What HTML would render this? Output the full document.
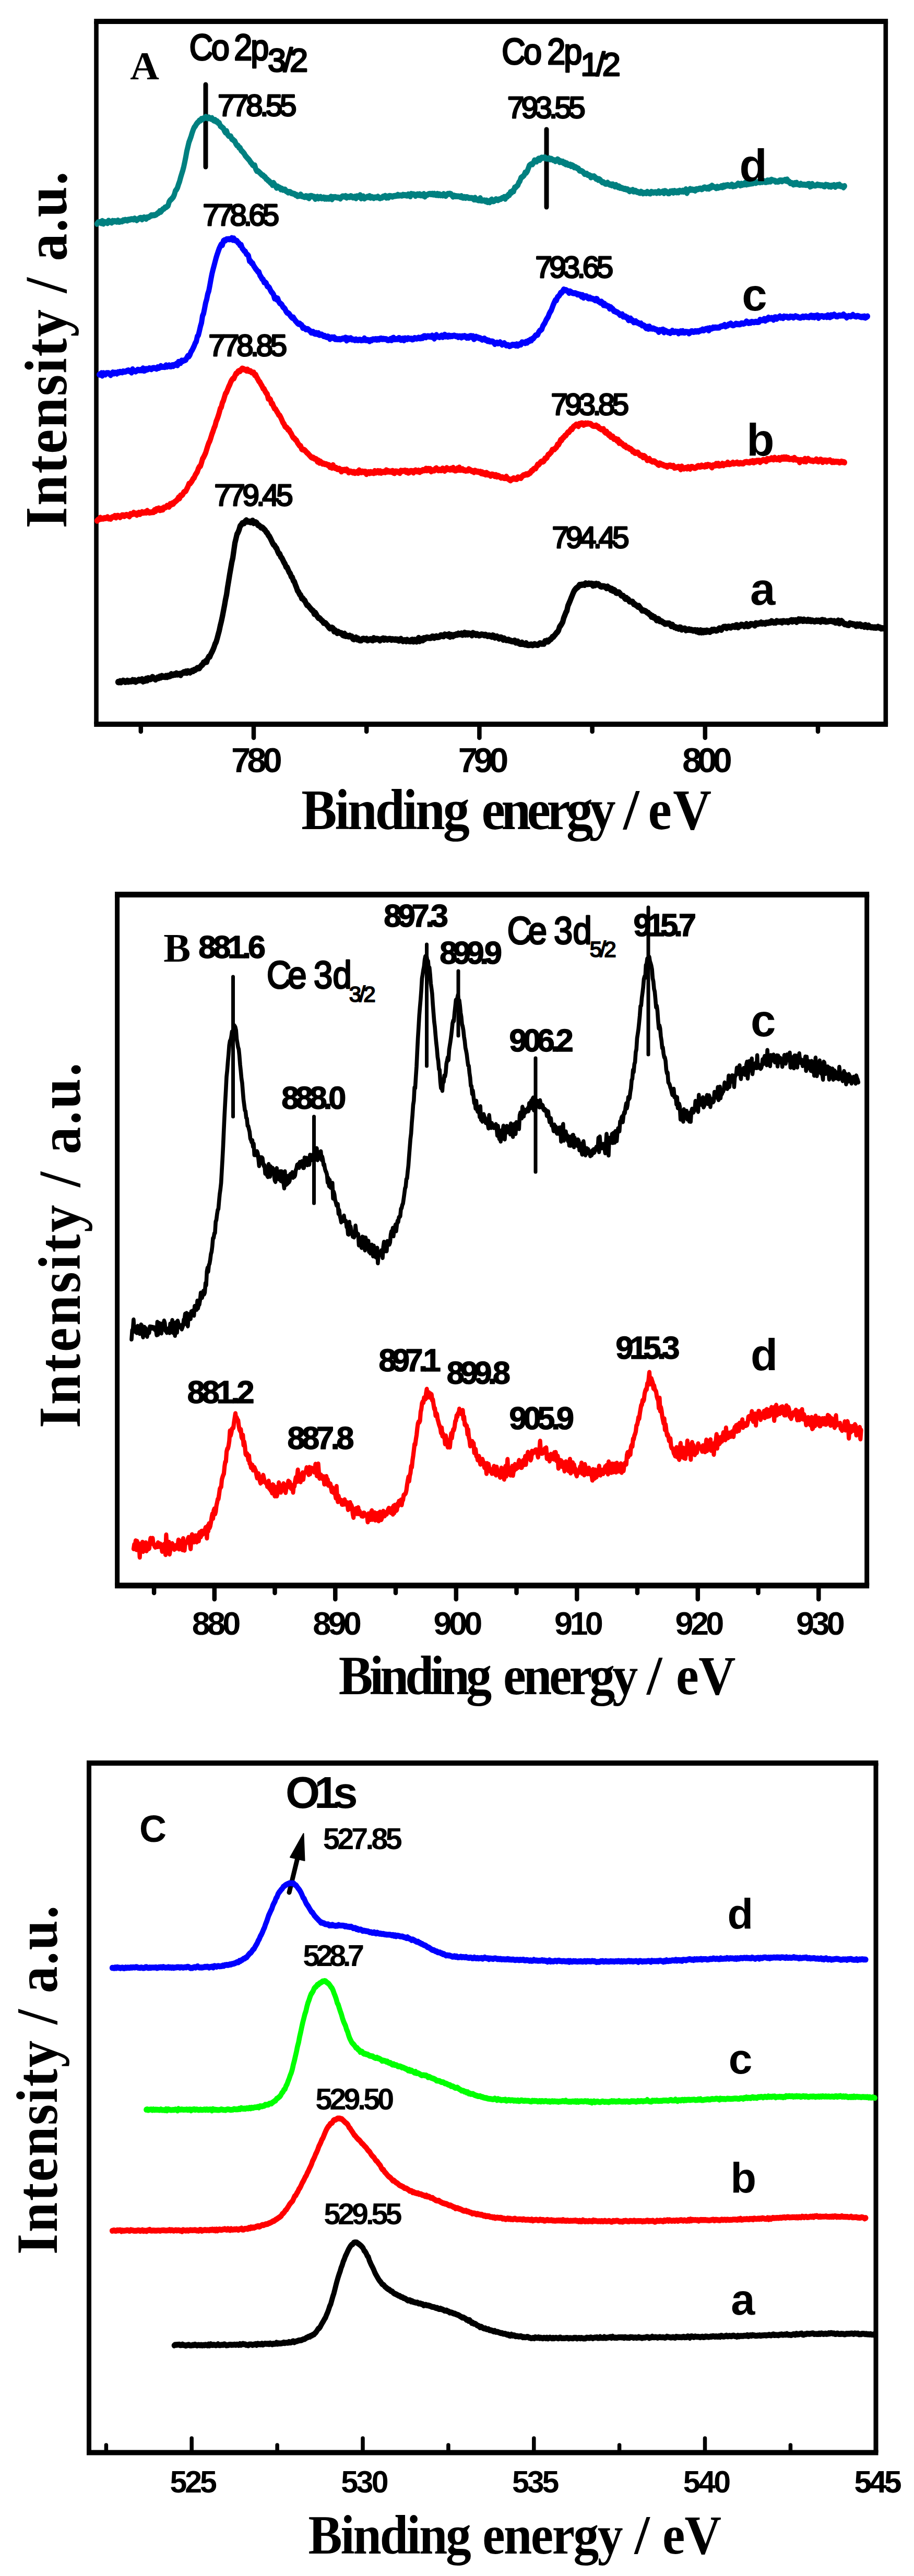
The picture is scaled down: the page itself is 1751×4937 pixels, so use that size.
<!DOCTYPE html>
<html><head><meta charset="utf-8"><title>XPS spectra</title>
<style>html,body{margin:0;padding:0;background:#fff}svg{display:block}</style>
</head><body>
<svg width="1751" height="4937" viewBox="0 0 1751 4937">
<rect width="1751" height="4937" fill="#fff"/>
<line x1="180.2" y1="41" x2="1701.1" y2="41" stroke="#000" stroke-width="10"/>
<line x1="180.2" y1="1388" x2="1701.1" y2="1388" stroke="#000" stroke-width="10"/>
<line x1="184.5" y1="41" x2="184.5" y2="1388" stroke="#000" stroke-width="8.6"/>
<line x1="1696.8" y1="41" x2="1696.8" y2="1388" stroke="#000" stroke-width="8.6"/>
<line x1="269.8" y1="1388" x2="269.8" y2="1402" stroke="#000" stroke-width="8.5" stroke-linecap="round"/>
<line x1="486.0" y1="1388" x2="486.0" y2="1414" stroke="#000" stroke-width="8.5" stroke-linecap="round"/>
<line x1="702.2" y1="1388" x2="702.2" y2="1402" stroke="#000" stroke-width="8.5" stroke-linecap="round"/>
<line x1="918.4" y1="1388" x2="918.4" y2="1414" stroke="#000" stroke-width="8.5" stroke-linecap="round"/>
<line x1="1134.6" y1="1388" x2="1134.6" y2="1402" stroke="#000" stroke-width="8.5" stroke-linecap="round"/>
<line x1="1350.8" y1="1388" x2="1350.8" y2="1414" stroke="#000" stroke-width="8.5" stroke-linecap="round"/>
<line x1="1567.0" y1="1388" x2="1567.0" y2="1402" stroke="#000" stroke-width="8.5" stroke-linecap="round"/>
<line x1="394" y1="162" x2="394" y2="320" stroke="#000" stroke-width="9" stroke-linecap="round"/>
<line x1="1047" y1="248" x2="1047" y2="397" stroke="#000" stroke-width="9" stroke-linecap="round"/>
<path transform="scale(1,1.16)" d="M186.0,369.9 L188.0,367.3 L190.0,367.4 L192.0,366.7 L194.0,368.8 L196.0,365.1 L198.0,369.5 L200.0,366.6 L202.0,367.7 L204.0,366.9 L206.0,368.7 L208.0,364.7 L210.0,366.5 L212.0,366.2 L214.0,367.8 L216.0,365.1 L218.0,366.0 L220.0,365.1 L222.0,365.9 L224.0,366.4 L226.0,364.3 L228.0,366.6 L230.0,366.2 L232.0,365.6 L234.0,365.8 L236.0,363.9 L238.0,364.3 L240.0,363.2 L242.0,363.7 L244.0,364.4 L246.0,362.9 L248.0,363.0 L250.0,362.5 L252.0,362.1 L254.0,362.1 L256.0,362.6 L258.0,361.1 L260.0,362.4 L262.0,363.8 L264.0,362.5 L266.0,361.2 L268.0,360.2 L270.0,360.0 L272.0,362.5 L274.0,360.3 L276.0,359.2 L278.0,359.8 L280.0,361.6 L282.0,359.0 L284.0,359.1 L286.0,358.3 L288.0,357.1 L290.0,355.7 L292.0,355.9 L294.0,355.4 L296.0,355.5 L298.0,354.9 L300.0,354.0 L302.0,352.3 L304.0,351.8 L306.0,348.8 L308.0,349.9 L310.0,347.8 L312.0,345.5 L314.0,345.0 L316.0,342.9 L318.0,342.5 L320.0,341.1 L322.0,339.7 L324.0,333.5 L326.0,331.0 L328.0,329.5 L330.0,327.5 L332.0,325.4 L334.0,321.6 L336.0,315.5 L338.0,313.3 L340.0,310.1 L342.0,304.5 L344.0,299.9 L346.0,293.3 L348.0,287.6 L350.0,282.1 L352.0,275.6 L354.0,267.5 L356.0,258.9 L358.0,249.4 L360.0,242.4 L362.0,235.0 L364.0,230.4 L366.0,225.5 L368.0,219.7 L370.0,214.7 L372.0,210.6 L374.0,208.5 L376.0,205.4 L378.0,203.0 L380.0,201.6 L382.0,199.2 L384.0,199.1 L386.0,196.4 L388.0,197.2 L390.0,195.4 L392.0,195.1 L394.0,193.1 L396.0,194.6 L398.0,195.5 L400.0,194.0 L402.0,195.3 L404.0,196.2 L406.0,195.3 L408.0,197.9 L410.0,199.2 L412.0,198.2 L414.0,200.7 L416.0,200.2 L418.0,203.2 L420.0,203.2 L422.0,208.1 L424.0,209.2 L426.0,210.8 L428.0,212.0 L430.0,216.3 L432.0,219.0 L434.0,216.6 L436.0,222.0 L438.0,224.4 L440.0,224.9 L442.0,225.2 L444.0,229.6 L446.0,230.5 L448.0,232.1 L450.0,233.5 L452.0,237.6 L454.0,240.1 L456.0,240.6 L458.0,244.0 L460.0,244.3 L462.0,248.6 L464.0,249.9 L466.0,251.8 L468.0,254.0 L470.0,257.2 L472.0,259.2 L474.0,261.2 L476.0,263.0 L478.0,265.1 L480.0,268.0 L482.0,269.8 L484.0,272.5 L486.0,273.5 L488.0,273.3 L490.0,279.3 L492.0,282.6 L494.0,282.6 L496.0,283.9 L498.0,285.6 L500.0,287.4 L502.0,289.1 L504.0,289.5 L506.0,291.7 L508.0,292.7 L510.0,295.6 L512.0,296.4 L514.0,298.7 L516.0,299.3 L518.0,301.9 L520.0,302.3 L522.0,305.7 L524.0,302.3 L526.0,304.8 L528.0,307.6 L530.0,310.4 L532.0,308.2 L534.0,309.5 L536.0,310.1 L538.0,312.8 L540.0,311.8 L542.0,313.7 L544.0,313.4 L546.0,313.1 L548.0,315.6 L550.0,316.5 L552.0,318.0 L554.0,317.1 L556.0,317.2 L558.0,319.1 L560.0,319.4 L562.0,320.0 L564.0,320.2 L566.0,322.1 L568.0,321.8 L570.0,324.0 L572.0,323.6 L574.0,323.5 L576.0,321.3 L578.0,324.2 L580.0,324.3 L582.0,325.0 L584.0,325.5 L586.0,324.1 L588.0,325.7 L590.0,324.4 L592.0,327.5 L594.0,324.0 L596.0,323.7 L598.0,324.1 L600.0,325.1 L602.0,325.0 L604.0,328.6 L606.0,326.1 L608.0,325.1 L610.0,327.9 L612.0,326.1 L614.0,325.3 L616.0,327.7 L618.0,327.4 L620.0,326.2 L622.0,328.3 L624.0,326.8 L626.0,328.4 L628.0,327.1 L630.0,328.3 L632.0,326.6 L634.0,325.1 L636.0,329.2 L638.0,325.7 L640.0,326.1 L642.0,325.5 L644.0,326.0 L646.0,326.4 L648.0,326.3 L650.0,326.8 L652.0,328.0 L654.0,325.8 L656.0,324.5 L658.0,324.5 L660.0,325.0 L662.0,323.9 L664.0,326.6 L666.0,325.1 L668.0,325.3 L670.0,325.6 L672.0,324.0 L674.0,324.6 L676.0,326.3 L678.0,326.2 L680.0,325.0 L682.0,327.5 L684.0,324.1 L686.0,325.1 L688.0,325.3 L690.0,322.4 L692.0,327.7 L694.0,326.0 L696.0,324.4 L698.0,327.9 L700.0,326.3 L702.0,326.2 L704.0,325.0 L706.0,325.8 L708.0,324.0 L710.0,326.7 L712.0,325.4 L714.0,325.9 L716.0,327.2 L718.0,326.1 L720.0,326.1 L722.0,326.2 L724.0,325.0 L726.0,326.8 L728.0,327.6 L730.0,326.7 L732.0,326.7 L734.0,324.7 L736.0,324.5 L738.0,323.7 L740.0,326.6 L742.0,324.7 L744.0,326.4 L746.0,323.7 L748.0,323.9 L750.0,324.3 L752.0,325.0 L754.0,323.9 L756.0,323.9 L758.0,323.5 L760.0,323.5 L762.0,322.0 L764.0,323.2 L766.0,322.8 L768.0,322.8 L770.0,323.3 L772.0,321.9 L774.0,322.5 L776.0,322.2 L778.0,322.9 L780.0,323.2 L782.0,321.2 L784.0,322.8 L786.0,324.4 L788.0,320.4 L790.0,321.1 L792.0,320.9 L794.0,321.6 L796.0,323.6 L798.0,321.8 L800.0,320.9 L802.0,322.3 L804.0,320.9 L806.0,322.8 L808.0,321.8 L810.0,323.0 L812.0,320.6 L814.0,324.7 L816.0,322.2 L818.0,322.0 L820.0,321.2 L822.0,320.4 L824.0,320.2 L826.0,321.0 L828.0,320.2 L830.0,321.4 L832.0,320.2 L834.0,321.8 L836.0,322.2 L838.0,320.4 L840.0,322.6 L842.0,321.1 L844.0,322.7 L846.0,322.0 L848.0,322.9 L850.0,320.7 L852.0,321.8 L854.0,323.7 L856.0,321.6 L858.0,320.2 L860.0,320.5 L862.0,320.0 L864.0,320.7 L866.0,322.8 L868.0,324.9 L870.0,323.2 L872.0,324.3 L874.0,324.0 L876.0,324.4 L878.0,324.4 L880.0,324.6 L882.0,325.5 L884.0,323.9 L886.0,326.5 L888.0,326.7 L890.0,325.6 L892.0,327.0 L894.0,325.6 L896.0,326.1 L898.0,327.1 L900.0,327.1 L902.0,327.1 L904.0,327.2 L906.0,327.7 L908.0,329.7 L910.0,326.8 L912.0,329.7 L914.0,329.4 L916.0,330.8 L918.0,330.9 L920.0,327.4 L922.0,331.5 L924.0,331.4 L926.0,331.3 L928.0,331.0 L930.0,332.6 L932.0,331.3 L934.0,333.9 L936.0,332.5 L938.0,334.3 L940.0,331.0 L942.0,329.8 L944.0,332.4 L946.0,332.3 L948.0,331.1 L950.0,329.1 L952.0,329.9 L954.0,330.7 L956.0,329.4 L958.0,329.0 L960.0,328.5 L962.0,327.1 L964.0,327.0 L966.0,325.4 L968.0,328.4 L970.0,324.9 L972.0,324.8 L974.0,321.7 L976.0,322.1 L978.0,317.3 L980.0,318.5 L982.0,315.4 L984.0,315.8 L986.0,309.9 L988.0,309.4 L990.0,307.4 L992.0,305.9 L994.0,301.4 L996.0,299.2 L998.0,293.9 L1000.0,292.6 L1002.0,291.3 L1004.0,289.4 L1006.0,285.3 L1008.0,285.6 L1010.0,283.0 L1012.0,278.6 L1014.0,273.6 L1016.0,272.1 L1018.0,271.1 L1020.0,271.4 L1022.0,268.9 L1024.0,264.9 L1026.0,265.9 L1028.0,266.8 L1030.0,263.5 L1032.0,262.1 L1034.0,264.4 L1036.0,261.4 L1038.0,260.3 L1040.0,260.9 L1042.0,260.4 L1044.0,259.9 L1046.0,261.9 L1048.0,262.1 L1050.0,262.1 L1052.0,261.5 L1054.0,263.3 L1056.0,262.4 L1058.0,263.5 L1060.0,264.5 L1062.0,264.7 L1064.0,266.2 L1066.0,265.2 L1068.0,263.3 L1070.0,264.4 L1072.0,267.8 L1074.0,266.4 L1076.0,267.8 L1078.0,267.0 L1080.0,269.7 L1082.0,268.8 L1084.0,271.5 L1086.0,269.9 L1088.0,272.4 L1090.0,272.6 L1092.0,271.8 L1094.0,274.5 L1096.0,273.0 L1098.0,273.9 L1100.0,276.5 L1102.0,275.9 L1104.0,276.9 L1106.0,278.1 L1108.0,278.4 L1110.0,281.7 L1112.0,282.2 L1114.0,282.5 L1116.0,283.4 L1118.0,285.1 L1120.0,287.5 L1122.0,287.5 L1124.0,286.9 L1126.0,289.2 L1128.0,289.1 L1130.0,289.8 L1132.0,293.0 L1134.0,291.3 L1136.0,292.1 L1138.0,291.2 L1140.0,292.7 L1142.0,295.5 L1144.0,295.1 L1146.0,297.2 L1148.0,296.1 L1150.0,297.3 L1152.0,299.7 L1154.0,301.3 L1156.0,301.0 L1158.0,302.4 L1160.0,303.6 L1162.0,303.6 L1164.0,302.0 L1166.0,303.6 L1168.0,305.1 L1170.0,304.6 L1172.0,306.2 L1174.0,304.6 L1176.0,306.1 L1178.0,308.2 L1180.0,305.7 L1182.0,307.5 L1184.0,309.3 L1186.0,307.9 L1188.0,310.4 L1190.0,310.0 L1192.0,311.0 L1194.0,311.4 L1196.0,312.3 L1198.0,311.9 L1200.0,313.0 L1202.0,312.7 L1204.0,314.4 L1206.0,316.0 L1208.0,314.7 L1210.0,315.1 L1212.0,313.9 L1214.0,316.4 L1216.0,315.1 L1218.0,315.3 L1220.0,317.1 L1222.0,317.0 L1224.0,318.2 L1226.0,318.8 L1228.0,316.8 L1230.0,317.7 L1232.0,319.6 L1234.0,318.8 L1236.0,318.5 L1238.0,319.2 L1240.0,317.1 L1242.0,318.5 L1244.0,319.4 L1246.0,319.7 L1248.0,317.0 L1250.0,317.7 L1252.0,318.4 L1254.0,317.7 L1256.0,317.6 L1258.0,318.8 L1260.0,317.6 L1262.0,316.1 L1264.0,318.5 L1266.0,317.6 L1268.0,317.3 L1270.0,316.3 L1272.0,319.2 L1274.0,315.6 L1276.0,316.2 L1278.0,317.7 L1280.0,319.3 L1282.0,319.3 L1284.0,316.4 L1286.0,317.4 L1288.0,315.7 L1290.0,318.4 L1292.0,315.4 L1294.0,316.7 L1296.0,317.8 L1298.0,316.2 L1300.0,317.8 L1302.0,315.0 L1304.0,316.1 L1306.0,316.5 L1308.0,315.1 L1310.0,316.6 L1312.0,315.5 L1314.0,312.8 L1316.0,318.9 L1318.0,315.0 L1320.0,314.2 L1322.0,312.3 L1324.0,313.7 L1326.0,312.9 L1328.0,313.9 L1330.0,313.4 L1332.0,314.8 L1334.0,312.6 L1336.0,312.8 L1338.0,312.4 L1340.0,311.6 L1342.0,311.4 L1344.0,312.6 L1346.0,312.0 L1348.0,310.2 L1350.0,309.5 L1352.0,310.5 L1354.0,311.6 L1356.0,310.1 L1358.0,311.9 L1360.0,308.9 L1362.0,309.8 L1364.0,306.7 L1366.0,308.6 L1368.0,308.8 L1370.0,309.6 L1372.0,310.8 L1374.0,308.7 L1376.0,310.2 L1378.0,309.1 L1380.0,309.3 L1382.0,307.6 L1384.0,309.5 L1386.0,306.6 L1388.0,308.2 L1390.0,306.4 L1392.0,306.8 L1394.0,305.6 L1396.0,306.5 L1398.0,307.3 L1400.0,306.6 L1402.0,305.0 L1404.0,308.0 L1406.0,306.6 L1408.0,307.2 L1410.0,306.7 L1412.0,304.9 L1414.0,303.3 L1416.0,304.2 L1418.0,306.4 L1420.0,303.6 L1422.0,305.5 L1424.0,303.7 L1426.0,304.6 L1428.0,301.8 L1430.0,304.9 L1432.0,303.3 L1434.0,304.1 L1436.0,303.1 L1438.0,303.5 L1440.0,302.3 L1442.0,303.0 L1444.0,300.2 L1446.0,300.5 L1448.0,302.3 L1450.0,301.2 L1452.0,300.8 L1454.0,300.6 L1456.0,301.2 L1458.0,299.7 L1460.0,300.8 L1462.0,299.0 L1464.0,299.4 L1466.0,300.8 L1468.0,300.8 L1470.0,298.2 L1472.0,300.2 L1474.0,298.0 L1476.0,299.9 L1478.0,296.9 L1480.0,297.7 L1482.0,298.2 L1484.0,298.5 L1486.0,300.2 L1488.0,299.6 L1490.0,300.2 L1492.0,299.8 L1494.0,298.0 L1496.0,298.0 L1498.0,299.5 L1500.0,298.3 L1502.0,298.1 L1504.0,297.1 L1506.0,298.9 L1508.0,296.6 L1510.0,299.9 L1512.0,300.1 L1514.0,302.7 L1516.0,302.1 L1518.0,302.8 L1520.0,305.0 L1522.0,302.5 L1524.0,304.2 L1526.0,301.9 L1528.0,304.2 L1530.0,304.8 L1532.0,305.4 L1534.0,303.6 L1536.0,305.0 L1538.0,305.1 L1540.0,304.9 L1542.0,305.2 L1544.0,305.6 L1546.0,305.6 L1548.0,304.1 L1550.0,304.0 L1552.0,308.2 L1554.0,307.6 L1556.0,304.0 L1558.0,306.1 L1560.0,306.4 L1562.0,306.6 L1564.0,306.0 L1566.0,304.9 L1568.0,305.8 L1570.0,305.6 L1572.0,306.4 L1574.0,306.0 L1576.0,306.2 L1578.0,307.6 L1580.0,307.9 L1582.0,305.3 L1584.0,306.2 L1586.0,305.9 L1588.0,308.2 L1590.0,306.8 L1592.0,308.6 L1594.0,306.5 L1596.0,307.1 L1598.0,305.7 L1600.0,308.7 L1602.0,306.9 L1604.0,305.7 L1606.0,306.8 L1608.0,304.9 L1610.0,307.5 L1612.0,307.7 L1614.0,308.0 L1616.0,309.4 L1618.0,307.4" fill="none" stroke="#008080" stroke-width="10" stroke-linejoin="round" stroke-linecap="round"/>
<path transform="scale(1,1.16)" d="M190.0,618.8 L192.0,619.1 L194.0,616.5 L196.0,620.6 L198.0,616.5 L200.0,617.4 L202.0,618.7 L204.0,616.5 L206.0,616.5 L208.0,616.5 L210.0,618.0 L212.0,619.7 L214.0,617.0 L216.0,615.5 L218.0,617.1 L220.0,615.7 L222.0,616.1 L224.0,617.2 L226.0,614.9 L228.0,615.5 L230.0,614.3 L232.0,614.9 L234.0,615.2 L236.0,613.6 L238.0,614.1 L240.0,614.0 L242.0,613.3 L244.0,612.5 L246.0,612.0 L248.0,613.3 L250.0,612.9 L252.0,615.5 L254.0,610.1 L256.0,612.7 L258.0,612.8 L260.0,613.7 L262.0,612.5 L264.0,610.8 L266.0,611.5 L268.0,611.9 L270.0,610.8 L272.0,611.8 L274.0,608.6 L276.0,612.4 L278.0,611.9 L280.0,609.7 L282.0,610.5 L284.0,609.6 L286.0,608.4 L288.0,609.2 L290.0,610.0 L292.0,608.3 L294.0,608.0 L296.0,608.1 L298.0,608.5 L300.0,609.2 L302.0,606.8 L304.0,607.9 L306.0,607.3 L308.0,604.8 L310.0,606.2 L312.0,606.3 L314.0,606.2 L316.0,606.4 L318.0,603.6 L320.0,605.7 L322.0,604.6 L324.0,603.5 L326.0,605.4 L328.0,605.3 L330.0,603.4 L332.0,604.7 L334.0,602.9 L336.0,602.9 L338.0,601.0 L340.0,603.4 L342.0,597.9 L344.0,599.9 L346.0,599.8 L348.0,595.7 L350.0,596.7 L352.0,595.6 L354.0,595.3 L356.0,594.4 L358.0,591.0 L360.0,588.0 L362.0,588.8 L364.0,585.9 L366.0,581.0 L368.0,578.7 L370.0,575.1 L372.0,571.5 L374.0,567.0 L376.0,564.1 L378.0,556.1 L380.0,553.7 L382.0,546.8 L384.0,539.2 L386.0,533.4 L388.0,521.8 L390.0,517.9 L392.0,509.4 L394.0,500.3 L396.0,494.4 L398.0,485.6 L400.0,480.6 L402.0,471.5 L404.0,461.9 L406.0,452.8 L408.0,445.7 L410.0,439.3 L412.0,432.7 L414.0,426.1 L416.0,420.5 L418.0,415.5 L420.0,410.6 L422.0,406.8 L424.0,403.6 L426.0,404.9 L428.0,398.1 L430.0,396.9 L432.0,397.3 L434.0,395.4 L436.0,395.3 L438.0,395.1 L440.0,395.4 L442.0,395.0 L444.0,393.4 L446.0,396.4 L448.0,394.1 L450.0,396.9 L452.0,397.5 L454.0,397.9 L456.0,401.1 L458.0,402.0 L460.0,405.4 L462.0,404.9 L464.0,410.0 L466.0,412.3 L468.0,414.6 L470.0,415.6 L472.0,419.6 L474.0,420.7 L476.0,422.6 L478.0,431.2 L480.0,431.2 L482.0,434.8 L484.0,435.0 L486.0,439.0 L488.0,441.7 L490.0,444.3 L492.0,446.4 L494.0,448.8 L496.0,449.4 L498.0,455.0 L500.0,457.4 L502.0,460.7 L504.0,461.6 L506.0,466.4 L508.0,466.4 L510.0,468.0 L512.0,472.9 L514.0,473.8 L516.0,475.3 L518.0,479.3 L520.0,482.3 L522.0,484.1 L524.0,486.7 L526.0,493.1 L528.0,491.7 L530.0,494.8 L532.0,493.2 L534.0,498.1 L536.0,500.9 L538.0,501.9 L540.0,503.5 L542.0,507.2 L544.0,508.6 L546.0,510.4 L548.0,514.4 L550.0,516.6 L552.0,517.4 L554.0,518.5 L556.0,521.4 L558.0,523.5 L560.0,525.1 L562.0,524.5 L564.0,527.5 L566.0,530.0 L568.0,531.9 L570.0,533.9 L572.0,535.2 L574.0,534.5 L576.0,536.4 L578.0,537.1 L580.0,541.7 L582.0,541.0 L584.0,542.5 L586.0,544.1 L588.0,543.6 L590.0,543.7 L592.0,545.5 L594.0,546.7 L596.0,549.5 L598.0,549.6 L600.0,548.2 L602.0,550.9 L604.0,551.6 L606.0,550.2 L608.0,551.9 L610.0,550.5 L612.0,553.5 L614.0,553.3 L616.0,552.6 L618.0,553.8 L620.0,555.4 L622.0,554.9 L624.0,556.3 L626.0,557.0 L628.0,555.9 L630.0,556.9 L632.0,560.0 L634.0,558.1 L636.0,557.3 L638.0,558.6 L640.0,557.3 L642.0,560.3 L644.0,559.6 L646.0,560.6 L648.0,560.6 L650.0,560.1 L652.0,560.9 L654.0,560.2 L656.0,559.4 L658.0,559.1 L660.0,559.8 L662.0,557.7 L664.0,562.6 L666.0,558.8 L668.0,560.7 L670.0,559.4 L672.0,558.7 L674.0,561.0 L676.0,560.8 L678.0,561.1 L680.0,562.0 L682.0,560.7 L684.0,561.9 L686.0,562.1 L688.0,561.2 L690.0,561.3 L692.0,562.3 L694.0,561.8 L696.0,561.9 L698.0,559.1 L700.0,561.8 L702.0,562.1 L704.0,561.6 L706.0,562.1 L708.0,563.8 L710.0,561.7 L712.0,562.3 L714.0,560.6 L716.0,560.5 L718.0,560.9 L720.0,560.2 L722.0,561.3 L724.0,560.2 L726.0,561.0 L728.0,559.5 L730.0,559.2 L732.0,560.2 L734.0,559.7 L736.0,560.1 L738.0,560.1 L740.0,560.3 L742.0,561.8 L744.0,562.1 L746.0,561.3 L748.0,560.1 L750.0,562.1 L752.0,558.7 L754.0,558.1 L756.0,560.6 L758.0,560.3 L760.0,560.1 L762.0,560.3 L764.0,558.4 L766.0,558.9 L768.0,561.6 L770.0,561.3 L772.0,559.3 L774.0,562.3 L776.0,558.9 L778.0,559.5 L780.0,560.4 L782.0,558.7 L784.0,559.5 L786.0,559.8 L788.0,559.5 L790.0,560.9 L792.0,560.5 L794.0,558.5 L796.0,558.8 L798.0,559.5 L800.0,559.0 L802.0,557.9 L804.0,559.0 L806.0,559.1 L808.0,557.2 L810.0,558.5 L812.0,555.5 L814.0,555.3 L816.0,557.4 L818.0,555.8 L820.0,555.4 L822.0,556.1 L824.0,555.6 L826.0,556.6 L828.0,554.5 L830.0,555.6 L832.0,559.4 L834.0,555.9 L836.0,553.5 L838.0,556.3 L840.0,556.1 L842.0,557.0 L844.0,555.5 L846.0,554.5 L848.0,556.8 L850.0,555.9 L852.0,553.0 L854.0,555.8 L856.0,554.7 L858.0,556.2 L860.0,554.5 L862.0,555.7 L864.0,555.1 L866.0,555.5 L868.0,554.8 L870.0,554.4 L872.0,555.0 L874.0,555.6 L876.0,555.4 L878.0,556.9 L880.0,555.6 L882.0,555.9 L884.0,557.7 L886.0,555.5 L888.0,556.2 L890.0,555.0 L892.0,555.9 L894.0,557.9 L896.0,556.5 L898.0,558.0 L900.0,555.3 L902.0,555.1 L904.0,557.2 L906.0,555.5 L908.0,560.3 L910.0,558.9 L912.0,556.3 L914.0,557.7 L916.0,557.5 L918.0,558.9 L920.0,558.7 L922.0,560.2 L924.0,561.3 L926.0,559.9 L928.0,559.3 L930.0,561.7 L932.0,561.4 L934.0,563.4 L936.0,562.5 L938.0,564.1 L940.0,564.1 L942.0,564.0 L944.0,564.2 L946.0,565.9 L948.0,568.4 L950.0,566.8 L952.0,566.1 L954.0,567.3 L956.0,566.9 L958.0,565.6 L960.0,567.7 L962.0,569.4 L964.0,567.6 L966.0,566.9 L968.0,569.0 L970.0,570.7 L972.0,570.0 L974.0,570.3 L976.0,571.9 L978.0,571.3 L980.0,570.4 L982.0,569.5 L984.0,569.9 L986.0,569.7 L988.0,570.8 L990.0,568.7 L992.0,571.2 L994.0,569.4 L996.0,568.4 L998.0,569.3 L1000.0,565.5 L1002.0,566.3 L1004.0,565.9 L1006.0,566.9 L1008.0,564.7 L1010.0,566.2 L1012.0,563.3 L1014.0,563.6 L1016.0,561.4 L1018.0,562.4 L1020.0,559.6 L1022.0,559.1 L1024.0,556.5 L1026.0,554.3 L1028.0,553.5 L1030.0,553.2 L1032.0,549.0 L1034.0,546.4 L1036.0,545.3 L1038.0,543.8 L1040.0,538.6 L1042.0,535.9 L1044.0,533.3 L1046.0,529.1 L1048.0,526.2 L1050.0,523.7 L1052.0,518.9 L1054.0,515.5 L1056.0,512.9 L1058.0,508.2 L1060.0,503.4 L1062.0,499.6 L1064.0,495.9 L1066.0,496.0 L1068.0,491.0 L1070.0,489.4 L1072.0,487.6 L1074.0,483.8 L1076.0,483.7 L1078.0,480.9 L1080.0,478.2 L1082.0,479.9 L1084.0,479.1 L1086.0,480.1 L1088.0,481.3 L1090.0,483.9 L1092.0,481.4 L1094.0,482.4 L1096.0,483.8 L1098.0,484.3 L1100.0,484.6 L1102.0,484.3 L1104.0,485.1 L1106.0,486.6 L1108.0,486.0 L1110.0,487.1 L1112.0,486.9 L1114.0,490.0 L1116.0,487.5 L1118.0,491.8 L1120.0,489.5 L1122.0,489.4 L1124.0,489.7 L1126.0,492.3 L1128.0,493.1 L1130.0,491.5 L1132.0,493.3 L1134.0,493.3 L1136.0,493.8 L1138.0,494.8 L1140.0,496.1 L1142.0,493.8 L1144.0,494.2 L1146.0,497.7 L1148.0,498.3 L1150.0,500.1 L1152.0,498.3 L1154.0,500.1 L1156.0,504.0 L1158.0,501.8 L1160.0,504.7 L1162.0,504.5 L1164.0,506.0 L1166.0,506.0 L1168.0,509.9 L1170.0,507.5 L1172.0,509.3 L1174.0,510.6 L1176.0,513.9 L1178.0,514.0 L1180.0,515.4 L1182.0,515.7 L1184.0,517.0 L1186.0,518.3 L1188.0,520.5 L1190.0,520.1 L1192.0,519.2 L1194.0,523.1 L1196.0,523.0 L1198.0,522.6 L1200.0,524.6 L1202.0,524.7 L1204.0,529.0 L1206.0,527.2 L1208.0,526.2 L1210.0,529.7 L1212.0,529.3 L1214.0,532.5 L1216.0,532.1 L1218.0,530.8 L1220.0,533.0 L1222.0,533.2 L1224.0,534.4 L1226.0,535.3 L1228.0,534.5 L1230.0,537.7 L1232.0,537.2 L1234.0,537.9 L1236.0,540.4 L1238.0,542.3 L1240.0,540.0 L1242.0,543.2 L1244.0,539.4 L1246.0,542.8 L1248.0,542.1 L1250.0,543.1 L1252.0,542.6 L1254.0,543.5 L1256.0,544.3 L1258.0,544.7 L1260.0,545.9 L1262.0,548.5 L1264.0,545.5 L1266.0,546.4 L1268.0,544.9 L1270.0,544.4 L1272.0,549.0 L1274.0,546.1 L1276.0,547.0 L1278.0,548.0 L1280.0,549.1 L1282.0,548.5 L1284.0,550.3 L1286.0,548.1 L1288.0,546.4 L1290.0,548.7 L1292.0,548.7 L1294.0,547.7 L1296.0,548.4 L1298.0,548.1 L1300.0,550.8 L1302.0,548.2 L1304.0,547.4 L1306.0,549.3 L1308.0,547.0 L1310.0,549.6 L1312.0,549.6 L1314.0,548.2 L1316.0,548.5 L1318.0,548.5 L1320.0,550.9 L1322.0,549.5 L1324.0,547.5 L1326.0,547.3 L1328.0,548.4 L1330.0,548.2 L1332.0,547.0 L1334.0,547.9 L1336.0,547.0 L1338.0,548.0 L1340.0,546.9 L1342.0,546.0 L1344.0,545.8 L1346.0,544.3 L1348.0,545.8 L1350.0,544.9 L1352.0,543.6 L1354.0,543.9 L1356.0,542.8 L1358.0,545.9 L1360.0,542.3 L1362.0,543.1 L1364.0,542.7 L1366.0,541.1 L1368.0,541.7 L1370.0,541.0 L1372.0,541.4 L1374.0,541.1 L1376.0,541.4 L1378.0,541.2 L1380.0,539.5 L1382.0,539.1 L1384.0,538.8 L1386.0,538.2 L1388.0,536.9 L1390.0,539.3 L1392.0,538.3 L1394.0,537.8 L1396.0,536.0 L1398.0,535.9 L1400.0,534.5 L1402.0,536.9 L1404.0,537.5 L1406.0,537.1 L1408.0,536.1 L1410.0,534.7 L1412.0,535.7 L1414.0,535.4 L1416.0,536.0 L1418.0,535.8 L1420.0,534.3 L1422.0,534.4 L1424.0,534.9 L1426.0,534.4 L1428.0,533.4 L1430.0,531.0 L1432.0,532.4 L1434.0,533.8 L1436.0,532.8 L1438.0,533.4 L1440.0,531.7 L1442.0,532.0 L1444.0,532.5 L1446.0,532.1 L1448.0,531.5 L1450.0,532.1 L1452.0,532.1 L1454.0,531.9 L1456.0,528.2 L1458.0,529.2 L1460.0,529.1 L1462.0,528.7 L1464.0,526.9 L1466.0,529.9 L1468.0,527.0 L1470.0,527.8 L1472.0,524.7 L1474.0,526.4 L1476.0,526.4 L1478.0,525.3 L1480.0,526.8 L1482.0,528.3 L1484.0,524.4 L1486.0,524.1 L1488.0,526.8 L1490.0,525.2 L1492.0,524.0 L1494.0,522.7 L1496.0,524.8 L1498.0,524.1 L1500.0,525.6 L1502.0,522.8 L1504.0,523.5 L1506.0,523.4 L1508.0,523.4 L1510.0,524.8 L1512.0,524.6 L1514.0,522.9 L1516.0,523.5 L1518.0,523.3 L1520.0,524.6 L1522.0,523.3 L1524.0,522.3 L1526.0,523.1 L1528.0,523.4 L1530.0,524.5 L1532.0,524.9 L1534.0,524.9 L1536.0,523.9 L1538.0,522.9 L1540.0,524.1 L1542.0,523.2 L1544.0,522.7 L1546.0,523.7 L1548.0,523.8 L1550.0,524.3 L1552.0,522.3 L1554.0,521.4 L1556.0,523.8 L1558.0,522.1 L1560.0,524.3 L1562.0,521.9 L1564.0,522.4 L1566.0,521.0 L1568.0,525.3 L1570.0,522.4 L1572.0,522.8 L1574.0,522.2 L1576.0,522.5 L1578.0,523.6 L1580.0,522.7 L1582.0,522.5 L1584.0,523.8 L1586.0,520.9 L1588.0,523.6 L1590.0,524.1 L1592.0,520.7 L1594.0,522.5 L1596.0,520.7 L1598.0,519.8 L1600.0,521.2 L1602.0,522.7 L1604.0,522.9 L1606.0,521.6 L1608.0,521.1 L1610.0,521.6 L1612.0,521.3 L1614.0,521.4 L1616.0,519.4 L1618.0,521.9 L1620.0,522.0 L1622.0,524.7 L1624.0,523.0 L1626.0,522.1 L1628.0,522.4 L1630.0,522.8 L1632.0,521.7 L1634.0,520.2 L1636.0,521.8 L1638.0,522.5 L1640.0,523.0 L1642.0,522.1 L1644.0,522.0 L1646.0,522.8 L1648.0,523.3 L1650.0,524.0 L1652.0,523.2 L1654.0,524.1 L1656.0,522.6 L1658.0,524.8 L1660.0,523.9 L1662.0,522.6" fill="none" stroke="#0000ff" stroke-width="10" stroke-linejoin="round" stroke-linecap="round"/>
<path transform="scale(1,1.16)" d="M186.0,860.4 L188.0,858.6 L190.0,858.0 L192.0,855.5 L194.0,857.1 L196.0,856.7 L198.0,856.8 L200.0,855.9 L202.0,856.3 L204.0,855.6 L206.0,854.4 L208.0,856.6 L210.0,856.4 L212.0,857.1 L214.0,855.0 L216.0,854.2 L218.0,853.8 L220.0,852.4 L222.0,855.0 L224.0,852.5 L226.0,852.1 L228.0,853.0 L230.0,854.6 L232.0,853.0 L234.0,851.3 L236.0,851.4 L238.0,852.7 L240.0,851.6 L242.0,850.7 L244.0,851.1 L246.0,851.9 L248.0,853.1 L250.0,849.3 L252.0,849.8 L254.0,849.3 L256.0,847.3 L258.0,848.8 L260.0,848.4 L262.0,850.6 L264.0,849.0 L266.0,847.0 L268.0,849.3 L270.0,847.9 L272.0,846.1 L274.0,847.1 L276.0,846.9 L278.0,846.2 L280.0,846.9 L282.0,844.1 L284.0,845.9 L286.0,847.0 L288.0,846.5 L290.0,846.4 L292.0,846.1 L294.0,846.1 L296.0,842.7 L298.0,844.5 L300.0,841.0 L302.0,841.9 L304.0,840.0 L306.0,842.8 L308.0,842.5 L310.0,840.3 L312.0,841.9 L314.0,838.5 L316.0,838.7 L318.0,837.9 L320.0,835.7 L322.0,836.5 L324.0,837.2 L326.0,832.8 L328.0,833.8 L330.0,831.5 L332.0,832.4 L334.0,829.7 L336.0,828.6 L338.0,827.1 L340.0,825.3 L342.0,821.9 L344.0,823.4 L346.0,818.6 L348.0,818.6 L350.0,817.0 L352.0,813.3 L354.0,812.3 L356.0,811.2 L358.0,807.5 L360.0,804.2 L362.0,799.4 L364.0,799.1 L366.0,796.9 L368.0,794.3 L370.0,790.9 L372.0,789.3 L374.0,785.0 L376.0,782.2 L378.0,779.6 L380.0,774.2 L382.0,771.1 L384.0,770.0 L386.0,764.7 L388.0,758.3 L390.0,755.5 L392.0,751.9 L394.0,748.1 L396.0,742.3 L398.0,736.8 L400.0,731.8 L402.0,728.5 L404.0,723.2 L406.0,717.4 L408.0,712.8 L410.0,707.5 L412.0,703.5 L414.0,696.6 L416.0,692.5 L418.0,687.5 L420.0,681.8 L422.0,675.1 L424.0,672.5 L426.0,665.4 L428.0,662.0 L430.0,656.0 L432.0,650.3 L434.0,648.1 L436.0,643.8 L438.0,639.2 L440.0,635.8 L442.0,631.3 L444.0,628.0 L446.0,625.7 L448.0,625.2 L450.0,621.3 L452.0,617.4 L454.0,616.6 L456.0,613.8 L458.0,612.8 L460.0,613.2 L462.0,610.8 L464.0,608.9 L466.0,609.4 L468.0,610.5 L470.0,610.7 L472.0,612.3 L474.0,610.5 L476.0,612.7 L478.0,613.1 L480.0,613.2 L482.0,615.2 L484.0,615.7 L486.0,615.5 L488.0,619.6 L490.0,619.4 L492.0,623.5 L494.0,626.4 L496.0,629.8 L498.0,631.5 L500.0,635.0 L502.0,637.7 L504.0,641.8 L506.0,642.7 L508.0,646.6 L510.0,649.3 L512.0,651.2 L514.0,658.7 L516.0,658.7 L518.0,660.2 L520.0,666.6 L522.0,666.8 L524.0,671.5 L526.0,675.0 L528.0,676.1 L530.0,679.3 L532.0,682.0 L534.0,685.4 L536.0,686.6 L538.0,689.9 L540.0,693.9 L542.0,698.1 L544.0,700.4 L546.0,704.4 L548.0,705.9 L550.0,707.1 L552.0,710.1 L554.0,710.5 L556.0,714.1 L558.0,716.5 L560.0,720.4 L562.0,723.2 L564.0,724.2 L566.0,726.5 L568.0,727.7 L570.0,731.5 L572.0,734.0 L574.0,736.3 L576.0,736.9 L578.0,741.9 L580.0,742.7 L582.0,743.0 L584.0,744.1 L586.0,745.9 L588.0,748.0 L590.0,749.3 L592.0,751.4 L594.0,753.1 L596.0,755.1 L598.0,756.2 L600.0,756.0 L602.0,757.8 L604.0,758.0 L606.0,758.8 L608.0,762.6 L610.0,760.9 L612.0,764.6 L614.0,762.8 L616.0,764.3 L618.0,766.1 L620.0,765.7 L622.0,766.8 L624.0,766.8 L626.0,767.3 L628.0,768.3 L630.0,768.4 L632.0,771.6 L634.0,770.2 L636.0,772.9 L638.0,768.5 L640.0,772.1 L642.0,773.3 L644.0,772.9 L646.0,775.0 L648.0,775.1 L650.0,774.5 L652.0,775.8 L654.0,778.9 L656.0,776.4 L658.0,776.8 L660.0,776.2 L662.0,777.1 L664.0,775.8 L666.0,777.3 L668.0,780.5 L670.0,779.2 L672.0,779.0 L674.0,779.7 L676.0,780.8 L678.0,779.6 L680.0,781.4 L682.0,780.5 L684.0,779.7 L686.0,781.5 L688.0,777.1 L690.0,779.2 L692.0,780.3 L694.0,779.0 L696.0,779.9 L698.0,779.4 L700.0,779.4 L702.0,783.2 L704.0,780.9 L706.0,780.1 L708.0,781.6 L710.0,779.8 L712.0,781.0 L714.0,780.3 L716.0,781.7 L718.0,778.2 L720.0,780.6 L722.0,779.8 L724.0,778.3 L726.0,780.7 L728.0,778.4 L730.0,781.1 L732.0,779.8 L734.0,780.0 L736.0,779.2 L738.0,780.1 L740.0,776.9 L742.0,779.1 L744.0,778.3 L746.0,779.3 L748.0,778.9 L750.0,779.7 L752.0,778.0 L754.0,781.1 L756.0,781.6 L758.0,778.8 L760.0,779.0 L762.0,779.4 L764.0,780.5 L766.0,781.3 L768.0,777.8 L770.0,778.5 L772.0,778.0 L774.0,778.0 L776.0,777.4 L778.0,779.7 L780.0,778.0 L782.0,781.0 L784.0,780.3 L786.0,778.2 L788.0,778.1 L790.0,778.5 L792.0,780.7 L794.0,778.0 L796.0,777.1 L798.0,778.6 L800.0,778.9 L802.0,777.5 L804.0,779.9 L806.0,778.1 L808.0,778.1 L810.0,776.5 L812.0,777.2 L814.0,776.9 L816.0,774.4 L818.0,777.1 L820.0,774.7 L822.0,776.6 L824.0,774.9 L826.0,778.8 L828.0,776.8 L830.0,777.3 L832.0,777.3 L834.0,774.7 L836.0,773.6 L838.0,775.7 L840.0,777.0 L842.0,776.0 L844.0,776.8 L846.0,776.9 L848.0,774.1 L850.0,776.0 L852.0,777.9 L854.0,775.0 L856.0,773.3 L858.0,775.3 L860.0,775.0 L862.0,776.0 L864.0,774.5 L866.0,775.6 L868.0,773.0 L870.0,776.5 L872.0,777.4 L874.0,777.1 L876.0,774.0 L878.0,776.1 L880.0,772.5 L882.0,776.3 L884.0,776.1 L886.0,775.2 L888.0,776.8 L890.0,776.7 L892.0,777.8 L894.0,777.1 L896.0,777.4 L898.0,775.2 L900.0,776.2 L902.0,777.2 L904.0,778.3 L906.0,778.2 L908.0,780.1 L910.0,777.7 L912.0,778.6 L914.0,779.4 L916.0,779.1 L918.0,780.2 L920.0,779.4 L922.0,782.0 L924.0,780.5 L926.0,782.6 L928.0,781.8 L930.0,784.0 L932.0,781.2 L934.0,783.9 L936.0,783.3 L938.0,784.5 L940.0,786.1 L942.0,783.9 L944.0,784.1 L946.0,784.9 L948.0,786.7 L950.0,784.7 L952.0,787.3 L954.0,786.1 L956.0,786.7 L958.0,788.0 L960.0,789.3 L962.0,788.5 L964.0,789.1 L966.0,789.9 L968.0,790.0 L970.0,787.6 L972.0,790.4 L974.0,791.2 L976.0,792.5 L978.0,793.6 L980.0,792.1 L982.0,791.4 L984.0,790.1 L986.0,791.0 L988.0,791.4 L990.0,791.5 L992.0,788.6 L994.0,789.3 L996.0,789.3 L998.0,789.8 L1000.0,787.3 L1002.0,785.7 L1004.0,784.8 L1006.0,784.5 L1008.0,783.4 L1010.0,784.1 L1012.0,783.4 L1014.0,781.9 L1016.0,781.2 L1018.0,778.0 L1020.0,777.6 L1022.0,775.2 L1024.0,774.2 L1026.0,774.0 L1028.0,771.1 L1030.0,767.5 L1032.0,767.7 L1034.0,765.7 L1036.0,763.2 L1038.0,762.4 L1040.0,762.7 L1042.0,761.7 L1044.0,757.5 L1046.0,757.4 L1048.0,755.8 L1050.0,751.3 L1052.0,750.7 L1054.0,748.8 L1056.0,747.1 L1058.0,743.2 L1060.0,742.7 L1062.0,742.3 L1064.0,740.5 L1066.0,739.1 L1068.0,734.5 L1070.0,734.8 L1072.0,731.3 L1074.0,726.9 L1076.0,727.1 L1078.0,723.7 L1080.0,722.7 L1082.0,720.0 L1084.0,719.5 L1086.0,716.7 L1088.0,714.3 L1090.0,714.0 L1092.0,711.4 L1094.0,708.9 L1096.0,709.1 L1098.0,705.7 L1100.0,704.1 L1102.0,703.2 L1104.0,701.4 L1106.0,701.8 L1108.0,704.0 L1110.0,700.3 L1112.0,700.9 L1114.0,699.3 L1116.0,699.6 L1118.0,701.8 L1120.0,701.0 L1122.0,699.4 L1124.0,700.2 L1126.0,699.5 L1128.0,699.9 L1130.0,700.2 L1132.0,700.6 L1134.0,702.5 L1136.0,703.4 L1138.0,703.8 L1140.0,703.7 L1142.0,702.9 L1144.0,705.0 L1146.0,704.7 L1148.0,707.6 L1150.0,708.2 L1152.0,709.4 L1154.0,709.3 L1156.0,708.9 L1158.0,713.2 L1160.0,714.8 L1162.0,713.1 L1164.0,716.2 L1166.0,718.7 L1168.0,717.5 L1170.0,721.9 L1172.0,720.8 L1174.0,721.2 L1176.0,725.1 L1178.0,725.1 L1180.0,725.3 L1182.0,728.2 L1184.0,726.3 L1186.0,731.8 L1188.0,730.1 L1190.0,732.6 L1192.0,733.1 L1194.0,735.2 L1196.0,736.9 L1198.0,736.2 L1200.0,739.2 L1202.0,739.2 L1204.0,739.8 L1206.0,741.5 L1208.0,741.6 L1210.0,742.9 L1212.0,745.9 L1214.0,745.7 L1216.0,748.2 L1218.0,748.4 L1220.0,747.7 L1222.0,747.7 L1224.0,750.1 L1226.0,752.1 L1228.0,752.7 L1230.0,752.7 L1232.0,755.6 L1234.0,753.4 L1236.0,754.8 L1238.0,757.1 L1240.0,760.3 L1242.0,759.0 L1244.0,758.2 L1246.0,760.8 L1248.0,761.7 L1250.0,762.7 L1252.0,762.0 L1254.0,762.3 L1256.0,764.0 L1258.0,765.0 L1260.0,767.0 L1262.0,768.2 L1264.0,765.7 L1266.0,766.5 L1268.0,767.6 L1270.0,767.8 L1272.0,769.1 L1274.0,769.5 L1276.0,769.6 L1278.0,771.2 L1280.0,769.9 L1282.0,769.2 L1284.0,769.0 L1286.0,770.0 L1288.0,770.3 L1290.0,769.6 L1292.0,772.8 L1294.0,772.5 L1296.0,772.1 L1298.0,771.8 L1300.0,771.2 L1302.0,772.0 L1304.0,775.3 L1306.0,770.8 L1308.0,773.4 L1310.0,774.1 L1312.0,773.4 L1314.0,772.8 L1316.0,773.9 L1318.0,771.7 L1320.0,773.4 L1322.0,774.3 L1324.0,771.3 L1326.0,771.4 L1328.0,772.3 L1330.0,773.0 L1332.0,773.2 L1334.0,772.2 L1336.0,770.5 L1338.0,769.8 L1340.0,771.1 L1342.0,771.0 L1344.0,769.1 L1346.0,770.2 L1348.0,770.3 L1350.0,770.9 L1352.0,768.5 L1354.0,770.0 L1356.0,767.9 L1358.0,768.6 L1360.0,768.8 L1362.0,770.5 L1364.0,772.3 L1366.0,768.7 L1368.0,768.8 L1370.0,769.2 L1372.0,766.4 L1374.0,768.7 L1376.0,766.2 L1378.0,769.3 L1380.0,768.9 L1382.0,767.7 L1384.0,766.1 L1386.0,768.7 L1388.0,767.0 L1390.0,766.7 L1392.0,767.0 L1394.0,764.3 L1396.0,766.6 L1398.0,767.0 L1400.0,766.2 L1402.0,765.8 L1404.0,764.4 L1406.0,766.0 L1408.0,765.4 L1410.0,765.0 L1412.0,764.2 L1414.0,765.7 L1416.0,766.0 L1418.0,764.9 L1420.0,765.3 L1422.0,765.7 L1424.0,765.8 L1426.0,764.1 L1428.0,763.5 L1430.0,763.2 L1432.0,763.5 L1434.0,764.0 L1436.0,764.2 L1438.0,762.6 L1440.0,763.1 L1442.0,761.6 L1444.0,764.0 L1446.0,762.0 L1448.0,762.7 L1450.0,761.3 L1452.0,761.6 L1454.0,761.0 L1456.0,763.5 L1458.0,761.8 L1460.0,761.0 L1462.0,759.9 L1464.0,760.1 L1466.0,761.1 L1468.0,762.1 L1470.0,758.3 L1472.0,758.6 L1474.0,759.2 L1476.0,758.4 L1478.0,757.0 L1480.0,758.6 L1482.0,759.1 L1484.0,756.3 L1486.0,758.1 L1488.0,758.7 L1490.0,758.5 L1492.0,756.8 L1494.0,759.7 L1496.0,757.6 L1498.0,756.0 L1500.0,758.0 L1502.0,755.6 L1504.0,757.9 L1506.0,755.6 L1508.0,758.0 L1510.0,756.6 L1512.0,758.7 L1514.0,758.4 L1516.0,758.3 L1518.0,758.1 L1520.0,759.5 L1522.0,756.5 L1524.0,759.2 L1526.0,759.4 L1528.0,759.8 L1530.0,760.3 L1532.0,763.8 L1534.0,760.0 L1536.0,760.9 L1538.0,760.3 L1540.0,762.1 L1542.0,758.1 L1544.0,762.4 L1546.0,759.8 L1548.0,758.1 L1550.0,759.5 L1552.0,760.6 L1554.0,761.1 L1556.0,760.9 L1558.0,761.9 L1560.0,761.0 L1562.0,761.0 L1564.0,758.8 L1566.0,761.8 L1568.0,762.4 L1570.0,760.9 L1572.0,759.3 L1574.0,760.0 L1576.0,763.4 L1578.0,760.9 L1580.0,760.9 L1582.0,760.8 L1584.0,762.6 L1586.0,761.3 L1588.0,761.0 L1590.0,760.4 L1592.0,762.1 L1594.0,763.4 L1596.0,762.2 L1598.0,763.4 L1600.0,762.7 L1602.0,762.8 L1604.0,762.9 L1606.0,762.9 L1608.0,764.1 L1610.0,763.6 L1612.0,762.5 L1614.0,763.4 L1616.0,763.3 L1618.0,764.0" fill="none" stroke="#ff0000" stroke-width="10" stroke-linejoin="round" stroke-linecap="round"/>
<path transform="scale(1,1.16)" d="M226.0,1126.8 L228.0,1127.2 L230.0,1125.4 L232.0,1127.2 L234.0,1125.9 L236.0,1124.5 L238.0,1125.4 L240.0,1126.7 L242.0,1126.3 L244.0,1124.5 L246.0,1126.3 L248.0,1125.4 L250.0,1125.8 L252.0,1125.6 L254.0,1123.7 L256.0,1125.3 L258.0,1124.0 L260.0,1126.3 L262.0,1125.2 L264.0,1124.3 L266.0,1123.0 L268.0,1123.9 L270.0,1123.9 L272.0,1122.1 L274.0,1125.8 L276.0,1123.5 L278.0,1124.8 L280.0,1121.4 L282.0,1124.2 L284.0,1120.6 L286.0,1121.2 L288.0,1122.2 L290.0,1121.4 L292.0,1118.5 L294.0,1119.6 L296.0,1121.5 L298.0,1122.6 L300.0,1121.0 L302.0,1119.4 L304.0,1120.3 L306.0,1117.8 L308.0,1119.4 L310.0,1117.0 L312.0,1118.2 L314.0,1117.8 L316.0,1118.6 L318.0,1117.0 L320.0,1118.4 L322.0,1116.5 L324.0,1117.4 L326.0,1117.0 L328.0,1113.8 L330.0,1115.5 L332.0,1115.2 L334.0,1114.0 L336.0,1114.7 L338.0,1112.5 L340.0,1114.4 L342.0,1114.0 L344.0,1113.3 L346.0,1115.4 L348.0,1112.6 L350.0,1111.9 L352.0,1110.6 L354.0,1111.4 L356.0,1109.5 L358.0,1111.6 L360.0,1109.1 L362.0,1109.5 L364.0,1111.1 L366.0,1109.7 L368.0,1108.1 L370.0,1108.8 L372.0,1106.6 L374.0,1106.9 L376.0,1105.4 L378.0,1103.6 L380.0,1104.3 L382.0,1103.9 L384.0,1101.3 L386.0,1099.2 L388.0,1098.3 L390.0,1094.5 L392.0,1094.7 L394.0,1092.1 L396.0,1093.5 L398.0,1088.3 L400.0,1084.8 L402.0,1084.9 L404.0,1080.6 L406.0,1077.3 L408.0,1073.6 L410.0,1069.4 L412.0,1064.1 L414.0,1060.7 L416.0,1055.0 L418.0,1048.3 L420.0,1042.0 L422.0,1033.7 L424.0,1026.8 L426.0,1018.7 L428.0,1009.7 L430.0,1000.7 L432.0,990.6 L434.0,982.6 L436.0,970.3 L438.0,960.1 L440.0,949.2 L442.0,939.5 L444.0,929.3 L446.0,921.7 L448.0,909.6 L450.0,897.4 L452.0,890.3 L454.0,882.7 L456.0,879.8 L458.0,875.5 L460.0,869.3 L462.0,867.4 L464.0,864.6 L466.0,864.0 L468.0,864.4 L470.0,861.2 L472.0,859.7 L474.0,861.8 L476.0,861.6 L478.0,862.0 L480.0,862.8 L482.0,861.3 L484.0,860.3 L486.0,864.2 L488.0,863.1 L490.0,863.0 L492.0,864.0 L494.0,867.7 L496.0,867.9 L498.0,869.4 L500.0,871.5 L502.0,871.4 L504.0,872.6 L506.0,874.6 L508.0,876.1 L510.0,879.1 L512.0,880.6 L514.0,884.1 L516.0,886.2 L518.0,889.4 L520.0,893.0 L522.0,896.7 L524.0,899.8 L526.0,901.1 L528.0,904.1 L530.0,906.2 L532.0,910.9 L534.0,914.6 L536.0,915.4 L538.0,920.1 L540.0,922.1 L542.0,925.5 L544.0,929.2 L546.0,931.9 L548.0,936.6 L550.0,937.3 L552.0,941.5 L554.0,945.4 L556.0,947.7 L558.0,952.7 L560.0,954.1 L562.0,959.4 L564.0,961.3 L566.0,966.3 L568.0,970.6 L570.0,975.9 L572.0,978.1 L574.0,981.9 L576.0,983.3 L578.0,988.5 L580.0,988.5 L582.0,991.1 L584.0,992.4 L586.0,996.4 L588.0,999.6 L590.0,1000.0 L592.0,1002.4 L594.0,1004.4 L596.0,1006.6 L598.0,1008.3 L600.0,1009.3 L602.0,1014.3 L604.0,1012.4 L606.0,1015.3 L608.0,1018.5 L610.0,1021.0 L612.0,1021.3 L614.0,1022.9 L616.0,1025.0 L618.0,1026.2 L620.0,1029.1 L622.0,1029.1 L624.0,1030.0 L626.0,1032.0 L628.0,1034.0 L630.0,1036.6 L632.0,1038.2 L634.0,1037.1 L636.0,1037.1 L638.0,1038.2 L640.0,1043.2 L642.0,1041.4 L644.0,1043.4 L646.0,1046.0 L648.0,1044.0 L650.0,1045.4 L652.0,1045.8 L654.0,1046.0 L656.0,1048.8 L658.0,1049.8 L660.0,1047.0 L662.0,1050.8 L664.0,1050.0 L666.0,1051.0 L668.0,1051.5 L670.0,1050.3 L672.0,1052.0 L674.0,1051.7 L676.0,1055.4 L678.0,1056.2 L680.0,1054.3 L682.0,1053.3 L684.0,1056.3 L686.0,1055.1 L688.0,1057.6 L690.0,1058.1 L692.0,1058.0 L694.0,1055.9 L696.0,1055.3 L698.0,1055.8 L700.0,1056.4 L702.0,1055.5 L704.0,1057.9 L706.0,1057.3 L708.0,1056.5 L710.0,1056.0 L712.0,1057.2 L714.0,1058.0 L716.0,1054.3 L718.0,1056.6 L720.0,1056.0 L722.0,1055.5 L724.0,1055.9 L726.0,1056.4 L728.0,1058.3 L730.0,1056.3 L732.0,1055.7 L734.0,1054.8 L736.0,1057.0 L738.0,1055.2 L740.0,1055.9 L742.0,1056.8 L744.0,1056.1 L746.0,1055.6 L748.0,1055.8 L750.0,1057.1 L752.0,1056.1 L754.0,1056.5 L756.0,1056.9 L758.0,1056.2 L760.0,1057.1 L762.0,1056.6 L764.0,1058.4 L766.0,1057.9 L768.0,1055.6 L770.0,1057.5 L772.0,1059.2 L774.0,1057.9 L776.0,1057.8 L778.0,1059.5 L780.0,1057.3 L782.0,1058.6 L784.0,1059.3 L786.0,1059.6 L788.0,1057.4 L790.0,1057.0 L792.0,1059.9 L794.0,1057.1 L796.0,1057.5 L798.0,1060.0 L800.0,1056.4 L802.0,1054.1 L804.0,1059.3 L806.0,1056.9 L808.0,1055.7 L810.0,1058.0 L812.0,1054.4 L814.0,1055.7 L816.0,1053.8 L818.0,1053.2 L820.0,1053.9 L822.0,1053.9 L824.0,1054.1 L826.0,1053.8 L828.0,1051.7 L830.0,1051.9 L832.0,1053.9 L834.0,1052.2 L836.0,1051.4 L838.0,1052.6 L840.0,1052.4 L842.0,1052.1 L844.0,1049.8 L846.0,1049.8 L848.0,1050.9 L850.0,1051.2 L852.0,1048.4 L854.0,1049.0 L856.0,1049.1 L858.0,1050.4 L860.0,1047.9 L862.0,1052.0 L864.0,1049.0 L866.0,1049.5 L868.0,1051.1 L870.0,1049.2 L872.0,1049.3 L874.0,1048.1 L876.0,1048.7 L878.0,1046.9 L880.0,1047.9 L882.0,1047.9 L884.0,1046.7 L886.0,1048.8 L888.0,1048.1 L890.0,1045.5 L892.0,1048.4 L894.0,1046.4 L896.0,1048.1 L898.0,1046.5 L900.0,1047.0 L902.0,1047.9 L904.0,1049.7 L906.0,1045.8 L908.0,1047.2 L910.0,1047.4 L912.0,1049.1 L914.0,1047.7 L916.0,1048.6 L918.0,1049.9 L920.0,1049.4 L922.0,1048.3 L924.0,1048.5 L926.0,1048.9 L928.0,1049.6 L930.0,1048.7 L932.0,1049.8 L934.0,1050.8 L936.0,1049.9 L938.0,1050.1 L940.0,1051.2 L942.0,1052.0 L944.0,1049.9 L946.0,1050.6 L948.0,1053.4 L950.0,1052.3 L952.0,1051.5 L954.0,1053.2 L956.0,1055.2 L958.0,1053.2 L960.0,1053.2 L962.0,1054.4 L964.0,1056.9 L966.0,1054.8 L968.0,1056.6 L970.0,1057.5 L972.0,1057.5 L974.0,1056.9 L976.0,1058.5 L978.0,1058.4 L980.0,1059.5 L982.0,1059.5 L984.0,1059.8 L986.0,1058.3 L988.0,1061.6 L990.0,1061.4 L992.0,1059.9 L994.0,1062.8 L996.0,1063.8 L998.0,1063.8 L1000.0,1061.7 L1002.0,1064.0 L1004.0,1064.0 L1006.0,1064.9 L1008.0,1062.7 L1010.0,1065.6 L1012.0,1065.8 L1014.0,1065.8 L1016.0,1065.0 L1018.0,1064.9 L1020.0,1066.0 L1022.0,1065.3 L1024.0,1064.2 L1026.0,1064.9 L1028.0,1065.2 L1030.0,1065.6 L1032.0,1064.6 L1034.0,1063.0 L1036.0,1063.1 L1038.0,1063.7 L1040.0,1063.3 L1042.0,1063.6 L1044.0,1059.6 L1046.0,1060.0 L1048.0,1058.5 L1050.0,1059.9 L1052.0,1058.3 L1054.0,1056.5 L1056.0,1055.6 L1058.0,1052.6 L1060.0,1052.3 L1062.0,1050.1 L1064.0,1048.1 L1066.0,1045.6 L1068.0,1044.2 L1070.0,1041.5 L1072.0,1035.7 L1074.0,1033.5 L1076.0,1030.8 L1078.0,1027.7 L1080.0,1020.9 L1082.0,1016.7 L1084.0,1012.1 L1086.0,1009.0 L1088.0,1001.0 L1090.0,997.0 L1092.0,993.0 L1094.0,988.5 L1096.0,984.3 L1098.0,980.0 L1100.0,976.2 L1102.0,973.8 L1104.0,971.9 L1106.0,970.6 L1108.0,969.3 L1110.0,966.4 L1112.0,966.9 L1114.0,966.0 L1116.0,966.1 L1118.0,965.6 L1120.0,966.4 L1122.0,963.8 L1124.0,964.6 L1126.0,965.0 L1128.0,964.1 L1130.0,964.6 L1132.0,964.5 L1134.0,964.5 L1136.0,967.7 L1138.0,965.1 L1140.0,967.0 L1142.0,964.5 L1144.0,965.9 L1146.0,965.1 L1148.0,966.5 L1150.0,968.4 L1152.0,969.2 L1154.0,968.5 L1156.0,968.7 L1158.0,968.9 L1160.0,970.0 L1162.0,971.8 L1164.0,969.2 L1166.0,971.5 L1168.0,971.6 L1170.0,974.6 L1172.0,972.9 L1174.0,976.0 L1176.0,974.6 L1178.0,975.5 L1180.0,979.3 L1182.0,979.8 L1184.0,978.7 L1186.0,978.9 L1188.0,980.9 L1190.0,983.7 L1192.0,984.2 L1194.0,984.4 L1196.0,987.2 L1198.0,989.4 L1200.0,987.8 L1202.0,990.1 L1204.0,990.5 L1206.0,993.8 L1208.0,993.8 L1210.0,994.1 L1212.0,994.2 L1214.0,998.0 L1216.0,998.1 L1218.0,999.7 L1220.0,1000.6 L1222.0,1002.4 L1224.0,1001.2 L1226.0,1003.5 L1228.0,1005.9 L1230.0,1008.7 L1232.0,1008.3 L1234.0,1009.0 L1236.0,1009.5 L1238.0,1010.6 L1240.0,1012.2 L1242.0,1012.6 L1244.0,1014.7 L1246.0,1015.7 L1248.0,1019.0 L1250.0,1017.8 L1252.0,1020.2 L1254.0,1019.6 L1256.0,1022.2 L1258.0,1024.9 L1260.0,1022.6 L1262.0,1022.9 L1264.0,1026.4 L1266.0,1026.2 L1268.0,1026.7 L1270.0,1028.3 L1272.0,1029.0 L1274.0,1030.7 L1276.0,1030.5 L1278.0,1030.1 L1280.0,1030.1 L1282.0,1030.1 L1284.0,1031.4 L1286.0,1034.5 L1288.0,1032.2 L1290.0,1034.4 L1292.0,1036.3 L1294.0,1036.1 L1296.0,1037.6 L1298.0,1037.2 L1300.0,1038.6 L1302.0,1036.7 L1304.0,1036.8 L1306.0,1040.2 L1308.0,1038.8 L1310.0,1038.8 L1312.0,1038.4 L1314.0,1041.2 L1316.0,1040.3 L1318.0,1040.6 L1320.0,1039.7 L1322.0,1040.8 L1324.0,1040.6 L1326.0,1041.2 L1328.0,1042.0 L1330.0,1041.3 L1332.0,1041.2 L1334.0,1043.2 L1336.0,1041.4 L1338.0,1044.3 L1340.0,1044.6 L1342.0,1041.4 L1344.0,1044.9 L1346.0,1042.2 L1348.0,1044.6 L1350.0,1042.5 L1352.0,1043.9 L1354.0,1041.7 L1356.0,1043.4 L1358.0,1042.6 L1360.0,1044.0 L1362.0,1042.8 L1364.0,1040.7 L1366.0,1041.7 L1368.0,1040.3 L1370.0,1040.9 L1372.0,1042.0 L1374.0,1041.6 L1376.0,1039.7 L1378.0,1038.2 L1380.0,1038.8 L1382.0,1040.6 L1384.0,1037.8 L1386.0,1036.0 L1388.0,1035.7 L1390.0,1035.6 L1392.0,1037.8 L1394.0,1036.0 L1396.0,1035.3 L1398.0,1036.3 L1400.0,1036.8 L1402.0,1035.3 L1404.0,1034.4 L1406.0,1035.3 L1408.0,1035.8 L1410.0,1032.9 L1412.0,1033.0 L1414.0,1036.5 L1416.0,1034.6 L1418.0,1034.4 L1420.0,1032.2 L1422.0,1032.5 L1424.0,1033.1 L1426.0,1034.7 L1428.0,1033.2 L1430.0,1031.1 L1432.0,1034.5 L1434.0,1034.3 L1436.0,1033.4 L1438.0,1031.0 L1440.0,1031.3 L1442.0,1031.5 L1444.0,1031.8 L1446.0,1033.5 L1448.0,1029.8 L1450.0,1030.3 L1452.0,1030.8 L1454.0,1030.0 L1456.0,1029.9 L1458.0,1028.6 L1460.0,1030.1 L1462.0,1029.5 L1464.0,1029.8 L1466.0,1030.5 L1468.0,1028.9 L1470.0,1028.9 L1472.0,1029.2 L1474.0,1028.2 L1476.0,1028.7 L1478.0,1026.4 L1480.0,1027.2 L1482.0,1028.6 L1484.0,1028.1 L1486.0,1028.6 L1488.0,1026.1 L1490.0,1026.9 L1492.0,1027.2 L1494.0,1027.1 L1496.0,1026.8 L1498.0,1028.5 L1500.0,1026.3 L1502.0,1026.3 L1504.0,1027.1 L1506.0,1026.9 L1508.0,1026.4 L1510.0,1028.0 L1512.0,1026.6 L1514.0,1025.6 L1516.0,1024.7 L1518.0,1027.0 L1520.0,1024.9 L1522.0,1025.9 L1524.0,1024.8 L1526.0,1027.6 L1528.0,1026.0 L1530.0,1023.2 L1532.0,1025.4 L1534.0,1023.5 L1536.0,1024.4 L1538.0,1025.9 L1540.0,1023.6 L1542.0,1025.4 L1544.0,1024.9 L1546.0,1025.8 L1548.0,1023.9 L1550.0,1025.7 L1552.0,1024.7 L1554.0,1026.2 L1556.0,1025.2 L1558.0,1025.9 L1560.0,1026.7 L1562.0,1026.5 L1564.0,1025.3 L1566.0,1026.1 L1568.0,1025.4 L1570.0,1025.9 L1572.0,1027.3 L1574.0,1024.6 L1576.0,1024.4 L1578.0,1026.3 L1580.0,1025.2 L1582.0,1027.2 L1584.0,1026.9 L1586.0,1026.8 L1588.0,1026.2 L1590.0,1025.9 L1592.0,1025.6 L1594.0,1026.2 L1596.0,1027.0 L1598.0,1026.2 L1600.0,1028.6 L1602.0,1028.5 L1604.0,1026.6 L1606.0,1025.3 L1608.0,1029.8 L1610.0,1027.5 L1612.0,1025.9 L1614.0,1027.5 L1616.0,1029.8 L1618.0,1031.3 L1620.0,1031.1 L1622.0,1031.9 L1624.0,1032.5 L1626.0,1032.8 L1628.0,1029.9 L1630.0,1030.9 L1632.0,1030.7 L1634.0,1031.7 L1636.0,1031.4 L1638.0,1032.3 L1640.0,1034.3 L1642.0,1031.7 L1644.0,1033.5 L1646.0,1031.8 L1648.0,1031.7 L1650.0,1034.5 L1652.0,1033.4 L1654.0,1033.8 L1656.0,1035.6 L1658.0,1032.7 L1660.0,1034.5 L1662.0,1036.2 L1664.0,1033.6 L1666.0,1035.3 L1668.0,1036.2 L1670.0,1036.4 L1672.0,1036.3 L1674.0,1036.9 L1676.0,1036.5 L1678.0,1037.1 L1680.0,1036.8 L1682.0,1035.6 L1684.0,1036.9 L1686.0,1036.8 L1688.0,1038.4 L1690.0,1037.9 L1692.0,1038.1" fill="none" stroke="#000000" stroke-width="10.3" stroke-linejoin="round" stroke-linecap="round"/>
<text transform="translate(443.1,1480.0) scale(1.0000,1)" font-size="67" font-family='"Liberation Sans", Arial, sans-serif' font-weight="bold" fill="#000" style="font-kerning:none;letter-spacing:-7.08px;white-space:pre">780</text>
<text transform="translate(877.7,1480.0) scale(1.0000,1)" font-size="67" font-family='"Liberation Sans", Arial, sans-serif' font-weight="bold" fill="#000" style="font-kerning:none;letter-spacing:-7.58px;white-space:pre">790</text>
<text transform="translate(1306.9,1480.0) scale(1.0000,1)" font-size="67" font-family='"Liberation Sans", Arial, sans-serif' font-weight="bold" fill="#000" style="font-kerning:none;letter-spacing:-7.96px;white-space:pre">800</text>
<text transform="translate(577.3,1589.0) scale(0.9300,1)" font-size="110" font-family='"Liberation Serif", "Times New Roman", serif' font-weight="bold" fill="#000" style="font-kerning:none;letter-spacing:-4.34px;white-space:pre">Binding</text>
<text transform="translate(922.5,1589.0) scale(0.9300,1)" font-size="110" font-family='"Liberation Serif", "Times New Roman", serif' font-weight="bold" fill="#000" style="font-kerning:none;letter-spacing:-8.24px;white-space:pre">energy</text>
<text transform="translate(1193.9,1589.0) scale(1.0000,1)" font-size="110" font-family='"Liberation Serif", "Times New Roman", serif' font-weight="bold" fill="#000" style="font-kerning:none;letter-spacing:0.00px;white-space:pre">/</text>
<text transform="translate(1241.5,1589.0) scale(0.9300,1)" font-size="110" font-family='"Liberation Serif", "Times New Roman", serif' font-weight="bold" fill="#000" style="font-kerning:none;letter-spacing:2.54px;white-space:pre">eV</text>
<text transform="translate(127.0,1012.6) rotate(-90) scale(0.9200,1)" font-size="115" font-family='"Liberation Serif", "Times New Roman", serif' font-weight="bold" fill="#000" style="font-kerning:none;letter-spacing:2.72px;white-space:pre">Intensity / a.u.</text>
<text transform="translate(249.2,152.0) scale(1.0000,1)" font-size="77" font-family='"Liberation Serif", "Times New Roman", serif' font-weight="bold" fill="#000" style="font-kerning:none;letter-spacing:0.00px;white-space:pre">A</text>
<text transform="translate(362.8,114.5) scale(0.9000,1)" font-size="70" font-family='"Liberation Sans", Arial, sans-serif' font-weight="normal" fill="#000" style="font-kerning:none;letter-spacing:-3.97px;white-space:pre" stroke="#000" stroke-width="3.2" stroke-linejoin="round">Co</text>
<text transform="translate(448.3,114.5) scale(0.9000,1)" font-size="70" font-family='"Liberation Sans", Arial, sans-serif' font-weight="normal" fill="#000" style="font-kerning:none;letter-spacing:-3.49px;white-space:pre" stroke="#000" stroke-width="3.2" stroke-linejoin="round">2p</text>
<text transform="translate(513.1,137.0) scale(1.0000,1)" font-size="63" font-family='"Liberation Sans", Arial, sans-serif' font-weight="normal" fill="#000" style="font-kerning:none;letter-spacing:-5.26px;white-space:pre" stroke="#000" stroke-width="3" stroke-linejoin="round">3/2</text>
<text transform="translate(961.2,122.5) scale(0.9000,1)" font-size="70" font-family='"Liberation Sans", Arial, sans-serif' font-weight="normal" fill="#000" style="font-kerning:none;letter-spacing:-3.97px;white-space:pre" stroke="#000" stroke-width="3.2" stroke-linejoin="round">Co</text>
<text transform="translate(1048.3,122.5) scale(0.9000,1)" font-size="70" font-family='"Liberation Sans", Arial, sans-serif' font-weight="normal" fill="#000" style="font-kerning:none;letter-spacing:-3.49px;white-space:pre" stroke="#000" stroke-width="3.2" stroke-linejoin="round">2p</text>
<text transform="translate(1112.3,145.0) scale(1.0000,1)" font-size="63" font-family='"Liberation Sans", Arial, sans-serif' font-weight="normal" fill="#000" style="font-kerning:none;letter-spacing:-5.56px;white-space:pre" stroke="#000" stroke-width="3" stroke-linejoin="round">1/2</text>
<text transform="translate(417.3,221.5) scale(1.0000,1)" font-size="58" font-family='"Liberation Sans", Arial, sans-serif' font-weight="normal" fill="#000" style="font-kerning:none;letter-spacing:-5.28px;white-space:pre" stroke="#000" stroke-width="3" stroke-linejoin="round">778.55</text>
<text transform="translate(388.5,431.5) scale(1.0000,1)" font-size="58" font-family='"Liberation Sans", Arial, sans-serif' font-weight="normal" fill="#000" style="font-kerning:none;letter-spacing:-6.20px;white-space:pre" stroke="#000" stroke-width="3" stroke-linejoin="round">778.65</text>
<text transform="translate(399.5,682.0) scale(1.0000,1)" font-size="58" font-family='"Liberation Sans", Arial, sans-serif' font-weight="normal" fill="#000" style="font-kerning:none;letter-spacing:-5.40px;white-space:pre" stroke="#000" stroke-width="3" stroke-linejoin="round">778.85</text>
<text transform="translate(410.5,969.0) scale(1.0000,1)" font-size="58" font-family='"Liberation Sans", Arial, sans-serif' font-weight="normal" fill="#000" style="font-kerning:none;letter-spacing:-5.30px;white-space:pre" stroke="#000" stroke-width="3" stroke-linejoin="round">779.45</text>
<text transform="translate(972.1,225.5) scale(1.0000,1)" font-size="58" font-family='"Liberation Sans", Arial, sans-serif' font-weight="normal" fill="#000" style="font-kerning:none;letter-spacing:-5.60px;white-space:pre" stroke="#000" stroke-width="3" stroke-linejoin="round">793.55</text>
<text transform="translate(1025.5,531.5) scale(1.0000,1)" font-size="58" font-family='"Liberation Sans", Arial, sans-serif' font-weight="normal" fill="#000" style="font-kerning:none;letter-spacing:-5.60px;white-space:pre" stroke="#000" stroke-width="3" stroke-linejoin="round">793.65</text>
<text transform="translate(1055.5,795.0) scale(1.0000,1)" font-size="58" font-family='"Liberation Sans", Arial, sans-serif' font-weight="normal" fill="#000" style="font-kerning:none;letter-spacing:-5.60px;white-space:pre" stroke="#000" stroke-width="3" stroke-linejoin="round">793.85</text>
<text transform="translate(1057.5,1050.0) scale(1.0000,1)" font-size="58" font-family='"Liberation Sans", Arial, sans-serif' font-weight="normal" fill="#000" style="font-kerning:none;letter-spacing:-5.88px;white-space:pre" stroke="#000" stroke-width="3" stroke-linejoin="round">794.45</text>
<text transform="translate(1416.4,347.0) scale(1.0000,1)" font-size="87" font-family='"Liberation Sans", Arial, sans-serif' font-weight="bold" fill="#000" style="font-kerning:none;letter-spacing:0.00px;white-space:pre">d</text>
<text transform="translate(1421.3,595.0) scale(1.0000,1)" font-size="87" font-family='"Liberation Sans", Arial, sans-serif' font-weight="bold" fill="#000" style="font-kerning:none;letter-spacing:0.00px;white-space:pre">c</text>
<text transform="translate(1430.3,873.0) scale(1.0000,1)" font-size="87" font-family='"Liberation Sans", Arial, sans-serif' font-weight="bold" fill="#000" style="font-kerning:none;letter-spacing:0.00px;white-space:pre">b</text>
<text transform="translate(1436.9,1159.0) scale(1.0000,1)" font-size="87" font-family='"Liberation Sans", Arial, sans-serif' font-weight="bold" fill="#000" style="font-kerning:none;letter-spacing:0.00px;white-space:pre">a</text>
<line x1="220.1" y1="1714.5" x2="1665.2" y2="1714.5" stroke="#000" stroke-width="11"/>
<line x1="220.1" y1="3038.8" x2="1665.2" y2="3038.8" stroke="#000" stroke-width="11"/>
<line x1="224.6" y1="1714.5" x2="224.6" y2="3038.8" stroke="#000" stroke-width="9"/>
<line x1="1660.7" y1="1714.5" x2="1660.7" y2="3038.8" stroke="#000" stroke-width="9"/>
<line x1="295.1" y1="3038" x2="295.1" y2="3053" stroke="#000" stroke-width="8.5" stroke-linecap="round"/>
<line x1="410.8" y1="3038" x2="410.8" y2="3065" stroke="#000" stroke-width="8.5" stroke-linecap="round"/>
<line x1="526.5" y1="3038" x2="526.5" y2="3053" stroke="#000" stroke-width="8.5" stroke-linecap="round"/>
<line x1="642.3" y1="3038" x2="642.3" y2="3065" stroke="#000" stroke-width="8.5" stroke-linecap="round"/>
<line x1="758.0" y1="3038" x2="758.0" y2="3053" stroke="#000" stroke-width="8.5" stroke-linecap="round"/>
<line x1="873.8" y1="3038" x2="873.8" y2="3065" stroke="#000" stroke-width="8.5" stroke-linecap="round"/>
<line x1="989.5" y1="3038" x2="989.5" y2="3053" stroke="#000" stroke-width="8.5" stroke-linecap="round"/>
<line x1="1105.3" y1="3038" x2="1105.3" y2="3065" stroke="#000" stroke-width="8.5" stroke-linecap="round"/>
<line x1="1221.0" y1="3038" x2="1221.0" y2="3053" stroke="#000" stroke-width="8.5" stroke-linecap="round"/>
<line x1="1336.8" y1="3038" x2="1336.8" y2="3065" stroke="#000" stroke-width="8.5" stroke-linecap="round"/>
<line x1="1452.5" y1="3038" x2="1452.5" y2="3053" stroke="#000" stroke-width="8.5" stroke-linecap="round"/>
<line x1="1568.3" y1="3038" x2="1568.3" y2="3065" stroke="#000" stroke-width="8.5" stroke-linecap="round"/>
<line x1="446.5" y1="1872" x2="446.5" y2="2140" stroke="#000" stroke-width="7" stroke-linecap="round"/>
<line x1="601.5" y1="2140" x2="601.5" y2="2306" stroke="#000" stroke-width="7" stroke-linecap="round"/>
<line x1="817.5" y1="1810" x2="817.5" y2="2043" stroke="#000" stroke-width="7" stroke-linecap="round"/>
<line x1="878" y1="1861" x2="878" y2="1985" stroke="#000" stroke-width="7" stroke-linecap="round"/>
<line x1="1026" y1="2028" x2="1026" y2="2246" stroke="#000" stroke-width="7" stroke-linecap="round"/>
<line x1="1242" y1="1739" x2="1242" y2="2021" stroke="#000" stroke-width="7" stroke-linecap="round"/>
<path transform="scale(1,1.16)" d="M252.0,2212.6 L253.3,2197.8 L254.6,2196.2 L255.9,2180.5 L257.2,2199.4 L258.5,2197.0 L259.8,2195.3 L261.1,2201.3 L262.4,2202.0 L263.7,2191.1 L265.0,2192.3 L266.3,2195.1 L267.6,2203.4 L268.9,2202.3 L270.2,2188.7 L271.5,2190.0 L272.8,2203.2 L274.1,2209.1 L275.4,2197.4 L276.7,2192.6 L278.0,2205.3 L279.3,2195.0 L280.6,2202.4 L281.9,2208.2 L283.2,2201.5 L284.5,2197.3 L285.8,2201.9 L287.1,2191.9 L288.4,2195.1 L289.7,2192.2 L291.0,2194.7 L292.3,2192.6 L293.6,2194.7 L294.9,2193.2 L296.2,2196.5 L297.5,2196.2 L298.8,2197.8 L300.1,2205.7 L301.4,2184.3 L302.7,2204.8 L304.0,2193.6 L305.3,2186.3 L306.6,2193.9 L307.9,2195.7 L309.2,2202.7 L310.5,2187.1 L311.8,2196.3 L313.1,2195.5 L314.4,2182.3 L315.7,2185.8 L317.0,2198.6 L318.3,2199.2 L319.6,2201.8 L320.9,2197.7 L322.2,2196.6 L323.5,2194.5 L324.8,2202.1 L326.1,2187.2 L327.4,2192.0 L328.7,2195.6 L330.0,2181.4 L331.3,2201.6 L332.6,2186.5 L333.9,2191.3 L335.2,2206.6 L336.5,2185.3 L337.8,2187.0 L339.1,2201.2 L340.4,2182.4 L341.7,2186.4 L343.0,2192.5 L344.3,2191.6 L345.6,2192.0 L346.9,2189.9 L348.2,2196.0 L349.5,2193.1 L350.8,2189.6 L352.1,2180.3 L353.4,2179.5 L354.7,2170.9 L356.0,2187.1 L357.3,2169.8 L358.6,2186.2 L359.9,2191.0 L361.2,2171.4 L362.5,2172.5 L363.8,2172.4 L365.1,2178.9 L366.4,2167.0 L367.7,2169.9 L369.0,2165.9 L370.3,2165.8 L371.6,2173.4 L372.9,2158.1 L374.2,2162.6 L375.5,2162.0 L376.8,2163.6 L378.1,2149.2 L379.4,2161.0 L380.7,2154.8 L382.0,2155.0 L383.3,2148.1 L384.6,2136.1 L385.9,2138.9 L387.2,2143.9 L388.5,2136.7 L389.8,2133.0 L391.1,2138.3 L392.4,2135.4 L393.7,2120.2 L395.0,2123.2 L396.3,2100.8 L397.6,2094.8 L398.9,2100.9 L400.2,2090.2 L401.5,2087.6 L402.8,2080.9 L404.1,2071.9 L405.4,2068.1 L406.7,2059.1 L408.0,2045.6 L409.3,2045.2 L410.6,2037.9 L411.9,2037.1 L413.2,2018.6 L414.5,2015.6 L415.8,2006.3 L417.1,1999.3 L418.4,1997.2 L419.7,1984.2 L421.0,1972.5 L422.3,1964.6 L423.6,1954.4 L424.9,1934.7 L426.2,1914.9 L427.5,1893.4 L428.8,1867.2 L430.1,1843.2 L431.4,1821.5 L432.7,1801.4 L434.0,1779.1 L435.3,1768.4 L436.6,1753.9 L437.9,1741.8 L439.2,1726.9 L440.5,1720.0 L441.8,1718.5 L443.1,1712.7 L444.4,1704.6 L445.7,1705.7 L447.0,1705.5 L448.3,1694.0 L449.6,1695.4 L450.9,1697.5 L452.2,1702.2 L453.5,1716.9 L454.8,1723.4 L456.1,1730.2 L457.4,1733.7 L458.7,1744.7 L460.0,1759.0 L461.3,1769.4 L462.6,1781.8 L463.9,1789.0 L465.2,1803.2 L466.5,1816.7 L467.8,1825.2 L469.1,1834.2 L470.4,1836.1 L471.7,1846.5 L473.0,1848.2 L474.3,1859.9 L475.6,1860.6 L476.9,1865.7 L478.2,1870.1 L479.5,1880.9 L480.8,1883.2 L482.1,1886.9 L483.4,1884.2 L484.7,1894.3 L486.0,1889.8 L487.3,1908.1 L488.6,1902.9 L489.9,1907.5 L491.2,1908.5 L492.5,1902.4 L493.8,1905.5 L495.1,1915.2 L496.4,1926.1 L497.7,1911.9 L499.0,1915.9 L500.3,1921.4 L501.6,1912.5 L502.9,1913.7 L504.2,1923.0 L505.5,1926.5 L506.8,1925.4 L508.1,1938.9 L509.4,1929.0 L510.7,1933.5 L512.0,1942.5 L513.3,1944.2 L514.6,1923.7 L515.9,1932.5 L517.2,1943.6 L518.5,1927.6 L519.8,1931.5 L521.1,1929.8 L522.4,1930.1 L523.7,1932.4 L525.0,1941.9 L526.3,1949.9 L527.6,1952.4 L528.9,1943.0 L530.2,1930.4 L531.5,1943.9 L532.8,1942.7 L534.1,1948.1 L535.4,1945.7 L536.7,1935.6 L538.0,1951.0 L539.3,1935.6 L540.6,1945.5 L541.9,1953.0 L543.2,1954.0 L544.5,1963.0 L545.8,1935.6 L547.1,1955.1 L548.4,1957.2 L549.7,1949.7 L551.0,1955.3 L552.3,1943.0 L553.6,1953.0 L554.9,1950.8 L556.2,1940.0 L557.5,1940.3 L558.8,1941.5 L560.1,1937.0 L561.4,1945.5 L562.7,1938.6 L564.0,1944.0 L565.3,1941.8 L566.6,1933.5 L567.9,1930.7 L569.2,1924.7 L570.5,1924.4 L571.8,1923.2 L573.1,1929.2 L574.4,1920.1 L575.7,1925.0 L577.0,1924.5 L578.3,1919.0 L579.6,1919.8 L580.9,1929.2 L582.2,1929.3 L583.5,1912.8 L584.8,1915.7 L586.1,1913.6 L587.4,1913.4 L588.7,1924.7 L590.0,1918.2 L591.3,1921.2 L592.6,1923.9 L593.9,1908.3 L595.2,1909.3 L596.5,1910.1 L597.8,1916.3 L599.1,1908.1 L600.4,1912.8 L601.7,1916.3 L603.0,1916.2 L604.3,1911.0 L605.6,1902.3 L606.9,1897.4 L608.2,1916.4 L609.5,1912.5 L610.8,1904.0 L612.1,1907.8 L613.4,1909.3 L614.7,1902.6 L616.0,1916.1 L617.3,1911.1 L618.6,1916.3 L619.9,1924.7 L621.2,1923.9 L622.5,1931.0 L623.8,1934.6 L625.1,1936.8 L626.4,1940.8 L627.7,1953.5 L629.0,1946.7 L630.3,1959.3 L631.6,1949.9 L632.9,1961.7 L634.2,1962.3 L635.5,1961.1 L636.8,1954.8 L638.1,1979.9 L639.4,1969.3 L640.7,1973.7 L642.0,1982.8 L643.3,1986.2 L644.6,1991.1 L645.9,1992.3 L647.2,1989.7 L648.5,2005.2 L649.8,1999.5 L651.1,2008.5 L652.4,2013.2 L653.7,2019.2 L655.0,2013.2 L656.3,2014.6 L657.6,2016.8 L658.9,2008.8 L660.2,2017.0 L661.5,2017.0 L662.8,2017.5 L664.1,2027.1 L665.4,2025.4 L666.7,2038.8 L668.0,2039.4 L669.3,2019.2 L670.6,2033.2 L671.9,2027.1 L673.2,2038.2 L674.5,2036.8 L675.8,2042.9 L677.1,2040.0 L678.4,2044.0 L679.7,2038.3 L681.0,2025.3 L682.3,2034.9 L683.6,2038.0 L684.9,2041.4 L686.2,2039.1 L687.5,2057.3 L688.8,2046.6 L690.1,2057.1 L691.4,2047.4 L692.7,2061.4 L694.0,2043.6 L695.3,2056.3 L696.6,2044.6 L697.9,2057.1 L699.2,2065.5 L700.5,2045.2 L701.8,2051.1 L703.1,2059.4 L704.4,2057.4 L705.7,2050.4 L707.0,2068.0 L708.3,2061.6 L709.6,2070.6 L710.9,2065.3 L712.2,2056.8 L713.5,2062.3 L714.8,2075.4 L716.1,2058.5 L717.4,2065.5 L718.7,2073.4 L720.0,2077.0 L721.3,2076.7 L722.6,2061.9 L723.9,2086.8 L725.2,2071.7 L726.5,2073.2 L727.8,2073.3 L729.1,2071.5 L730.4,2066.1 L731.7,2069.3 L733.0,2078.0 L734.3,2060.1 L735.6,2052.1 L736.9,2067.1 L738.2,2063.7 L739.5,2063.6 L740.8,2066.9 L742.1,2050.7 L743.4,2053.7 L744.7,2053.6 L746.0,2055.9 L747.3,2052.7 L748.6,2039.7 L749.9,2034.6 L751.2,2038.9 L752.5,2029.1 L753.8,2042.2 L755.1,2031.4 L756.4,2029.1 L757.7,2023.5 L759.0,2033.7 L760.3,2024.1 L761.6,2017.2 L762.9,2018.7 L764.2,2011.3 L765.5,2010.4 L766.8,2009.3 L768.1,1997.3 L769.4,1996.0 L770.7,1990.8 L772.0,1988.5 L773.3,1980.7 L774.6,1972.5 L775.9,1963.6 L777.2,1960.7 L778.5,1948.4 L779.8,1946.7 L781.1,1935.4 L782.4,1925.8 L783.7,1910.2 L785.0,1896.0 L786.3,1881.7 L787.6,1872.8 L788.9,1855.4 L790.2,1842.2 L791.5,1825.5 L792.8,1818.7 L794.1,1797.0 L795.4,1797.5 L796.7,1778.9 L798.0,1762.1 L799.3,1738.0 L800.6,1715.8 L801.9,1697.6 L803.2,1678.1 L804.5,1664.0 L805.8,1651.2 L807.1,1636.2 L808.4,1616.7 L809.7,1610.1 L811.0,1602.4 L812.3,1596.8 L813.6,1585.6 L814.9,1580.1 L816.2,1582.3 L817.5,1580.6 L818.8,1588.2 L820.1,1587.9 L821.4,1601.3 L822.7,1598.6 L824.0,1609.9 L825.3,1625.1 L826.6,1632.9 L827.9,1641.8 L829.2,1659.3 L830.5,1673.5 L831.8,1687.8 L833.1,1696.7 L834.4,1710.4 L835.7,1722.5 L837.0,1732.3 L838.3,1746.3 L839.6,1752.9 L840.9,1766.5 L842.2,1767.8 L843.5,1786.6 L844.8,1797.4 L846.1,1793.8 L847.4,1801.8 L848.7,1783.9 L850.0,1787.4 L851.3,1777.1 L852.6,1778.3 L853.9,1772.0 L855.2,1757.5 L856.5,1752.6 L857.8,1747.1 L859.1,1751.5 L860.4,1734.5 L861.7,1727.3 L863.0,1720.2 L864.3,1712.1 L865.6,1702.4 L866.9,1691.1 L868.2,1686.4 L869.5,1686.8 L870.8,1673.7 L872.1,1663.5 L873.4,1652.4 L874.7,1652.3 L876.0,1649.3 L877.3,1644.0 L878.6,1655.1 L879.9,1653.0 L881.2,1661.7 L882.5,1673.5 L883.8,1680.1 L885.1,1692.2 L886.4,1695.7 L887.7,1702.2 L889.0,1713.0 L890.3,1719.7 L891.6,1730.9 L892.9,1735.8 L894.2,1742.0 L895.5,1751.5 L896.8,1759.9 L898.1,1761.1 L899.4,1772.8 L900.7,1780.3 L902.0,1793.8 L903.3,1794.6 L904.6,1807.2 L905.9,1802.1 L907.2,1812.4 L908.5,1822.2 L909.8,1820.4 L911.1,1831.3 L912.4,1819.0 L913.7,1832.7 L915.0,1836.3 L916.3,1837.0 L917.6,1830.5 L918.9,1845.3 L920.2,1828.2 L921.5,1850.0 L922.8,1847.2 L924.1,1852.8 L925.4,1845.8 L926.7,1841.2 L928.0,1846.0 L929.3,1847.2 L930.6,1855.1 L931.9,1850.0 L933.2,1855.6 L934.5,1857.0 L935.8,1864.0 L937.1,1842.7 L938.4,1854.0 L939.7,1862.1 L941.0,1863.1 L942.3,1855.9 L943.6,1858.8 L944.9,1860.9 L946.2,1863.3 L947.5,1859.6 L948.8,1860.0 L950.1,1857.6 L951.4,1863.2 L952.7,1875.9 L954.0,1860.7 L955.3,1874.3 L956.6,1881.6 L957.9,1870.0 L959.2,1885.6 L960.5,1868.1 L961.8,1881.3 L963.1,1868.8 L964.4,1860.3 L965.7,1871.4 L967.0,1882.1 L968.3,1864.3 L969.6,1871.4 L970.9,1860.8 L972.2,1861.1 L973.5,1869.9 L974.8,1865.0 L976.1,1869.5 L977.4,1873.7 L978.7,1856.5 L980.0,1859.1 L981.3,1863.4 L982.6,1877.9 L983.9,1859.5 L985.2,1857.7 L986.5,1863.0 L987.8,1873.1 L989.1,1854.5 L990.4,1855.0 L991.7,1855.7 L993.0,1858.3 L994.3,1865.0 L995.6,1842.8 L996.9,1838.5 L998.2,1847.1 L999.5,1847.3 L1000.8,1829.1 L1002.1,1836.7 L1003.4,1844.2 L1004.7,1833.6 L1006.0,1838.2 L1007.3,1834.9 L1008.6,1836.5 L1009.9,1833.6 L1011.2,1831.1 L1012.5,1835.6 L1013.8,1823.0 L1015.1,1825.9 L1016.4,1830.9 L1017.7,1819.0 L1019.0,1819.2 L1020.3,1815.7 L1021.6,1813.7 L1022.9,1834.2 L1024.2,1823.2 L1025.5,1833.3 L1026.8,1825.2 L1028.1,1821.0 L1029.4,1819.1 L1030.7,1823.4 L1032.0,1822.0 L1033.3,1829.2 L1034.6,1818.3 L1035.9,1826.1 L1037.2,1829.0 L1038.5,1825.6 L1039.8,1826.6 L1041.1,1832.7 L1042.4,1834.3 L1043.7,1832.4 L1045.0,1835.1 L1046.3,1834.6 L1047.6,1843.3 L1048.9,1842.1 L1050.2,1836.5 L1051.5,1845.9 L1052.8,1853.4 L1054.1,1853.3 L1055.4,1847.8 L1056.7,1859.2 L1058.0,1859.9 L1059.3,1861.4 L1060.6,1868.5 L1061.9,1858.3 L1063.2,1865.4 L1064.5,1861.3 L1065.8,1870.4 L1067.1,1872.7 L1068.4,1869.6 L1069.7,1872.3 L1071.0,1863.4 L1072.3,1873.7 L1073.6,1863.1 L1074.9,1885.8 L1076.2,1880.3 L1077.5,1863.8 L1078.8,1857.4 L1080.1,1884.1 L1081.4,1871.0 L1082.7,1881.0 L1084.0,1869.8 L1085.3,1879.7 L1086.6,1875.8 L1087.9,1884.9 L1089.2,1879.5 L1090.5,1892.4 L1091.8,1878.3 L1093.1,1892.6 L1094.4,1884.8 L1095.7,1889.1 L1097.0,1875.7 L1098.3,1875.4 L1099.6,1894.9 L1100.9,1880.3 L1102.2,1887.0 L1103.5,1887.9 L1104.8,1884.8 L1106.1,1892.9 L1107.4,1883.0 L1108.7,1885.3 L1110.0,1900.1 L1111.3,1889.4 L1112.6,1900.5 L1113.9,1900.7 L1115.2,1907.2 L1116.5,1900.8 L1117.8,1886.0 L1119.1,1894.6 L1120.4,1896.7 L1121.7,1908.5 L1123.0,1902.9 L1124.3,1897.5 L1125.6,1904.3 L1126.9,1898.9 L1128.2,1905.6 L1129.5,1902.8 L1130.8,1909.8 L1132.1,1904.0 L1133.4,1908.4 L1134.7,1901.0 L1136.0,1905.6 L1137.3,1899.1 L1138.6,1904.1 L1139.9,1900.6 L1141.2,1897.6 L1142.5,1894.9 L1143.8,1895.2 L1145.1,1899.5 L1146.4,1880.2 L1147.7,1903.1 L1149.0,1878.2 L1150.3,1892.1 L1151.6,1890.4 L1152.9,1896.9 L1154.2,1892.9 L1155.5,1890.4 L1156.8,1890.7 L1158.1,1896.0 L1159.4,1905.0 L1160.7,1891.0 L1162.0,1873.8 L1163.3,1884.4 L1164.6,1889.6 L1165.9,1908.7 L1167.2,1880.3 L1168.5,1882.3 L1169.8,1887.9 L1171.1,1885.6 L1172.4,1873.9 L1173.7,1888.0 L1175.0,1872.3 L1176.3,1878.2 L1177.6,1887.4 L1178.9,1869.3 L1180.2,1874.4 L1181.5,1884.9 L1182.8,1871.4 L1184.1,1864.6 L1185.4,1864.5 L1186.7,1868.8 L1188.0,1853.1 L1189.3,1854.5 L1190.6,1846.8 L1191.9,1844.7 L1193.2,1853.5 L1194.5,1843.1 L1195.8,1837.8 L1197.1,1838.7 L1198.4,1829.4 L1199.7,1823.3 L1201.0,1830.9 L1202.3,1825.5 L1203.6,1813.0 L1204.9,1815.6 L1206.2,1814.0 L1207.5,1804.3 L1208.8,1798.3 L1210.1,1784.9 L1211.4,1782.1 L1212.7,1768.1 L1214.0,1771.1 L1215.3,1758.2 L1216.6,1754.8 L1217.9,1738.4 L1219.2,1733.6 L1220.5,1715.3 L1221.8,1708.2 L1223.1,1700.4 L1224.4,1689.4 L1225.7,1678.0 L1227.0,1662.5 L1228.3,1661.2 L1229.6,1648.6 L1230.9,1640.2 L1232.2,1631.2 L1233.5,1617.7 L1234.8,1613.6 L1236.1,1615.0 L1237.4,1594.4 L1238.7,1593.3 L1240.0,1584.0 L1241.3,1595.0 L1242.6,1585.0 L1243.9,1581.2 L1245.2,1588.5 L1246.5,1591.7 L1247.8,1595.8 L1249.1,1601.7 L1250.4,1616.4 L1251.7,1621.6 L1253.0,1633.9 L1254.3,1638.2 L1255.6,1650.2 L1256.9,1664.1 L1258.2,1662.0 L1259.5,1670.1 L1260.8,1686.1 L1262.1,1698.9 L1263.4,1694.6 L1264.7,1699.4 L1266.0,1712.3 L1267.3,1719.4 L1268.6,1731.0 L1269.9,1731.0 L1271.2,1740.8 L1272.5,1746.7 L1273.8,1747.3 L1275.1,1753.0 L1276.4,1767.3 L1277.7,1773.2 L1279.0,1772.4 L1280.3,1788.1 L1281.6,1789.9 L1282.9,1792.0 L1284.2,1796.7 L1285.5,1799.1 L1286.8,1804.6 L1288.1,1808.7 L1289.4,1807.7 L1290.7,1799.3 L1292.0,1812.4 L1293.3,1811.4 L1294.6,1812.0 L1295.9,1824.5 L1297.2,1813.3 L1298.5,1830.6 L1299.8,1824.7 L1301.1,1824.0 L1302.4,1828.4 L1303.7,1849.4 L1305.0,1846.7 L1306.3,1837.0 L1307.6,1847.2 L1308.9,1852.8 L1310.2,1833.1 L1311.5,1837.2 L1312.8,1845.6 L1314.1,1841.5 L1315.4,1835.6 L1316.7,1849.3 L1318.0,1840.9 L1319.3,1842.2 L1320.6,1852.7 L1321.9,1838.8 L1323.2,1853.0 L1324.5,1836.2 L1325.8,1832.2 L1327.1,1833.5 L1328.4,1837.8 L1329.7,1835.5 L1331.0,1832.8 L1332.3,1819.4 L1333.6,1821.3 L1334.9,1826.2 L1336.2,1832.3 L1337.5,1836.6 L1338.8,1809.3 L1340.1,1824.3 L1341.4,1821.5 L1342.7,1823.4 L1344.0,1825.1 L1345.3,1817.1 L1346.6,1813.3 L1347.9,1829.2 L1349.2,1826.8 L1350.5,1818.1 L1351.8,1819.7 L1353.1,1815.2 L1354.4,1809.6 L1355.7,1823.6 L1357.0,1813.8 L1358.3,1810.1 L1359.6,1813.3 L1360.9,1828.5 L1362.2,1819.5 L1363.5,1817.5 L1364.8,1816.0 L1366.1,1820.8 L1367.4,1819.2 L1368.7,1804.5 L1370.0,1811.2 L1371.3,1807.7 L1372.6,1813.0 L1373.9,1810.4 L1375.2,1796.4 L1376.5,1817.1 L1377.8,1810.2 L1379.1,1795.9 L1380.4,1814.1 L1381.7,1806.2 L1383.0,1807.4 L1384.3,1803.4 L1385.6,1803.1 L1386.9,1797.6 L1388.2,1788.8 L1389.5,1794.4 L1390.8,1798.2 L1392.1,1796.1 L1393.4,1798.7 L1394.7,1792.6 L1396.0,1777.5 L1397.3,1795.5 L1398.6,1784.2 L1399.9,1779.5 L1401.2,1785.0 L1402.5,1777.0 L1403.8,1787.1 L1405.1,1777.6 L1406.4,1795.5 L1407.7,1780.0 L1409.0,1777.0 L1410.3,1775.4 L1411.6,1764.4 L1412.9,1772.2 L1414.2,1772.0 L1415.5,1774.0 L1416.8,1760.4 L1418.1,1774.8 L1419.4,1782.3 L1420.7,1769.9 L1422.0,1771.6 L1423.3,1774.1 L1424.6,1765.0 L1425.9,1766.7 L1427.2,1775.4 L1428.5,1769.4 L1429.8,1759.0 L1431.1,1754.5 L1432.4,1781.6 L1433.7,1768.4 L1435.0,1753.7 L1436.3,1765.1 L1437.6,1768.1 L1438.9,1763.6 L1440.2,1749.2 L1441.5,1774.2 L1442.8,1765.2 L1444.1,1759.1 L1445.4,1764.6 L1446.7,1757.7 L1448.0,1756.4 L1449.3,1764.3 L1450.6,1743.8 L1451.9,1763.8 L1453.2,1759.1 L1454.5,1761.0 L1455.8,1761.6 L1457.1,1765.5 L1458.4,1764.2 L1459.7,1759.9 L1461.0,1750.5 L1462.3,1757.6 L1463.6,1748.9 L1464.9,1745.1 L1466.2,1754.8 L1467.5,1753.8 L1468.8,1759.5 L1470.1,1735.2 L1471.4,1754.9 L1472.7,1755.3 L1474.0,1751.1 L1475.3,1761.1 L1476.6,1743.7 L1477.9,1752.6 L1479.2,1747.3 L1480.5,1749.9 L1481.8,1742.8 L1483.1,1748.9 L1484.4,1754.8 L1485.7,1750.7 L1487.0,1752.3 L1488.3,1744.1 L1489.6,1761.5 L1490.9,1744.5 L1492.2,1749.8 L1493.5,1754.0 L1494.8,1748.2 L1496.1,1755.2 L1497.4,1751.0 L1498.7,1762.2 L1500.0,1753.6 L1501.3,1752.4 L1502.6,1743.5 L1503.9,1752.9 L1505.2,1756.9 L1506.5,1752.5 L1507.8,1742.5 L1509.1,1745.4 L1510.4,1747.8 L1511.7,1749.7 L1513.0,1739.5 L1514.3,1763.4 L1515.6,1749.2 L1516.9,1751.0 L1518.2,1747.2 L1519.5,1750.3 L1520.8,1764.6 L1522.1,1744.4 L1523.4,1747.7 L1524.7,1744.4 L1526.0,1748.2 L1527.3,1763.3 L1528.6,1748.3 L1529.9,1749.9 L1531.2,1740.7 L1532.5,1751.3 L1533.8,1755.8 L1535.1,1751.1 L1536.4,1752.1 L1537.7,1760.9 L1539.0,1759.4 L1540.3,1755.3 L1541.6,1750.8 L1542.9,1746.0 L1544.2,1768.9 L1545.5,1746.5 L1546.8,1762.4 L1548.1,1756.8 L1549.4,1753.5 L1550.7,1765.3 L1552.0,1754.3 L1553.3,1768.8 L1554.6,1753.3 L1555.9,1764.3 L1557.2,1770.3 L1558.5,1755.1 L1559.8,1776.9 L1561.1,1768.7 L1562.4,1747.8 L1563.7,1773.4 L1565.0,1777.5 L1566.3,1762.8 L1567.6,1763.7 L1568.9,1768.1 L1570.2,1752.6 L1571.5,1767.4 L1572.8,1773.3 L1574.1,1763.3 L1575.4,1775.3 L1576.7,1783.4 L1578.0,1754.5 L1579.3,1755.9 L1580.6,1764.1 L1581.9,1773.8 L1583.2,1772.5 L1584.5,1763.7 L1585.8,1762.5 L1587.1,1765.7 L1588.4,1783.2 L1589.7,1764.8 L1591.0,1767.8 L1592.3,1779.0 L1593.6,1770.7 L1594.9,1765.9 L1596.2,1783.4 L1597.5,1776.0 L1598.8,1769.1 L1600.1,1771.6 L1601.4,1781.2 L1602.7,1772.3 L1604.0,1777.1 L1605.3,1781.8 L1606.6,1782.9 L1607.9,1763.0 L1609.2,1772.9 L1610.5,1774.2 L1611.8,1777.6 L1613.1,1782.6 L1614.4,1785.8 L1615.7,1774.4 L1617.0,1770.0 L1618.3,1779.6 L1619.6,1774.1 L1620.9,1791.0 L1622.2,1781.5 L1623.5,1779.5 L1624.8,1786.5 L1626.1,1774.9 L1627.4,1777.4 L1628.7,1778.8 L1630.0,1784.9 L1631.3,1789.8 L1632.6,1786.3 L1633.9,1786.3 L1635.2,1779.4 L1636.5,1783.9 L1637.8,1779.8 L1639.1,1789.9 L1640.4,1777.2 L1641.7,1781.4 L1643.0,1783.8 L1644.3,1787.9" fill="none" stroke="#000" stroke-width="7.6" stroke-linejoin="round" stroke-linecap="round"/>
<path transform="scale(1,1.16)" d="M256.0,2558.9 L257.3,2551.9 L258.6,2557.4 L259.9,2545.7 L261.2,2560.3 L262.5,2546.5 L263.8,2555.7 L265.1,2554.9 L266.4,2550.7 L267.7,2572.7 L269.0,2551.8 L270.3,2558.2 L271.6,2561.9 L272.9,2548.0 L274.2,2563.3 L275.5,2554.5 L276.8,2561.2 L278.1,2549.6 L279.4,2548.9 L280.7,2562.3 L282.0,2558.1 L283.3,2555.9 L284.6,2558.9 L285.9,2558.2 L287.2,2548.0 L288.5,2541.6 L289.8,2544.9 L291.1,2544.2 L292.4,2541.6 L293.7,2551.1 L295.0,2551.8 L296.3,2554.8 L297.6,2556.3 L298.9,2552.7 L300.2,2553.5 L301.5,2555.4 L302.8,2549.0 L304.1,2550.7 L305.4,2555.2 L306.7,2550.9 L308.0,2551.5 L309.3,2554.4 L310.6,2563.1 L311.9,2556.9 L313.2,2553.0 L314.5,2551.5 L315.8,2554.3 L317.1,2568.5 L318.4,2536.0 L319.7,2558.2 L321.0,2556.4 L322.3,2560.2 L323.6,2548.1 L324.9,2567.6 L326.2,2560.8 L327.5,2554.5 L328.8,2555.7 L330.1,2550.3 L331.4,2554.8 L332.7,2553.5 L334.0,2559.9 L335.3,2556.3 L336.6,2553.5 L337.9,2557.9 L339.2,2557.0 L340.5,2554.9 L341.8,2544.4 L343.1,2559.3 L344.4,2546.2 L345.7,2546.9 L347.0,2552.0 L348.3,2555.5 L349.6,2560.5 L350.9,2542.1 L352.2,2560.5 L353.5,2561.2 L354.8,2548.7 L356.1,2550.0 L357.4,2547.5 L358.7,2547.0 L360.0,2542.4 L361.3,2540.0 L362.6,2548.2 L363.9,2550.3 L365.2,2558.8 L366.5,2542.2 L367.8,2535.5 L369.1,2547.6 L370.4,2543.6 L371.7,2547.7 L373.0,2542.8 L374.3,2537.4 L375.6,2540.0 L376.9,2547.6 L378.2,2544.0 L379.5,2536.4 L380.8,2545.7 L382.1,2532.2 L383.4,2536.3 L384.7,2539.2 L386.0,2529.9 L387.3,2529.7 L388.6,2534.9 L389.9,2533.2 L391.2,2531.0 L392.5,2528.1 L393.8,2523.9 L395.1,2524.1 L396.4,2541.2 L397.7,2521.4 L399.0,2529.5 L400.3,2517.4 L401.6,2524.2 L402.9,2521.0 L404.2,2514.9 L405.5,2507.2 L406.8,2501.2 L408.1,2508.6 L409.4,2495.8 L410.7,2492.9 L412.0,2501.4 L413.3,2497.5 L414.6,2487.8 L415.9,2482.7 L417.2,2476.9 L418.5,2476.4 L419.8,2468.6 L421.1,2460.0 L422.4,2457.9 L423.7,2456.4 L425.0,2444.5 L426.3,2440.5 L427.6,2437.2 L428.9,2434.9 L430.2,2422.9 L431.5,2415.3 L432.8,2414.7 L434.1,2398.5 L435.4,2393.7 L436.7,2393.2 L438.0,2388.2 L439.3,2380.5 L440.6,2364.0 L441.9,2371.6 L443.2,2367.1 L444.5,2360.8 L445.8,2359.5 L447.1,2358.9 L448.4,2349.9 L449.7,2342.6 L451.0,2335.5 L452.3,2345.2 L453.6,2342.4 L454.9,2345.7 L456.2,2346.6 L457.5,2356.1 L458.8,2361.8 L460.1,2364.1 L461.4,2361.8 L462.7,2374.0 L464.0,2376.7 L465.3,2371.3 L466.6,2387.7 L467.9,2382.3 L469.2,2389.7 L470.5,2402.3 L471.8,2403.9 L473.1,2401.6 L474.4,2403.6 L475.7,2412.0 L477.0,2405.3 L478.3,2417.9 L479.6,2417.4 L480.9,2424.6 L482.2,2423.0 L483.5,2420.6 L484.8,2428.8 L486.1,2428.1 L487.4,2424.6 L488.7,2427.5 L490.0,2429.9 L491.3,2436.7 L492.6,2441.9 L493.9,2439.3 L495.2,2434.7 L496.5,2440.3 L497.8,2446.5 L499.1,2450.4 L500.4,2441.0 L501.7,2448.5 L503.0,2446.0 L504.3,2437.4 L505.6,2442.9 L506.9,2447.7 L508.2,2448.8 L509.5,2450.3 L510.8,2450.0 L512.1,2456.1 L513.4,2449.7 L514.7,2447.0 L516.0,2459.3 L517.3,2453.9 L518.6,2462.4 L519.9,2454.1 L521.2,2466.7 L522.5,2453.0 L523.8,2453.8 L525.1,2465.0 L526.4,2471.7 L527.7,2457.4 L529.0,2471.4 L530.3,2471.5 L531.6,2467.5 L532.9,2461.6 L534.2,2449.8 L535.5,2453.5 L536.8,2457.9 L538.1,2465.4 L539.4,2461.0 L540.7,2457.9 L542.0,2461.8 L543.3,2451.4 L544.6,2462.3 L545.9,2454.2 L547.2,2465.9 L548.5,2459.0 L549.8,2453.3 L551.1,2453.8 L552.4,2447.1 L553.7,2456.1 L555.0,2448.9 L556.3,2453.1 L557.6,2459.3 L558.9,2454.2 L560.2,2454.3 L561.5,2465.5 L562.8,2454.0 L564.1,2455.4 L565.4,2447.1 L566.7,2441.2 L568.0,2448.0 L569.3,2439.6 L570.6,2428.7 L571.9,2447.2 L573.2,2444.9 L574.5,2436.4 L575.8,2448.2 L577.1,2439.9 L578.4,2436.9 L579.7,2433.3 L581.0,2444.1 L582.3,2434.5 L583.6,2433.4 L584.9,2432.9 L586.2,2430.4 L587.5,2424.8 L588.8,2429.5 L590.1,2428.1 L591.4,2436.3 L592.7,2424.4 L594.0,2435.0 L595.3,2427.7 L596.6,2425.4 L597.9,2428.6 L599.2,2429.4 L600.5,2429.4 L601.8,2432.0 L603.1,2429.7 L604.4,2419.2 L605.7,2424.8 L607.0,2438.3 L608.3,2429.4 L609.6,2418.7 L610.9,2433.2 L612.2,2442.4 L613.5,2441.0 L614.8,2436.8 L616.1,2439.2 L617.4,2442.8 L618.7,2440.1 L620.0,2439.7 L621.3,2452.0 L622.6,2442.8 L623.9,2451.4 L625.2,2439.5 L626.5,2445.0 L627.8,2444.6 L629.1,2454.1 L630.4,2450.3 L631.7,2451.8 L633.0,2451.9 L634.3,2458.8 L635.6,2464.5 L636.9,2458.1 L638.2,2465.7 L639.5,2463.9 L640.8,2462.3 L642.1,2468.6 L643.4,2475.1 L644.7,2455.9 L646.0,2474.3 L647.3,2481.1 L648.6,2472.0 L649.9,2478.1 L651.2,2480.4 L652.5,2479.0 L653.8,2478.7 L655.1,2485.4 L656.4,2485.5 L657.7,2481.6 L659.0,2485.2 L660.3,2477.8 L661.6,2482.8 L662.9,2485.3 L664.2,2485.3 L665.5,2482.8 L666.8,2494.1 L668.1,2490.0 L669.4,2492.9 L670.7,2482.5 L672.0,2487.5 L673.3,2487.2 L674.6,2490.6 L675.9,2501.7 L677.2,2507.1 L678.5,2494.6 L679.8,2496.2 L681.1,2493.6 L682.4,2492.2 L683.7,2500.8 L685.0,2494.0 L686.3,2490.9 L687.6,2501.0 L688.9,2496.9 L690.2,2500.1 L691.5,2500.5 L692.8,2504.7 L694.1,2503.1 L695.4,2505.2 L696.7,2499.7 L698.0,2500.0 L699.3,2503.1 L700.6,2502.6 L701.9,2504.3 L703.2,2503.8 L704.5,2514.5 L705.8,2501.0 L707.1,2505.2 L708.4,2503.4 L709.7,2510.6 L711.0,2498.5 L712.3,2495.9 L713.6,2510.4 L714.9,2508.0 L716.2,2504.8 L717.5,2499.3 L718.8,2511.5 L720.1,2506.6 L721.4,2500.6 L722.7,2501.4 L724.0,2500.4 L725.3,2512.7 L726.6,2503.3 L727.9,2498.2 L729.2,2500.8 L730.5,2510.8 L731.8,2507.7 L733.1,2499.7 L734.4,2496.8 L735.7,2499.9 L737.0,2504.5 L738.3,2500.1 L739.6,2498.7 L740.9,2501.6 L742.2,2497.7 L743.5,2494.1 L744.8,2491.8 L746.1,2493.9 L747.4,2494.4 L748.7,2499.2 L750.0,2497.5 L751.3,2491.7 L752.6,2501.7 L753.9,2488.2 L755.2,2499.3 L756.5,2486.9 L757.8,2490.5 L759.1,2495.6 L760.4,2494.6 L761.7,2484.4 L763.0,2487.8 L764.3,2480.3 L765.6,2483.3 L766.9,2484.8 L768.2,2478.2 L769.5,2486.2 L770.8,2479.4 L772.1,2478.1 L773.4,2470.0 L774.7,2469.6 L776.0,2468.4 L777.3,2466.9 L778.6,2462.0 L779.9,2453.1 L781.2,2446.6 L782.5,2440.3 L783.8,2446.8 L785.1,2437.8 L786.4,2433.5 L787.7,2422.4 L789.0,2424.0 L790.3,2412.6 L791.6,2405.2 L792.9,2396.0 L794.2,2386.4 L795.5,2386.4 L796.8,2377.7 L798.1,2371.0 L799.4,2360.2 L800.7,2352.0 L802.0,2349.1 L803.3,2349.8 L804.6,2347.2 L805.9,2332.6 L807.2,2328.1 L808.5,2318.4 L809.8,2315.8 L811.1,2317.4 L812.4,2309.4 L813.7,2309.7 L815.0,2311.4 L816.3,2302.3 L817.6,2295.3 L818.9,2308.6 L820.2,2302.8 L821.5,2300.9 L822.8,2302.9 L824.1,2302.7 L825.4,2309.5 L826.7,2304.0 L828.0,2313.4 L829.3,2312.5 L830.6,2320.8 L831.9,2327.4 L833.2,2327.4 L834.5,2338.8 L835.8,2335.2 L837.1,2336.6 L838.4,2344.8 L839.7,2348.7 L841.0,2353.3 L842.3,2356.2 L843.6,2359.4 L844.9,2367.3 L846.2,2359.3 L847.5,2372.5 L848.8,2369.2 L850.1,2374.1 L851.4,2373.2 L852.7,2385.6 L854.0,2372.4 L855.3,2378.2 L856.6,2383.7 L857.9,2390.8 L859.2,2380.2 L860.5,2390.6 L861.8,2390.9 L863.1,2379.0 L864.4,2368.6 L865.7,2375.6 L867.0,2366.9 L868.3,2362.1 L869.6,2362.3 L870.9,2357.5 L872.2,2348.2 L873.5,2346.9 L874.8,2338.8 L876.1,2340.5 L877.4,2335.1 L878.7,2335.4 L880.0,2328.0 L881.3,2332.4 L882.6,2333.6 L883.9,2336.2 L885.2,2336.3 L886.5,2330.2 L887.8,2344.4 L889.1,2340.9 L890.4,2353.7 L891.7,2352.8 L893.0,2356.0 L894.3,2356.2 L895.6,2369.7 L896.9,2362.2 L898.2,2374.7 L899.5,2379.2 L900.8,2389.0 L902.1,2384.9 L903.4,2382.0 L904.7,2381.5 L906.0,2385.2 L907.3,2384.6 L908.6,2400.2 L909.9,2398.3 L911.2,2394.6 L912.5,2405.7 L913.8,2405.3 L915.1,2412.1 L916.4,2411.2 L917.7,2406.1 L919.0,2413.9 L920.3,2419.2 L921.6,2416.1 L922.9,2417.1 L924.2,2410.9 L925.5,2415.1 L926.8,2419.8 L928.1,2424.7 L929.4,2418.0 L930.7,2419.9 L932.0,2434.5 L933.3,2418.0 L934.6,2422.7 L935.9,2419.2 L937.2,2425.2 L938.5,2430.4 L939.8,2431.0 L941.1,2429.1 L942.4,2434.5 L943.7,2427.6 L945.0,2431.9 L946.3,2422.7 L947.6,2434.7 L948.9,2425.6 L950.2,2437.0 L951.5,2423.9 L952.8,2432.1 L954.1,2432.3 L955.4,2432.7 L956.7,2430.4 L958.0,2440.7 L959.3,2434.2 L960.6,2425.5 L961.9,2429.4 L963.2,2440.0 L964.5,2427.6 L965.8,2443.9 L967.1,2431.1 L968.4,2422.6 L969.7,2438.9 L971.0,2428.2 L972.3,2411.3 L973.6,2433.8 L974.9,2425.9 L976.2,2434.5 L977.5,2437.0 L978.8,2437.1 L980.1,2430.7 L981.4,2422.5 L982.7,2437.6 L984.0,2430.2 L985.3,2429.1 L986.6,2419.5 L987.9,2423.1 L989.2,2426.6 L990.5,2423.7 L991.8,2424.8 L993.1,2417.6 L994.4,2412.8 L995.7,2422.8 L997.0,2419.1 L998.3,2424.5 L999.6,2424.5 L1000.9,2415.4 L1002.2,2413.0 L1003.5,2420.2 L1004.8,2417.0 L1006.1,2406.3 L1007.4,2419.5 L1008.7,2410.0 L1010.0,2406.7 L1011.3,2399.4 L1012.6,2403.8 L1013.9,2408.4 L1015.2,2406.8 L1016.5,2412.3 L1017.8,2409.3 L1019.1,2397.7 L1020.4,2401.5 L1021.7,2400.3 L1023.0,2397.7 L1024.3,2397.3 L1025.6,2395.7 L1026.9,2395.2 L1028.2,2400.0 L1029.5,2402.3 L1030.8,2407.4 L1032.1,2394.9 L1033.4,2396.7 L1034.7,2381.1 L1036.0,2398.9 L1037.3,2401.3 L1038.6,2397.1 L1039.9,2400.8 L1041.2,2396.2 L1042.5,2396.9 L1043.8,2393.5 L1045.1,2395.9 L1046.4,2392.1 L1047.7,2409.8 L1049.0,2408.4 L1050.3,2404.6 L1051.6,2404.1 L1052.9,2413.9 L1054.2,2409.0 L1055.5,2402.7 L1056.8,2407.6 L1058.1,2409.7 L1059.4,2410.0 L1060.7,2410.7 L1062.0,2400.1 L1063.3,2405.7 L1064.6,2399.6 L1065.9,2413.2 L1067.2,2409.9 L1068.5,2405.8 L1069.8,2425.8 L1071.1,2421.5 L1072.4,2412.5 L1073.7,2420.5 L1075.0,2413.3 L1076.3,2422.8 L1077.6,2422.7 L1078.9,2416.2 L1080.2,2423.0 L1081.5,2430.4 L1082.8,2426.7 L1084.1,2415.0 L1085.4,2424.6 L1086.7,2427.2 L1088.0,2424.5 L1089.3,2430.1 L1090.6,2420.1 L1091.9,2410.9 L1093.2,2433.7 L1094.5,2418.6 L1095.8,2424.7 L1097.1,2416.7 L1098.4,2430.8 L1099.7,2420.1 L1101.0,2427.3 L1102.3,2426.8 L1103.6,2435.7 L1104.9,2438.6 L1106.2,2432.2 L1107.5,2433.9 L1108.8,2429.6 L1110.1,2429.6 L1111.4,2423.5 L1112.7,2432.0 L1114.0,2417.2 L1115.3,2434.3 L1116.6,2430.1 L1117.9,2429.6 L1119.2,2436.8 L1120.5,2419.6 L1121.8,2425.1 L1123.1,2434.3 L1124.4,2429.4 L1125.7,2435.1 L1127.0,2430.6 L1128.3,2425.5 L1129.6,2435.1 L1130.9,2434.0 L1132.2,2436.2 L1133.5,2436.4 L1134.8,2445.5 L1136.1,2427.9 L1137.4,2430.2 L1138.7,2442.5 L1140.0,2428.7 L1141.3,2434.4 L1142.6,2440.4 L1143.9,2435.9 L1145.2,2436.2 L1146.5,2432.8 L1147.8,2422.3 L1149.1,2436.7 L1150.4,2437.1 L1151.7,2434.3 L1153.0,2428.9 L1154.3,2432.2 L1155.6,2434.7 L1156.9,2428.0 L1158.2,2426.8 L1159.5,2423.0 L1160.8,2431.4 L1162.1,2421.2 L1163.4,2425.1 L1164.7,2435.3 L1166.0,2415.3 L1167.3,2422.2 L1168.6,2431.8 L1169.9,2424.6 L1171.2,2432.8 L1172.5,2418.7 L1173.8,2420.0 L1175.1,2431.8 L1176.4,2419.0 L1177.7,2424.9 L1179.0,2422.9 L1180.3,2432.2 L1181.6,2417.4 L1182.9,2424.2 L1184.2,2428.5 L1185.5,2430.5 L1186.8,2423.7 L1188.1,2427.1 L1189.4,2418.4 L1190.7,2432.7 L1192.0,2423.9 L1193.3,2425.2 L1194.6,2429.9 L1195.9,2420.4 L1197.2,2417.5 L1198.5,2418.8 L1199.8,2419.1 L1201.1,2403.8 L1202.4,2399.7 L1203.7,2406.8 L1205.0,2400.0 L1206.3,2397.7 L1207.6,2403.1 L1208.9,2390.3 L1210.2,2387.5 L1211.5,2389.6 L1212.8,2377.3 L1214.1,2377.4 L1215.4,2371.9 L1216.7,2369.2 L1218.0,2365.2 L1219.3,2355.3 L1220.6,2353.8 L1221.9,2348.9 L1223.2,2341.7 L1224.5,2343.9 L1225.8,2335.1 L1227.1,2328.3 L1228.4,2321.7 L1229.7,2321.0 L1231.0,2313.6 L1232.3,2314.9 L1233.6,2312.7 L1234.9,2302.9 L1236.2,2298.1 L1237.5,2295.3 L1238.8,2295.6 L1240.1,2285.8 L1241.4,2287.2 L1242.7,2278.7 L1244.0,2267.4 L1245.3,2286.7 L1246.6,2282.4 L1247.9,2277.6 L1249.2,2281.5 L1250.5,2284.4 L1251.8,2293.9 L1253.1,2289.3 L1254.4,2295.6 L1255.7,2297.2 L1257.0,2299.3 L1258.3,2307.2 L1259.6,2310.9 L1260.9,2310.8 L1262.2,2326.5 L1263.5,2309.9 L1264.8,2331.2 L1266.1,2325.1 L1267.4,2330.8 L1268.7,2340.5 L1270.0,2345.8 L1271.3,2351.5 L1272.6,2344.1 L1273.9,2362.3 L1275.2,2353.8 L1276.5,2363.3 L1277.8,2371.2 L1279.1,2369.8 L1280.4,2372.9 L1281.7,2380.2 L1283.0,2379.6 L1284.3,2377.0 L1285.6,2389.9 L1286.9,2392.6 L1288.2,2393.0 L1289.5,2394.7 L1290.8,2400.7 L1292.1,2402.4 L1293.4,2405.5 L1294.7,2403.1 L1296.0,2391.5 L1297.3,2406.9 L1298.6,2407.0 L1299.9,2408.1 L1301.2,2411.4 L1302.5,2394.1 L1303.8,2384.7 L1305.1,2407.0 L1306.4,2404.7 L1307.7,2400.3 L1309.0,2392.5 L1310.3,2408.8 L1311.6,2396.2 L1312.9,2409.6 L1314.2,2399.0 L1315.5,2403.0 L1316.8,2380.9 L1318.1,2398.8 L1319.4,2390.7 L1320.7,2386.9 L1322.0,2392.5 L1323.3,2411.1 L1324.6,2390.5 L1325.9,2383.2 L1327.2,2400.7 L1328.5,2388.2 L1329.8,2392.9 L1331.1,2403.4 L1332.4,2399.7 L1333.7,2397.4 L1335.0,2399.9 L1336.3,2392.6 L1337.6,2385.3 L1338.9,2391.9 L1340.2,2389.8 L1341.5,2392.4 L1342.8,2391.8 L1344.1,2395.2 L1345.4,2397.9 L1346.7,2388.5 L1348.0,2390.0 L1349.3,2393.5 L1350.6,2398.7 L1351.9,2389.2 L1353.2,2379.2 L1354.5,2396.7 L1355.8,2382.9 L1357.1,2388.0 L1358.4,2387.2 L1359.7,2393.1 L1361.0,2378.7 L1362.3,2396.4 L1363.6,2385.9 L1364.9,2394.5 L1366.2,2385.5 L1367.5,2403.0 L1368.8,2386.8 L1370.1,2383.5 L1371.4,2380.7 L1372.7,2370.1 L1374.0,2392.6 L1375.3,2374.3 L1376.6,2382.8 L1377.9,2385.5 L1379.2,2384.1 L1380.5,2378.9 L1381.8,2374.4 L1383.1,2381.0 L1384.4,2376.3 L1385.7,2367.1 L1387.0,2369.7 L1388.3,2378.1 L1389.6,2378.9 L1390.9,2359.2 L1392.2,2373.8 L1393.5,2369.9 L1394.8,2375.6 L1396.1,2370.1 L1397.4,2367.5 L1398.7,2373.2 L1400.0,2373.3 L1401.3,2372.7 L1402.6,2365.5 L1403.9,2367.4 L1405.2,2373.5 L1406.5,2362.2 L1407.8,2357.9 L1409.1,2363.7 L1410.4,2355.1 L1411.7,2364.8 L1413.0,2354.1 L1414.3,2356.1 L1415.6,2363.6 L1416.9,2351.3 L1418.2,2353.9 L1419.5,2357.3 L1420.8,2356.4 L1422.1,2345.6 L1423.4,2358.4 L1424.7,2351.5 L1426.0,2352.6 L1427.3,2355.3 L1428.6,2355.3 L1429.9,2351.5 L1431.2,2354.5 L1432.5,2350.2 L1433.8,2340.9 L1435.1,2340.2 L1436.4,2341.8 L1437.7,2340.6 L1439.0,2343.8 L1440.3,2332.1 L1441.6,2345.1 L1442.9,2348.3 L1444.2,2347.9 L1445.5,2343.2 L1446.8,2336.1 L1448.1,2354.6 L1449.4,2337.3 L1450.7,2338.4 L1452.0,2341.0 L1453.3,2331.6 L1454.6,2332.1 L1455.9,2339.7 L1457.2,2345.4 L1458.5,2336.3 L1459.8,2340.8 L1461.1,2340.9 L1462.4,2338.9 L1463.7,2331.7 L1465.0,2342.5 L1466.3,2334.7 L1467.6,2329.6 L1468.9,2328.7 L1470.2,2340.4 L1471.5,2334.9 L1472.8,2329.9 L1474.1,2339.4 L1475.4,2337.6 L1476.7,2332.9 L1478.0,2325.3 L1479.3,2331.5 L1480.6,2333.7 L1481.9,2325.9 L1483.2,2346.8 L1484.5,2330.8 L1485.8,2324.9 L1487.1,2321.6 L1488.4,2337.9 L1489.7,2330.6 L1491.0,2331.2 L1492.3,2327.0 L1493.6,2335.6 L1494.9,2333.6 L1496.2,2325.1 L1497.5,2329.1 L1498.8,2324.1 L1500.1,2334.7 L1501.4,2332.1 L1502.7,2338.0 L1504.0,2336.1 L1505.3,2337.8 L1506.6,2322.6 L1507.9,2329.1 L1509.2,2326.9 L1510.5,2325.4 L1511.8,2329.2 L1513.1,2340.6 L1514.4,2339.6 L1515.7,2343.8 L1517.0,2338.6 L1518.3,2338.8 L1519.6,2334.0 L1520.9,2334.4 L1522.2,2334.4 L1523.5,2332.1 L1524.8,2329.7 L1526.1,2338.4 L1527.4,2345.9 L1528.7,2332.9 L1530.0,2332.4 L1531.3,2345.7 L1532.6,2339.7 L1533.9,2331.7 L1535.2,2340.6 L1536.5,2328.9 L1537.8,2344.5 L1539.1,2341.3 L1540.4,2337.1 L1541.7,2345.9 L1543.0,2342.7 L1544.3,2354.1 L1545.6,2342.7 L1546.9,2349.9 L1548.2,2342.0 L1549.5,2350.3 L1550.8,2352.6 L1552.1,2353.7 L1553.4,2354.8 L1554.7,2341.9 L1556.0,2360.5 L1557.3,2359.7 L1558.6,2349.2 L1559.9,2351.2 L1561.2,2355.6 L1562.5,2339.7 L1563.8,2348.6 L1565.1,2352.6 L1566.4,2353.1 L1567.7,2353.0 L1569.0,2343.0 L1570.3,2355.9 L1571.6,2355.8 L1572.9,2352.9 L1574.2,2346.5 L1575.5,2343.8 L1576.8,2349.2 L1578.1,2352.6 L1579.4,2343.5 L1580.7,2347.5 L1582.0,2353.4 L1583.3,2352.9 L1584.6,2345.1 L1585.9,2338.4 L1587.2,2348.8 L1588.5,2339.9 L1589.8,2341.4 L1591.1,2355.0 L1592.4,2352.7 L1593.7,2344.0 L1595.0,2349.8 L1596.3,2351.2 L1597.6,2354.2 L1598.9,2358.5 L1600.2,2354.6 L1601.5,2338.8 L1602.8,2354.7 L1604.1,2351.0 L1605.4,2352.2 L1606.7,2353.1 L1608.0,2352.3 L1609.3,2351.5 L1610.6,2360.2 L1611.9,2360.9 L1613.2,2363.4 L1614.5,2360.7 L1615.8,2360.4 L1617.1,2358.4 L1618.4,2349.0 L1619.7,2362.8 L1621.0,2355.1 L1622.3,2356.4 L1623.6,2348.6 L1624.9,2354.6 L1626.2,2376.0 L1627.5,2356.2 L1628.8,2363.4 L1630.1,2365.8 L1631.4,2362.3 L1632.7,2356.7 L1634.0,2359.3 L1635.3,2363.2 L1636.6,2358.6 L1637.9,2353.6 L1639.2,2355.5 L1640.5,2371.0 L1641.8,2366.5 L1643.1,2366.8 L1644.4,2368.6 L1645.7,2365.2 L1647.0,2358.3 L1648.3,2377.4 L1649.6,2362.8" fill="none" stroke="#ff0000" stroke-width="8.2" stroke-linejoin="round" stroke-linecap="round"/>
<text transform="translate(367.8,3132.5) scale(1.0000,1)" font-size="63" font-family='"Liberation Sans", Arial, sans-serif' font-weight="bold" fill="#000" style="font-kerning:none;letter-spacing:-5.76px;white-space:pre">880</text>
<text transform="translate(599.3,3132.5) scale(1.0000,1)" font-size="63" font-family='"Liberation Sans", Arial, sans-serif' font-weight="bold" fill="#000" style="font-kerning:none;letter-spacing:-5.76px;white-space:pre">890</text>
<text transform="translate(830.6,3132.5) scale(1.0000,1)" font-size="63" font-family='"Liberation Sans", Arial, sans-serif' font-weight="bold" fill="#000" style="font-kerning:none;letter-spacing:-5.67px;white-space:pre">900</text>
<text transform="translate(1062.1,3132.5) scale(1.0000,1)" font-size="63" font-family='"Liberation Sans", Arial, sans-serif' font-weight="bold" fill="#000" style="font-kerning:none;letter-spacing:-5.67px;white-space:pre">910</text>
<text transform="translate(1293.6,3132.5) scale(1.0000,1)" font-size="63" font-family='"Liberation Sans", Arial, sans-serif' font-weight="bold" fill="#000" style="font-kerning:none;letter-spacing:-5.67px;white-space:pre">920</text>
<text transform="translate(1525.1,3132.5) scale(1.0000,1)" font-size="63" font-family='"Liberation Sans", Arial, sans-serif' font-weight="bold" fill="#000" style="font-kerning:none;letter-spacing:-5.67px;white-space:pre">930</text>
<text transform="translate(648.7,3247.0) scale(0.9300,1)" font-size="106" font-family='"Liberation Serif", "Times New Roman", serif' font-weight="bold" fill="#000" style="font-kerning:none;letter-spacing:-7.29px;white-space:pre">Binding</text>
<text transform="translate(964.0,3247.0) scale(0.9300,1)" font-size="106" font-family='"Liberation Serif", "Times New Roman", serif' font-weight="bold" fill="#000" style="font-kerning:none;letter-spacing:-5.66px;white-space:pre">energy</text>
<text transform="translate(1239.0,3247.0) scale(1.0000,1)" font-size="106" font-family='"Liberation Serif", "Times New Roman", serif' font-weight="bold" fill="#000" style="font-kerning:none;letter-spacing:0.00px;white-space:pre">/</text>
<text transform="translate(1294.9,3247.0) scale(0.9300,1)" font-size="106" font-family='"Liberation Serif", "Times New Roman", serif' font-weight="bold" fill="#000" style="font-kerning:none;letter-spacing:-0.50px;white-space:pre">eV</text>
<text transform="translate(153.2,2736.9) rotate(-90) scale(0.9200,1)" font-size="114" font-family='"Liberation Serif", "Times New Roman", serif' font-weight="bold" fill="#000" style="font-kerning:none;letter-spacing:4.28px;white-space:pre">Intensity / a.u.</text>
<text transform="translate(313.2,1843.0) scale(1.0000,1)" font-size="78" font-family='"Liberation Serif", "Times New Roman", serif' font-weight="bold" fill="#000" style="font-kerning:none;letter-spacing:0.00px;white-space:pre">B</text>
<text transform="translate(511.1,1894.0) scale(0.8800,1)" font-size="74" font-family='"Liberation Sans", Arial, sans-serif' font-weight="normal" fill="#000" style="font-kerning:none;letter-spacing:-7.80px;white-space:pre" stroke="#000" stroke-width="3.2" stroke-linejoin="round">Ce</text>
<text transform="translate(600.9,1894.0) scale(0.8800,1)" font-size="74" font-family='"Liberation Sans", Arial, sans-serif' font-weight="normal" fill="#000" style="font-kerning:none;letter-spacing:0.49px;white-space:pre" stroke="#000" stroke-width="3.2" stroke-linejoin="round">3d</text>
<text transform="translate(668.8,1919.5) scale(1.0000,1)" font-size="42" font-family='"Liberation Sans", Arial, sans-serif' font-weight="normal" fill="#000" style="font-kerning:none;letter-spacing:-3.84px;white-space:pre" stroke="#000" stroke-width="2" stroke-linejoin="round">3/2</text>
<text transform="translate(971.7,1809.0) scale(0.8800,1)" font-size="74" font-family='"Liberation Sans", Arial, sans-serif' font-weight="normal" fill="#000" style="font-kerning:none;letter-spacing:-7.80px;white-space:pre" stroke="#000" stroke-width="3.2" stroke-linejoin="round">Ce</text>
<text transform="translate(1060.9,1809.0) scale(0.8800,1)" font-size="74" font-family='"Liberation Sans", Arial, sans-serif' font-weight="normal" fill="#000" style="font-kerning:none;letter-spacing:0.49px;white-space:pre" stroke="#000" stroke-width="3.2" stroke-linejoin="round">3d</text>
<text transform="translate(1129.8,1833.5) scale(1.0000,1)" font-size="42" font-family='"Liberation Sans", Arial, sans-serif' font-weight="normal" fill="#000" style="font-kerning:none;letter-spacing:-3.80px;white-space:pre" stroke="#000" stroke-width="2" stroke-linejoin="round">5/2</text>
<text transform="translate(380.2,1836.0) scale(1.0000,1)" font-size="61" font-family='"Liberation Sans", Arial, sans-serif' font-weight="bold" fill="#000" style="font-kerning:none;letter-spacing:-6.00px;white-space:pre" stroke="#000" stroke-width="1.5" stroke-linejoin="round">881.6</text>
<text transform="translate(539.2,2125.0) scale(1.0000,1)" font-size="61" font-family='"Liberation Sans", Arial, sans-serif' font-weight="bold" fill="#000" style="font-kerning:none;letter-spacing:-7.18px;white-space:pre" stroke="#000" stroke-width="1.5" stroke-linejoin="round">888.0</text>
<text transform="translate(735.3,1776.0) scale(1.0000,1)" font-size="61" font-family='"Liberation Sans", Arial, sans-serif' font-weight="bold" fill="#000" style="font-kerning:none;letter-spacing:-7.25px;white-space:pre" stroke="#000" stroke-width="1.5" stroke-linejoin="round">897.3</text>
<text transform="translate(842.3,1847.0) scale(1.0000,1)" font-size="61" font-family='"Liberation Sans", Arial, sans-serif' font-weight="bold" fill="#000" style="font-kerning:none;letter-spacing:-8.24px;white-space:pre" stroke="#000" stroke-width="1.5" stroke-linejoin="round">899.9</text>
<text transform="translate(975.6,2015.0) scale(1.0000,1)" font-size="61" font-family='"Liberation Sans", Arial, sans-serif' font-weight="bold" fill="#000" style="font-kerning:none;letter-spacing:-7.40px;white-space:pre" stroke="#000" stroke-width="1.5" stroke-linejoin="round">906.2</text>
<text transform="translate(1213.6,1793.5) scale(1.0000,1)" font-size="61" font-family='"Liberation Sans", Arial, sans-serif' font-weight="bold" fill="#000" style="font-kerning:none;letter-spacing:-8.09px;white-space:pre" stroke="#000" stroke-width="1.5" stroke-linejoin="round">915.7</text>
<text transform="translate(358.8,2689.0) scale(1.0000,1)" font-size="61" font-family='"Liberation Sans", Arial, sans-serif' font-weight="bold" fill="#000" style="font-kerning:none;letter-spacing:-6.02px;white-space:pre" stroke="#000" stroke-width="1.5" stroke-linejoin="round">881.2</text>
<text transform="translate(550.6,2777.0) scale(1.0000,1)" font-size="61" font-family='"Liberation Sans", Arial, sans-serif' font-weight="bold" fill="#000" style="font-kerning:none;letter-spacing:-6.21px;white-space:pre" stroke="#000" stroke-width="1.5" stroke-linejoin="round">887.8</text>
<text transform="translate(725.5,2628.0) scale(1.0000,1)" font-size="61" font-family='"Liberation Sans", Arial, sans-serif' font-weight="bold" fill="#000" style="font-kerning:none;letter-spacing:-8.38px;white-space:pre" stroke="#000" stroke-width="1.5" stroke-linejoin="round">897.1</text>
<text transform="translate(855.7,2651.5) scale(1.0000,1)" font-size="61" font-family='"Liberation Sans", Arial, sans-serif' font-weight="bold" fill="#000" style="font-kerning:none;letter-spacing:-7.58px;white-space:pre" stroke="#000" stroke-width="1.5" stroke-linejoin="round">899.8</text>
<text transform="translate(975.6,2739.0) scale(1.0000,1)" font-size="61" font-family='"Liberation Sans", Arial, sans-serif' font-weight="bold" fill="#000" style="font-kerning:none;letter-spacing:-7.07px;white-space:pre" stroke="#000" stroke-width="1.5" stroke-linejoin="round">905.9</text>
<text transform="translate(1179.6,2603.5) scale(1.0000,1)" font-size="61" font-family='"Liberation Sans", Arial, sans-serif' font-weight="bold" fill="#000" style="font-kerning:none;letter-spacing:-7.46px;white-space:pre" stroke="#000" stroke-width="1.5" stroke-linejoin="round">915.3</text>
<text transform="translate(1438.0,1986.0) scale(1.0000,1)" font-size="87" font-family='"Liberation Sans", Arial, sans-serif' font-weight="bold" fill="#000" style="font-kerning:none;letter-spacing:0.00px;white-space:pre">c</text>
<text transform="translate(1437.9,2625.5) scale(1.0000,1)" font-size="85" font-family='"Liberation Sans", Arial, sans-serif' font-weight="bold" fill="#000" style="font-kerning:none;letter-spacing:0.00px;white-space:pre">d</text>
<line x1="166.0" y1="3379" x2="1682.5" y2="3379" stroke="#000" stroke-width="9.8"/>
<line x1="166.0" y1="4700.5" x2="1682.5" y2="4700.5" stroke="#000" stroke-width="9.8"/>
<line x1="170.5" y1="3379" x2="170.5" y2="4700.5" stroke="#000" stroke-width="9"/>
<line x1="1678" y1="3379" x2="1678" y2="4700.5" stroke="#000" stroke-width="9"/>
<line x1="203.4" y1="4700" x2="203.4" y2="4686" stroke="#000" stroke-width="7.5" stroke-linecap="round"/>
<line x1="367.2" y1="4700" x2="367.2" y2="4673" stroke="#000" stroke-width="7.5" stroke-linecap="round"/>
<line x1="531.1" y1="4700" x2="531.1" y2="4686" stroke="#000" stroke-width="7.5" stroke-linecap="round"/>
<line x1="695.0" y1="4700" x2="695.0" y2="4673" stroke="#000" stroke-width="7.5" stroke-linecap="round"/>
<line x1="858.9" y1="4700" x2="858.9" y2="4686" stroke="#000" stroke-width="7.5" stroke-linecap="round"/>
<line x1="1022.8" y1="4700" x2="1022.8" y2="4673" stroke="#000" stroke-width="7.5" stroke-linecap="round"/>
<line x1="1186.6" y1="4700" x2="1186.6" y2="4686" stroke="#000" stroke-width="7.5" stroke-linecap="round"/>
<line x1="1350.5" y1="4700" x2="1350.5" y2="4673" stroke="#000" stroke-width="7.5" stroke-linecap="round"/>
<line x1="1514.4" y1="4700" x2="1514.4" y2="4686" stroke="#000" stroke-width="7.5" stroke-linecap="round"/>
<line x1="1678.2" y1="4700" x2="1678.2" y2="4673" stroke="#000" stroke-width="7.5" stroke-linecap="round"/>
<line x1="554" y1="3627" x2="570" y2="3561" stroke="#000" stroke-width="9" stroke-linecap="round"/>
<polygon points="581.5,3514 583.5,3566 556,3559.5" fill="#000" stroke="#000" stroke-width="2" stroke-linejoin="round"/>
<path transform="scale(1,1.16)" d="M214.7,3251.3 L216.7,3251.2 L218.7,3251.8 L220.7,3250.6 L222.7,3251.6 L224.7,3250.3 L226.7,3251.1 L228.7,3251.1 L230.7,3251.7 L232.7,3251.1 L234.7,3250.8 L236.7,3251.8 L238.7,3251.9 L240.7,3250.7 L242.7,3251.4 L244.7,3250.8 L246.7,3251.1 L248.7,3251.2 L250.7,3250.3 L252.7,3251.0 L254.7,3250.4 L256.7,3250.5 L258.7,3250.7 L260.7,3249.9 L262.7,3250.2 L264.7,3251.0 L266.7,3251.2 L268.7,3251.3 L270.7,3250.6 L272.7,3251.2 L274.7,3251.6 L276.7,3251.4 L278.7,3250.1 L280.7,3249.9 L282.7,3251.0 L284.7,3251.4 L286.7,3250.7 L288.7,3251.2 L290.7,3250.8 L292.7,3250.8 L294.7,3250.8 L296.7,3250.8 L298.7,3250.4 L300.7,3251.6 L302.7,3251.1 L304.7,3250.3 L306.7,3250.5 L308.7,3250.1 L310.7,3250.8 L312.7,3249.8 L314.7,3250.4 L316.7,3250.9 L318.7,3250.8 L320.7,3250.8 L322.7,3249.9 L324.7,3250.9 L326.7,3250.4 L328.7,3251.2 L330.7,3250.3 L332.7,3251.3 L334.7,3250.7 L336.7,3250.8 L338.7,3250.2 L340.7,3250.2 L342.7,3250.2 L344.7,3250.9 L346.7,3250.2 L348.7,3250.3 L350.7,3251.0 L352.7,3250.6 L354.7,3250.2 L356.7,3250.5 L358.7,3249.6 L360.7,3249.5 L362.7,3250.5 L364.7,3251.7 L366.7,3251.3 L368.7,3251.6 L370.7,3250.5 L372.7,3250.0 L374.7,3250.8 L376.7,3249.6 L378.7,3248.7 L380.7,3250.4 L382.7,3250.7 L384.7,3250.5 L386.7,3250.9 L388.7,3250.5 L390.7,3250.2 L392.7,3249.5 L394.7,3249.9 L396.7,3249.3 L398.7,3249.7 L400.7,3250.8 L402.7,3249.8 L404.7,3249.8 L406.7,3249.1 L408.7,3250.7 L410.7,3248.2 L412.7,3248.6 L414.7,3249.4 L416.7,3248.4 L418.7,3248.2 L420.7,3248.7 L422.7,3248.6 L424.7,3248.4 L426.7,3247.4 L428.7,3248.0 L430.7,3246.7 L432.7,3246.6 L434.7,3246.3 L436.7,3246.7 L438.7,3246.1 L440.7,3245.5 L442.7,3245.7 L444.7,3244.7 L446.7,3244.5 L448.7,3244.1 L450.7,3243.4 L452.7,3242.5 L454.7,3241.7 L456.7,3242.1 L458.7,3239.7 L460.7,3240.1 L462.7,3238.6 L464.7,3237.7 L466.7,3236.1 L468.7,3235.9 L470.7,3234.4 L472.7,3233.7 L474.7,3231.2 L476.7,3229.2 L478.7,3227.2 L480.7,3226.2 L482.7,3223.8 L484.7,3221.1 L486.7,3219.8 L488.7,3216.5 L490.7,3213.4 L492.7,3210.7 L494.7,3206.5 L496.7,3203.6 L498.7,3199.2 L500.7,3196.3 L502.7,3192.5 L504.7,3188.2 L506.7,3184.6 L508.7,3179.2 L510.7,3175.1 L512.7,3170.0 L514.7,3164.7 L516.7,3161.0 L518.7,3157.1 L520.7,3153.8 L522.7,3148.3 L524.7,3144.6 L526.7,3141.5 L528.7,3136.4 L530.7,3134.2 L532.7,3129.3 L534.7,3126.5 L536.7,3124.4 L538.7,3122.0 L540.7,3120.5 L542.7,3117.4 L544.7,3116.2 L546.7,3114.7 L548.7,3113.7 L550.7,3112.8 L552.7,3112.1 L554.7,3111.4 L556.7,3111.5 L558.7,3111.7 L560.7,3111.4 L562.7,3111.9 L564.7,3113.9 L566.7,3114.5 L568.7,3116.7 L570.7,3119.3 L572.7,3121.4 L574.7,3124.0 L576.7,3127.1 L578.7,3131.0 L580.7,3135.3 L582.7,3137.1 L584.7,3141.2 L586.7,3144.9 L588.7,3147.4 L590.7,3149.7 L592.7,3152.9 L594.7,3155.8 L596.7,3158.7 L598.7,3159.9 L600.7,3162.6 L602.7,3165.3 L604.7,3167.2 L606.7,3169.0 L608.7,3170.9 L610.7,3172.8 L612.7,3174.2 L614.7,3176.7 L616.7,3176.3 L618.7,3177.4 L620.7,3177.5 L622.7,3179.0 L624.7,3179.2 L626.7,3179.4 L628.7,3179.3 L630.7,3181.2 L632.7,3180.7 L634.7,3181.1 L636.7,3180.1 L638.7,3181.1 L640.7,3181.3 L642.7,3182.0 L644.7,3181.5 L646.7,3181.8 L648.7,3180.4 L650.7,3181.2 L652.7,3181.4 L654.7,3181.4 L656.7,3181.4 L658.7,3181.6 L660.7,3182.7 L662.7,3182.1 L664.7,3183.0 L666.7,3183.4 L668.7,3183.2 L670.7,3183.9 L672.7,3183.1 L674.7,3184.5 L676.7,3185.8 L678.7,3185.4 L680.7,3185.2 L682.7,3187.3 L684.7,3186.6 L686.7,3188.4 L688.7,3188.1 L690.7,3187.9 L692.7,3188.6 L694.7,3190.2 L696.7,3189.8 L698.7,3190.0 L700.7,3190.5 L702.7,3190.7 L704.7,3190.8 L706.7,3191.8 L708.7,3192.6 L710.7,3192.2 L712.7,3193.3 L714.7,3193.4 L716.7,3192.4 L718.7,3193.8 L720.7,3194.5 L722.7,3193.1 L724.7,3194.1 L726.7,3194.9 L728.7,3194.5 L730.7,3195.3 L732.7,3195.3 L734.7,3195.3 L736.7,3195.9 L738.7,3196.0 L740.7,3196.4 L742.7,3196.5 L744.7,3196.4 L746.7,3196.5 L748.7,3196.8 L750.7,3197.5 L752.7,3196.9 L754.7,3198.3 L756.7,3197.4 L758.7,3199.0 L760.7,3198.1 L762.7,3198.2 L764.7,3198.5 L766.7,3199.3 L768.7,3199.4 L770.7,3199.2 L772.7,3200.2 L774.7,3200.8 L776.7,3201.1 L778.7,3202.2 L780.7,3200.8 L782.7,3202.5 L784.7,3202.9 L786.7,3204.0 L788.7,3205.4 L790.7,3204.3 L792.7,3205.3 L794.7,3206.3 L796.7,3207.5 L798.7,3208.3 L800.7,3208.0 L802.7,3209.6 L804.7,3210.0 L806.7,3211.4 L808.7,3211.8 L810.7,3213.0 L812.7,3213.8 L814.7,3214.3 L816.7,3215.3 L818.7,3217.0 L820.7,3217.4 L822.7,3218.3 L824.7,3219.6 L826.7,3220.9 L828.7,3221.8 L830.7,3221.9 L832.7,3222.9 L834.7,3224.0 L836.7,3224.0 L838.7,3225.5 L840.7,3225.7 L842.7,3225.7 L844.7,3227.2 L846.7,3227.3 L848.7,3228.8 L850.7,3228.5 L852.7,3229.9 L854.7,3230.8 L856.7,3230.4 L858.7,3230.8 L860.7,3230.7 L862.7,3231.4 L864.7,3232.0 L866.7,3232.9 L868.7,3232.8 L870.7,3231.9 L872.7,3233.2 L874.7,3232.4 L876.7,3233.9 L878.7,3233.7 L880.7,3233.5 L882.7,3232.8 L884.7,3233.9 L886.7,3233.4 L888.7,3233.5 L890.7,3233.9 L892.7,3233.2 L894.7,3234.2 L896.7,3234.5 L898.7,3234.9 L900.7,3234.2 L902.7,3234.4 L904.7,3235.4 L906.7,3235.5 L908.7,3234.1 L910.7,3235.3 L912.7,3235.6 L914.7,3234.8 L916.7,3235.8 L918.7,3235.2 L920.7,3235.3 L922.7,3234.9 L924.7,3236.3 L926.7,3235.2 L928.7,3234.1 L930.7,3235.1 L932.7,3235.5 L934.7,3235.2 L936.7,3236.8 L938.7,3235.6 L940.7,3235.9 L942.7,3236.2 L944.7,3236.6 L946.7,3235.6 L948.7,3235.4 L950.7,3235.9 L952.7,3236.8 L954.7,3236.4 L956.7,3237.0 L958.7,3236.3 L960.7,3237.3 L962.7,3237.0 L964.7,3237.0 L966.7,3237.3 L968.7,3237.3 L970.7,3237.3 L972.7,3236.5 L974.7,3237.5 L976.7,3237.3 L978.7,3237.7 L980.7,3237.7 L982.7,3237.4 L984.7,3237.9 L986.7,3238.5 L988.7,3238.1 L990.7,3237.9 L992.7,3238.0 L994.7,3238.6 L996.7,3237.8 L998.7,3238.2 L1000.7,3238.1 L1002.7,3237.6 L1004.7,3238.8 L1006.7,3238.9 L1008.7,3238.4 L1010.7,3238.5 L1012.7,3239.0 L1014.7,3239.6 L1016.7,3238.7 L1018.7,3239.8 L1020.7,3239.6 L1022.7,3238.0 L1024.7,3239.0 L1026.7,3239.3 L1028.7,3239.0 L1030.7,3239.7 L1032.7,3239.4 L1034.7,3239.5 L1036.7,3239.2 L1038.7,3238.5 L1040.7,3239.6 L1042.7,3238.9 L1044.7,3239.9 L1046.7,3239.7 L1048.7,3241.1 L1050.7,3239.9 L1052.7,3238.8 L1054.7,3240.9 L1056.7,3240.1 L1058.7,3240.5 L1060.7,3240.7 L1062.7,3239.5 L1064.7,3239.5 L1066.7,3240.5 L1068.7,3239.6 L1070.7,3239.2 L1072.7,3239.9 L1074.7,3240.1 L1076.7,3240.6 L1078.7,3240.1 L1080.7,3240.0 L1082.7,3240.6 L1084.7,3240.5 L1086.7,3240.8 L1088.7,3239.8 L1090.7,3241.5 L1092.7,3239.9 L1094.7,3241.1 L1096.7,3241.0 L1098.7,3240.1 L1100.7,3240.5 L1102.7,3240.3 L1104.7,3240.9 L1106.7,3241.0 L1108.7,3240.5 L1110.7,3240.7 L1112.7,3240.2 L1114.7,3240.9 L1116.7,3240.9 L1118.7,3240.4 L1120.7,3240.0 L1122.7,3241.1 L1124.7,3240.1 L1126.7,3240.3 L1128.7,3240.2 L1130.7,3240.7 L1132.7,3240.5 L1134.7,3239.9 L1136.7,3240.3 L1138.7,3240.2 L1140.7,3241.0 L1142.7,3241.8 L1144.7,3241.4 L1146.7,3241.4 L1148.7,3241.4 L1150.7,3240.3 L1152.7,3240.4 L1154.7,3240.0 L1156.7,3241.1 L1158.7,3240.7 L1160.7,3240.1 L1162.7,3240.8 L1164.7,3240.6 L1166.7,3241.1 L1168.7,3240.5 L1170.7,3240.3 L1172.7,3240.6 L1174.7,3240.5 L1176.7,3241.0 L1178.7,3240.4 L1180.7,3240.3 L1182.7,3240.6 L1184.7,3239.9 L1186.7,3240.3 L1188.7,3240.9 L1190.7,3240.1 L1192.7,3241.1 L1194.7,3240.2 L1196.7,3240.4 L1198.7,3240.8 L1200.7,3240.6 L1202.7,3239.9 L1204.7,3239.7 L1206.7,3240.6 L1208.7,3240.0 L1210.7,3240.4 L1212.7,3240.8 L1214.7,3240.4 L1216.7,3240.2 L1218.7,3239.9 L1220.7,3240.6 L1222.7,3241.7 L1224.7,3240.0 L1226.7,3239.8 L1228.7,3240.3 L1230.7,3241.1 L1232.7,3240.4 L1234.7,3240.5 L1236.7,3240.5 L1238.7,3240.6 L1240.7,3240.0 L1242.7,3239.8 L1244.7,3240.4 L1246.7,3241.4 L1248.7,3239.5 L1250.7,3240.2 L1252.7,3240.1 L1254.7,3240.0 L1256.7,3240.3 L1258.7,3239.8 L1260.7,3240.5 L1262.7,3239.6 L1264.7,3239.2 L1266.7,3239.8 L1268.7,3240.1 L1270.7,3241.2 L1272.7,3239.6 L1274.7,3240.5 L1276.7,3238.7 L1278.7,3239.9 L1280.7,3240.1 L1282.7,3239.3 L1284.7,3239.7 L1286.7,3239.0 L1288.7,3238.8 L1290.7,3238.9 L1292.7,3239.3 L1294.7,3237.9 L1296.7,3239.5 L1298.7,3238.6 L1300.7,3238.4 L1302.7,3239.2 L1304.7,3238.6 L1306.7,3239.8 L1308.7,3237.8 L1310.7,3238.3 L1312.7,3238.1 L1314.7,3238.9 L1316.7,3237.8 L1318.7,3237.4 L1320.7,3236.8 L1322.7,3237.2 L1324.7,3238.0 L1326.7,3237.5 L1328.7,3238.4 L1330.7,3236.9 L1332.7,3237.6 L1334.7,3236.9 L1336.7,3237.5 L1338.7,3237.1 L1340.7,3237.2 L1342.7,3236.4 L1344.7,3237.8 L1346.7,3236.9 L1348.7,3236.9 L1350.7,3236.8 L1352.7,3236.8 L1354.7,3237.6 L1356.7,3237.5 L1358.7,3237.0 L1360.7,3236.3 L1362.7,3236.8 L1364.7,3236.5 L1366.7,3235.5 L1368.7,3236.2 L1370.7,3236.6 L1372.7,3236.1 L1374.7,3236.2 L1376.7,3236.9 L1378.7,3236.9 L1380.7,3235.3 L1382.7,3236.4 L1384.7,3236.3 L1386.7,3236.3 L1388.7,3235.8 L1390.7,3236.2 L1392.7,3234.9 L1394.7,3235.8 L1396.7,3236.3 L1398.7,3235.2 L1400.7,3235.6 L1402.7,3235.4 L1404.7,3235.8 L1406.7,3236.3 L1408.7,3235.4 L1410.7,3236.7 L1412.7,3235.3 L1414.7,3236.0 L1416.7,3235.8 L1418.7,3234.9 L1420.7,3235.0 L1422.7,3235.5 L1424.7,3234.8 L1426.7,3234.6 L1428.7,3235.2 L1430.7,3234.5 L1432.7,3235.2 L1434.7,3235.0 L1436.7,3235.4 L1438.7,3235.7 L1440.7,3234.2 L1442.7,3234.9 L1444.7,3235.4 L1446.7,3236.4 L1448.7,3235.0 L1450.7,3235.0 L1452.7,3234.6 L1454.7,3236.1 L1456.7,3234.6 L1458.7,3235.1 L1460.7,3235.2 L1462.7,3234.1 L1464.7,3234.0 L1466.7,3234.0 L1468.7,3234.6 L1470.7,3235.0 L1472.7,3234.2 L1474.7,3235.5 L1476.7,3234.2 L1478.7,3234.7 L1480.7,3234.4 L1482.7,3233.9 L1484.7,3234.3 L1486.7,3234.4 L1488.7,3233.7 L1490.7,3234.4 L1492.7,3233.9 L1494.7,3234.9 L1496.7,3233.8 L1498.7,3233.8 L1500.7,3233.9 L1502.7,3234.5 L1504.7,3235.0 L1506.7,3233.7 L1508.7,3234.7 L1510.7,3234.7 L1512.7,3234.2 L1514.7,3234.7 L1516.7,3234.7 L1518.7,3234.2 L1520.7,3233.4 L1522.7,3234.5 L1524.7,3234.3 L1526.7,3234.6 L1528.7,3234.9 L1530.7,3235.7 L1532.7,3234.5 L1534.7,3235.3 L1536.7,3235.0 L1538.7,3234.6 L1540.7,3234.5 L1542.7,3234.3 L1544.7,3234.0 L1546.7,3235.4 L1548.7,3235.5 L1550.7,3234.9 L1552.7,3235.8 L1554.7,3235.5 L1556.7,3235.5 L1558.7,3235.1 L1560.7,3235.3 L1562.7,3236.1 L1564.7,3236.0 L1566.7,3235.8 L1568.7,3236.4 L1570.7,3236.3 L1572.7,3235.4 L1574.7,3236.9 L1576.7,3236.2 L1578.7,3237.4 L1580.7,3236.0 L1582.7,3235.4 L1584.7,3236.9 L1586.7,3237.5 L1588.7,3236.5 L1590.7,3236.8 L1592.7,3237.9 L1594.7,3237.3 L1596.7,3237.3 L1598.7,3236.7 L1600.7,3236.6 L1602.7,3236.3 L1604.7,3236.5 L1606.7,3237.0 L1608.7,3237.3 L1610.7,3238.1 L1612.7,3237.9 L1614.7,3237.3 L1616.7,3237.3 L1618.7,3237.4 L1620.7,3237.2 L1622.7,3238.1 L1624.7,3236.9 L1626.7,3237.1 L1628.7,3236.6 L1630.7,3236.6 L1632.7,3237.6 L1634.7,3237.9 L1636.7,3237.8 L1638.7,3237.9 L1640.7,3236.9 L1642.7,3238.4 L1644.7,3237.7 L1646.7,3237.3 L1648.7,3237.5 L1650.7,3237.0 L1652.7,3237.1 L1654.7,3237.6 L1656.7,3237.3 L1658.7,3237.6" fill="none" stroke="#0000ff" stroke-width="9.8" stroke-linejoin="round" stroke-linecap="round"/>
<path transform="scale(1,1.16)" d="M280.0,3485.6 L282.0,3484.9 L284.0,3486.2 L286.0,3485.6 L288.0,3485.4 L290.0,3485.2 L292.0,3486.2 L294.0,3485.1 L296.0,3486.0 L298.0,3485.4 L300.0,3485.7 L302.0,3485.6 L304.0,3486.0 L306.0,3486.1 L308.0,3485.1 L310.0,3486.2 L312.0,3486.1 L314.0,3486.2 L316.0,3486.5 L318.0,3484.9 L320.0,3486.7 L322.0,3484.9 L324.0,3485.4 L326.0,3485.9 L328.0,3486.2 L330.0,3486.0 L332.0,3485.9 L334.0,3486.0 L336.0,3485.1 L338.0,3485.7 L340.0,3487.0 L342.0,3484.4 L344.0,3485.6 L346.0,3485.6 L348.0,3485.2 L350.0,3485.6 L352.0,3485.7 L354.0,3485.6 L356.0,3485.6 L358.0,3485.1 L360.0,3486.0 L362.0,3485.4 L364.0,3485.1 L366.0,3486.8 L368.0,3485.4 L370.0,3485.4 L372.0,3484.7 L374.0,3485.9 L376.0,3485.1 L378.0,3485.3 L380.0,3486.1 L382.0,3486.0 L384.0,3485.3 L386.0,3486.0 L388.0,3485.9 L390.0,3485.6 L392.0,3485.2 L394.0,3485.9 L396.0,3484.9 L398.0,3485.9 L400.0,3485.7 L402.0,3485.1 L404.0,3485.1 L406.0,3487.0 L408.0,3484.6 L410.0,3485.7 L412.0,3485.5 L414.0,3485.9 L416.0,3485.9 L418.0,3486.2 L420.0,3486.1 L422.0,3485.7 L424.0,3485.0 L426.0,3485.5 L428.0,3486.0 L430.0,3486.0 L432.0,3486.3 L434.0,3485.5 L436.0,3485.0 L438.0,3485.2 L440.0,3485.6 L442.0,3485.9 L444.0,3485.8 L446.0,3485.6 L448.0,3484.5 L450.0,3484.8 L452.0,3485.2 L454.0,3484.9 L456.0,3485.1 L458.0,3483.9 L460.0,3484.7 L462.0,3482.8 L464.0,3483.8 L466.0,3484.0 L468.0,3483.6 L470.0,3484.1 L472.0,3483.3 L474.0,3483.3 L476.0,3483.5 L478.0,3482.5 L480.0,3483.5 L482.0,3482.2 L484.0,3482.7 L486.0,3482.3 L488.0,3481.7 L490.0,3481.7 L492.0,3481.5 L494.0,3480.8 L496.0,3481.9 L498.0,3479.9 L500.0,3480.0 L502.0,3480.2 L504.0,3479.5 L506.0,3479.3 L508.0,3477.5 L510.0,3477.7 L512.0,3477.3 L514.0,3477.4 L516.0,3475.7 L518.0,3475.3 L520.0,3475.5 L522.0,3473.7 L524.0,3472.7 L526.0,3471.2 L528.0,3470.6 L530.0,3467.6 L532.0,3466.7 L534.0,3465.2 L536.0,3463.8 L538.0,3461.5 L540.0,3457.9 L542.0,3456.2 L544.0,3452.7 L546.0,3451.4 L548.0,3446.4 L550.0,3443.4 L552.0,3438.4 L554.0,3434.1 L556.0,3428.9 L558.0,3424.6 L560.0,3418.9 L562.0,3410.9 L564.0,3404.5 L566.0,3397.0 L568.0,3389.5 L570.0,3380.9 L572.0,3374.4 L574.0,3365.1 L576.0,3357.7 L578.0,3349.3 L580.0,3341.6 L582.0,3334.9 L584.0,3327.9 L586.0,3322.9 L588.0,3315.2 L590.0,3309.0 L592.0,3304.5 L594.0,3299.2 L596.0,3294.7 L598.0,3292.3 L600.0,3289.4 L602.0,3285.1 L604.0,3283.2 L606.0,3281.9 L608.0,3279.1 L610.0,3278.9 L612.0,3276.8 L614.0,3276.0 L616.0,3274.9 L618.0,3273.5 L620.0,3273.5 L622.0,3273.0 L624.0,3273.5 L626.0,3275.2 L628.0,3276.4 L630.0,3277.7 L632.0,3280.0 L634.0,3282.8 L636.0,3284.7 L638.0,3288.3 L640.0,3293.3 L642.0,3297.6 L644.0,3302.4 L646.0,3309.0 L648.0,3312.2 L650.0,3317.8 L652.0,3323.1 L654.0,3327.9 L656.0,3334.2 L658.0,3339.4 L660.0,3343.5 L662.0,3347.2 L664.0,3353.2 L666.0,3357.0 L668.0,3363.0 L670.0,3367.6 L672.0,3371.1 L674.0,3374.6 L676.0,3376.5 L678.0,3378.2 L680.0,3380.6 L682.0,3383.3 L684.0,3383.4 L686.0,3386.3 L688.0,3386.9 L690.0,3390.1 L692.0,3389.3 L694.0,3389.9 L696.0,3392.5 L698.0,3393.3 L700.0,3393.2 L702.0,3394.2 L704.0,3394.2 L706.0,3395.4 L708.0,3396.5 L710.0,3396.8 L712.0,3397.1 L714.0,3397.4 L716.0,3398.9 L718.0,3399.8 L720.0,3400.3 L722.0,3399.5 L724.0,3400.9 L726.0,3401.0 L728.0,3402.0 L730.0,3403.0 L732.0,3404.9 L734.0,3404.3 L736.0,3404.8 L738.0,3405.1 L740.0,3406.4 L742.0,3405.9 L744.0,3407.8 L746.0,3408.5 L748.0,3408.2 L750.0,3410.2 L752.0,3411.2 L754.0,3410.3 L756.0,3411.8 L758.0,3411.8 L760.0,3412.3 L762.0,3413.8 L764.0,3414.2 L766.0,3413.9 L768.0,3414.5 L770.0,3416.0 L772.0,3415.8 L774.0,3416.5 L776.0,3417.6 L778.0,3418.1 L780.0,3419.2 L782.0,3420.7 L784.0,3419.5 L786.0,3421.6 L788.0,3420.7 L790.0,3422.0 L792.0,3423.2 L794.0,3424.5 L796.0,3422.9 L798.0,3425.3 L800.0,3425.0 L802.0,3425.8 L804.0,3426.6 L806.0,3428.0 L808.0,3428.9 L810.0,3428.4 L812.0,3428.5 L814.0,3429.1 L816.0,3428.9 L818.0,3429.9 L820.0,3432.0 L822.0,3431.1 L824.0,3432.0 L826.0,3433.0 L828.0,3433.6 L830.0,3434.2 L832.0,3434.8 L834.0,3435.6 L836.0,3437.4 L838.0,3437.7 L840.0,3438.0 L842.0,3438.2 L844.0,3439.3 L846.0,3440.1 L848.0,3440.1 L850.0,3440.6 L852.0,3442.1 L854.0,3442.2 L856.0,3442.9 L858.0,3443.9 L860.0,3444.6 L862.0,3444.8 L864.0,3446.8 L866.0,3446.8 L868.0,3447.2 L870.0,3448.4 L872.0,3449.5 L874.0,3449.5 L876.0,3448.9 L878.0,3450.3 L880.0,3451.7 L882.0,3452.6 L884.0,3454.0 L886.0,3454.2 L888.0,3454.5 L890.0,3455.8 L892.0,3455.8 L894.0,3457.3 L896.0,3456.6 L898.0,3458.9 L900.0,3458.6 L902.0,3459.7 L904.0,3459.7 L906.0,3459.6 L908.0,3460.8 L910.0,3461.6 L912.0,3462.2 L914.0,3462.7 L916.0,3463.4 L918.0,3463.4 L920.0,3463.3 L922.0,3464.5 L924.0,3464.4 L926.0,3465.5 L928.0,3465.8 L930.0,3466.3 L932.0,3466.3 L934.0,3467.2 L936.0,3467.4 L938.0,3467.7 L940.0,3467.8 L942.0,3468.2 L944.0,3468.5 L946.0,3468.3 L948.0,3467.2 L950.0,3468.2 L952.0,3469.6 L954.0,3467.8 L956.0,3469.1 L958.0,3468.9 L960.0,3470.1 L962.0,3469.7 L964.0,3469.4 L966.0,3469.7 L968.0,3468.8 L970.0,3470.9 L972.0,3470.3 L974.0,3469.5 L976.0,3469.7 L978.0,3470.4 L980.0,3469.8 L982.0,3469.8 L984.0,3470.8 L986.0,3470.3 L988.0,3470.7 L990.0,3471.0 L992.0,3470.1 L994.0,3471.5 L996.0,3471.2 L998.0,3470.2 L1000.0,3470.1 L1002.0,3470.9 L1004.0,3471.1 L1006.0,3470.6 L1008.0,3470.9 L1010.0,3470.9 L1012.0,3470.9 L1014.0,3471.3 L1016.0,3472.0 L1018.0,3472.2 L1020.0,3470.8 L1022.0,3471.2 L1024.0,3471.0 L1026.0,3471.3 L1028.0,3471.1 L1030.0,3472.1 L1032.0,3471.9 L1034.0,3471.1 L1036.0,3472.2 L1038.0,3471.1 L1040.0,3471.6 L1042.0,3471.9 L1044.0,3471.4 L1046.0,3471.2 L1048.0,3471.8 L1050.0,3472.1 L1052.0,3471.6 L1054.0,3472.6 L1056.0,3472.1 L1058.0,3471.4 L1060.0,3472.1 L1062.0,3471.6 L1064.0,3472.0 L1066.0,3472.1 L1068.0,3472.1 L1070.0,3472.7 L1072.0,3472.0 L1074.0,3472.1 L1076.0,3471.7 L1078.0,3471.1 L1080.0,3471.6 L1082.0,3472.0 L1084.0,3470.6 L1086.0,3472.1 L1088.0,3472.2 L1090.0,3472.6 L1092.0,3472.2 L1094.0,3472.6 L1096.0,3472.0 L1098.0,3471.8 L1100.0,3472.3 L1102.0,3471.5 L1104.0,3472.8 L1106.0,3471.5 L1108.0,3472.8 L1110.0,3471.8 L1112.0,3471.9 L1114.0,3471.6 L1116.0,3472.0 L1118.0,3472.2 L1120.0,3471.4 L1122.0,3471.3 L1124.0,3472.2 L1126.0,3471.4 L1128.0,3472.6 L1130.0,3472.9 L1132.0,3472.0 L1134.0,3474.0 L1136.0,3472.3 L1138.0,3471.7 L1140.0,3473.3 L1142.0,3472.6 L1144.0,3472.1 L1146.0,3472.3 L1148.0,3473.1 L1150.0,3473.2 L1152.0,3472.4 L1154.0,3471.8 L1156.0,3472.1 L1158.0,3472.8 L1160.0,3472.4 L1162.0,3472.6 L1164.0,3472.6 L1166.0,3473.2 L1168.0,3472.2 L1170.0,3472.3 L1172.0,3471.3 L1174.0,3472.3 L1176.0,3471.5 L1178.0,3472.0 L1180.0,3472.4 L1182.0,3472.0 L1184.0,3472.2 L1186.0,3471.1 L1188.0,3472.0 L1190.0,3472.3 L1192.0,3472.2 L1194.0,3472.4 L1196.0,3471.8 L1198.0,3472.5 L1200.0,3471.8 L1202.0,3471.9 L1204.0,3472.5 L1206.0,3472.7 L1208.0,3472.4 L1210.0,3471.3 L1212.0,3471.7 L1214.0,3471.5 L1216.0,3471.8 L1218.0,3472.5 L1220.0,3472.3 L1222.0,3471.0 L1224.0,3471.8 L1226.0,3471.7 L1228.0,3471.2 L1230.0,3471.3 L1232.0,3472.0 L1234.0,3471.3 L1236.0,3471.3 L1238.0,3471.1 L1240.0,3469.5 L1242.0,3471.3 L1244.0,3471.7 L1246.0,3472.2 L1248.0,3472.4 L1250.0,3470.6 L1252.0,3471.0 L1254.0,3470.7 L1256.0,3471.1 L1258.0,3470.4 L1260.0,3471.0 L1262.0,3471.2 L1264.0,3471.1 L1266.0,3470.9 L1268.0,3471.2 L1270.0,3470.5 L1272.0,3470.4 L1274.0,3470.5 L1276.0,3470.3 L1278.0,3470.6 L1280.0,3471.0 L1282.0,3470.3 L1284.0,3469.4 L1286.0,3469.4 L1288.0,3470.4 L1290.0,3470.5 L1292.0,3470.4 L1294.0,3468.7 L1296.0,3470.4 L1298.0,3471.4 L1300.0,3469.9 L1302.0,3469.8 L1304.0,3470.4 L1306.0,3469.4 L1308.0,3469.2 L1310.0,3470.3 L1312.0,3469.1 L1314.0,3469.9 L1316.0,3469.3 L1318.0,3469.3 L1320.0,3469.0 L1322.0,3469.7 L1324.0,3469.3 L1326.0,3469.2 L1328.0,3469.0 L1330.0,3468.9 L1332.0,3469.7 L1334.0,3469.5 L1336.0,3469.6 L1338.0,3468.4 L1340.0,3469.2 L1342.0,3468.1 L1344.0,3469.7 L1346.0,3469.8 L1348.0,3469.5 L1350.0,3469.0 L1352.0,3469.0 L1354.0,3468.6 L1356.0,3468.2 L1358.0,3469.0 L1360.0,3469.0 L1362.0,3468.2 L1364.0,3467.7 L1366.0,3468.1 L1368.0,3468.1 L1370.0,3467.9 L1372.0,3467.2 L1374.0,3467.4 L1376.0,3468.1 L1378.0,3469.0 L1380.0,3467.2 L1382.0,3468.0 L1384.0,3467.7 L1386.0,3468.0 L1388.0,3467.8 L1390.0,3468.3 L1392.0,3467.7 L1394.0,3467.2 L1396.0,3467.7 L1398.0,3467.6 L1400.0,3467.9 L1402.0,3467.7 L1404.0,3467.6 L1406.0,3467.3 L1408.0,3467.1 L1410.0,3467.0 L1412.0,3467.2 L1414.0,3467.7 L1416.0,3467.7 L1418.0,3466.6 L1420.0,3466.7 L1422.0,3466.7 L1424.0,3467.6 L1426.0,3466.1 L1428.0,3466.6 L1430.0,3465.2 L1432.0,3466.5 L1434.0,3465.8 L1436.0,3466.2 L1438.0,3466.6 L1440.0,3465.3 L1442.0,3464.7 L1444.0,3466.0 L1446.0,3465.4 L1448.0,3465.9 L1450.0,3466.3 L1452.0,3464.9 L1454.0,3464.6 L1456.0,3464.8 L1458.0,3464.2 L1460.0,3464.6 L1462.0,3465.5 L1464.0,3464.4 L1466.0,3464.0 L1468.0,3464.9 L1470.0,3464.9 L1472.0,3463.5 L1474.0,3464.5 L1476.0,3464.1 L1478.0,3464.6 L1480.0,3463.9 L1482.0,3464.0 L1484.0,3463.6 L1486.0,3465.3 L1488.0,3464.4 L1490.0,3464.4 L1492.0,3464.4 L1494.0,3464.0 L1496.0,3464.6 L1498.0,3464.2 L1500.0,3465.2 L1502.0,3464.3 L1504.0,3464.7 L1506.0,3463.1 L1508.0,3463.5 L1510.0,3463.6 L1512.0,3463.0 L1514.0,3463.5 L1516.0,3463.6 L1518.0,3463.2 L1520.0,3464.2 L1522.0,3463.5 L1524.0,3463.9 L1526.0,3463.0 L1528.0,3463.7 L1530.0,3463.4 L1532.0,3463.4 L1534.0,3464.4 L1536.0,3464.0 L1538.0,3463.3 L1540.0,3463.3 L1542.0,3464.2 L1544.0,3463.4 L1546.0,3463.7 L1548.0,3464.5 L1550.0,3464.5 L1552.0,3463.8 L1554.0,3463.8 L1556.0,3463.9 L1558.0,3463.7 L1560.0,3463.8 L1562.0,3464.5 L1564.0,3464.0 L1566.0,3464.0 L1568.0,3463.7 L1570.0,3464.3 L1572.0,3463.6 L1574.0,3464.1 L1576.0,3463.3 L1578.0,3463.7 L1580.0,3464.0 L1582.0,3463.5 L1584.0,3464.0 L1586.0,3463.9 L1588.0,3463.6 L1590.0,3464.2 L1592.0,3464.0 L1594.0,3463.7 L1596.0,3464.0 L1598.0,3464.4 L1600.0,3463.4 L1602.0,3463.3 L1604.0,3464.4 L1606.0,3463.5 L1608.0,3463.7 L1610.0,3462.9 L1612.0,3463.9 L1614.0,3464.2 L1616.0,3463.4 L1618.0,3464.3 L1620.0,3463.5 L1622.0,3464.0 L1624.0,3464.8 L1626.0,3465.1 L1628.0,3464.2 L1630.0,3465.0 L1632.0,3464.1 L1634.0,3464.9 L1636.0,3463.6 L1638.0,3464.8 L1640.0,3464.4 L1642.0,3464.1 L1644.0,3464.5 L1646.0,3464.5 L1648.0,3464.7 L1650.0,3465.1 L1652.0,3464.4 L1654.0,3464.5 L1656.0,3464.9 L1658.0,3464.7 L1660.0,3465.0 L1662.0,3464.5 L1664.0,3465.6 L1666.0,3464.7 L1668.0,3465.7 L1670.0,3465.7 L1672.0,3465.0 L1674.0,3465.8 L1676.0,3466.2" fill="none" stroke="#00ff00" stroke-width="9.6" stroke-linejoin="round" stroke-linecap="round"/>
<path transform="scale(1,1.16)" d="M214.7,3685.7 L216.7,3685.4 L218.7,3684.9 L220.7,3685.8 L222.7,3685.7 L224.7,3684.8 L226.7,3685.2 L228.7,3684.8 L230.7,3684.7 L232.7,3686.3 L234.7,3685.2 L236.7,3685.7 L238.7,3685.5 L240.7,3685.4 L242.7,3684.8 L244.7,3684.8 L246.7,3685.5 L248.7,3685.9 L250.7,3684.4 L252.7,3684.8 L254.7,3685.2 L256.7,3685.8 L258.7,3685.6 L260.7,3685.7 L262.7,3685.4 L264.7,3684.8 L266.7,3685.2 L268.7,3685.9 L270.7,3685.3 L272.7,3684.6 L274.7,3686.0 L276.7,3685.5 L278.7,3685.6 L280.7,3686.2 L282.7,3684.9 L284.7,3684.9 L286.7,3683.9 L288.7,3685.3 L290.7,3685.5 L292.7,3685.2 L294.7,3685.2 L296.7,3685.6 L298.7,3685.4 L300.7,3685.4 L302.7,3685.1 L304.7,3685.1 L306.7,3685.7 L308.7,3685.1 L310.7,3684.9 L312.7,3684.8 L314.7,3685.0 L316.7,3685.2 L318.7,3685.3 L320.7,3685.1 L322.7,3684.9 L324.7,3684.2 L326.7,3685.3 L328.7,3684.5 L330.7,3684.9 L332.7,3685.6 L334.7,3685.1 L336.7,3684.5 L338.7,3685.3 L340.7,3684.8 L342.7,3684.7 L344.7,3685.6 L346.7,3685.3 L348.7,3686.5 L350.7,3684.3 L352.7,3684.9 L354.7,3685.1 L356.7,3685.5 L358.7,3684.7 L360.7,3685.6 L362.7,3684.9 L364.7,3684.4 L366.7,3684.7 L368.7,3684.8 L370.7,3684.7 L372.7,3684.4 L374.7,3684.6 L376.7,3685.2 L378.7,3685.2 L380.7,3685.7 L382.7,3684.2 L384.7,3684.1 L386.7,3685.7 L388.7,3684.8 L390.7,3684.8 L392.7,3684.1 L394.7,3684.8 L396.7,3684.6 L398.7,3684.5 L400.7,3685.1 L402.7,3684.0 L404.7,3684.5 L406.7,3683.5 L408.7,3684.6 L410.7,3683.7 L412.7,3685.2 L414.7,3683.6 L416.7,3685.1 L418.7,3683.7 L420.7,3683.3 L422.7,3684.2 L424.7,3684.2 L426.7,3683.5 L428.7,3683.3 L430.7,3682.7 L432.7,3683.7 L434.7,3684.0 L436.7,3682.7 L438.7,3683.8 L440.7,3684.5 L442.7,3682.7 L444.7,3683.9 L446.7,3683.8 L448.7,3683.1 L450.7,3683.6 L452.7,3682.8 L454.7,3683.5 L456.7,3684.1 L458.7,3683.0 L460.7,3682.8 L462.7,3681.9 L464.7,3683.8 L466.7,3683.7 L468.7,3682.3 L470.7,3682.4 L472.7,3682.1 L474.7,3682.6 L476.7,3680.8 L478.7,3681.7 L480.7,3679.9 L482.7,3681.0 L484.7,3680.0 L486.7,3680.7 L488.7,3679.9 L490.7,3678.9 L492.7,3678.5 L494.7,3677.8 L496.7,3678.9 L498.7,3678.1 L500.7,3676.8 L502.7,3675.9 L504.7,3676.4 L506.7,3675.7 L508.7,3674.9 L510.7,3674.7 L512.7,3674.4 L514.7,3673.3 L516.7,3672.9 L518.7,3671.9 L520.7,3671.2 L522.7,3669.9 L524.7,3669.6 L526.7,3668.3 L528.7,3667.0 L530.7,3666.2 L532.7,3664.8 L534.7,3663.6 L536.7,3662.5 L538.7,3661.1 L540.7,3658.0 L542.7,3656.8 L544.7,3654.8 L546.7,3651.9 L548.7,3650.5 L550.7,3647.8 L552.7,3645.2 L554.7,3642.2 L556.7,3639.9 L558.7,3638.1 L560.7,3636.2 L562.7,3632.2 L564.7,3628.4 L566.7,3627.1 L568.7,3623.5 L570.7,3620.9 L572.7,3616.9 L574.7,3614.5 L576.7,3611.1 L578.7,3607.0 L580.7,3604.1 L582.7,3600.9 L584.7,3597.0 L586.7,3594.5 L588.7,3590.2 L590.7,3587.2 L592.7,3583.0 L594.7,3579.7 L596.7,3575.8 L598.7,3570.6 L600.7,3567.3 L602.7,3563.7 L604.7,3559.0 L606.7,3555.8 L608.7,3551.6 L610.7,3546.5 L612.7,3543.1 L614.7,3539.5 L616.7,3535.0 L618.7,3532.3 L620.7,3527.9 L622.7,3523.7 L624.7,3519.7 L626.7,3516.3 L628.7,3513.5 L630.7,3512.0 L632.7,3509.0 L634.7,3508.0 L636.7,3506.9 L638.7,3503.4 L640.7,3502.4 L642.7,3502.3 L644.7,3501.2 L646.7,3500.1 L648.7,3500.1 L650.7,3500.0 L652.7,3500.8 L654.7,3500.9 L656.7,3502.6 L658.7,3504.2 L660.7,3506.1 L662.7,3507.4 L664.7,3508.7 L666.7,3511.0 L668.7,3514.8 L670.7,3516.4 L672.7,3519.3 L674.7,3521.8 L676.7,3524.5 L678.7,3527.4 L680.7,3528.9 L682.7,3531.3 L684.7,3533.2 L686.7,3535.0 L688.7,3536.1 L690.7,3538.3 L692.7,3540.9 L694.7,3542.1 L696.7,3544.0 L698.7,3546.0 L700.7,3547.5 L702.7,3549.8 L704.7,3552.4 L706.7,3554.0 L708.7,3555.9 L710.7,3559.1 L712.7,3561.4 L714.7,3563.1 L716.7,3564.8 L718.7,3568.0 L720.7,3570.0 L722.7,3571.2 L724.7,3573.9 L726.7,3576.0 L728.7,3578.0 L730.7,3582.1 L732.7,3584.5 L734.7,3584.9 L736.7,3588.4 L738.7,3590.0 L740.7,3592.1 L742.7,3594.2 L744.7,3596.0 L746.7,3597.2 L748.7,3598.6 L750.7,3600.8 L752.7,3602.9 L754.7,3602.7 L756.7,3604.4 L758.7,3606.0 L760.7,3606.8 L762.7,3608.2 L764.7,3610.0 L766.7,3610.9 L768.7,3611.6 L770.7,3612.7 L772.7,3613.3 L774.7,3615.0 L776.7,3615.3 L778.7,3615.9 L780.7,3617.0 L782.7,3618.1 L784.7,3619.7 L786.7,3619.6 L788.7,3620.2 L790.7,3622.2 L792.7,3621.7 L794.7,3623.0 L796.7,3623.2 L798.7,3623.9 L800.7,3623.5 L802.7,3624.9 L804.7,3625.0 L806.7,3625.2 L808.7,3626.5 L810.7,3626.8 L812.7,3627.5 L814.7,3628.5 L816.7,3627.4 L818.7,3629.3 L820.7,3629.0 L822.7,3629.6 L824.7,3631.1 L826.7,3631.5 L828.7,3631.3 L830.7,3633.1 L832.7,3633.9 L834.7,3635.2 L836.7,3635.8 L838.7,3636.0 L840.7,3635.9 L842.7,3637.3 L844.7,3638.3 L846.7,3639.2 L848.7,3640.0 L850.7,3640.3 L852.7,3641.1 L854.7,3641.2 L856.7,3642.0 L858.7,3643.1 L860.7,3643.9 L862.7,3643.5 L864.7,3644.5 L866.7,3645.3 L868.7,3646.4 L870.7,3646.7 L872.7,3648.6 L874.7,3648.0 L876.7,3648.2 L878.7,3649.1 L880.7,3649.5 L882.7,3650.3 L884.7,3651.0 L886.7,3652.2 L888.7,3652.7 L890.7,3652.8 L892.7,3652.5 L894.7,3653.8 L896.7,3653.7 L898.7,3654.6 L900.7,3655.4 L902.7,3655.6 L904.7,3657.2 L906.7,3656.7 L908.7,3656.9 L910.7,3657.4 L912.7,3658.5 L914.7,3657.6 L916.7,3658.6 L918.7,3658.6 L920.7,3659.4 L922.7,3659.0 L924.7,3660.1 L926.7,3661.0 L928.7,3660.5 L930.7,3661.8 L932.7,3661.2 L934.7,3661.7 L936.7,3661.5 L938.7,3662.7 L940.7,3662.9 L942.7,3663.0 L944.7,3663.7 L946.7,3663.2 L948.7,3664.6 L950.7,3664.0 L952.7,3663.7 L954.7,3664.1 L956.7,3664.4 L958.7,3664.0 L960.7,3664.2 L962.7,3665.7 L964.7,3665.3 L966.7,3665.7 L968.7,3666.6 L970.7,3665.9 L972.7,3665.2 L974.7,3666.2 L976.7,3665.5 L978.7,3666.6 L980.7,3666.5 L982.7,3666.9 L984.7,3665.9 L986.7,3665.6 L988.7,3666.7 L990.7,3667.1 L992.7,3666.8 L994.7,3666.7 L996.7,3666.7 L998.7,3666.8 L1000.7,3667.4 L1002.7,3666.4 L1004.7,3667.1 L1006.7,3667.6 L1008.7,3667.4 L1010.7,3667.2 L1012.7,3667.3 L1014.7,3667.8 L1016.7,3668.0 L1018.7,3666.9 L1020.7,3668.8 L1022.7,3668.0 L1024.7,3667.8 L1026.7,3667.3 L1028.7,3667.6 L1030.7,3668.4 L1032.7,3668.3 L1034.7,3667.1 L1036.7,3667.7 L1038.7,3668.1 L1040.7,3667.7 L1042.7,3669.2 L1044.7,3668.9 L1046.7,3668.1 L1048.7,3667.6 L1050.7,3668.5 L1052.7,3668.3 L1054.7,3668.3 L1056.7,3668.0 L1058.7,3668.9 L1060.7,3668.6 L1062.7,3669.2 L1064.7,3669.1 L1066.7,3668.5 L1068.7,3668.8 L1070.7,3668.4 L1072.7,3668.9 L1074.7,3668.3 L1076.7,3669.2 L1078.7,3667.8 L1080.7,3669.1 L1082.7,3668.9 L1084.7,3669.4 L1086.7,3668.5 L1088.7,3669.1 L1090.7,3669.4 L1092.7,3669.1 L1094.7,3669.2 L1096.7,3669.2 L1098.7,3669.0 L1100.7,3669.0 L1102.7,3668.5 L1104.7,3669.4 L1106.7,3669.3 L1108.7,3670.1 L1110.7,3669.0 L1112.7,3670.2 L1114.7,3670.0 L1116.7,3668.3 L1118.7,3669.4 L1120.7,3670.2 L1122.7,3669.5 L1124.7,3669.9 L1126.7,3670.1 L1128.7,3669.2 L1130.7,3669.8 L1132.7,3669.6 L1134.7,3670.3 L1136.7,3668.4 L1138.7,3669.5 L1140.7,3669.1 L1142.7,3669.6 L1144.7,3669.9 L1146.7,3669.9 L1148.7,3669.7 L1150.7,3670.2 L1152.7,3669.4 L1154.7,3670.2 L1156.7,3669.8 L1158.7,3669.1 L1160.7,3669.9 L1162.7,3670.0 L1164.7,3669.8 L1166.7,3669.2 L1168.7,3669.8 L1170.7,3670.8 L1172.7,3670.8 L1174.7,3669.3 L1176.7,3669.7 L1178.7,3669.5 L1180.7,3669.0 L1182.7,3669.0 L1184.7,3669.7 L1186.7,3670.4 L1188.7,3670.2 L1190.7,3670.4 L1192.7,3670.8 L1194.7,3669.4 L1196.7,3669.7 L1198.7,3669.0 L1200.7,3669.6 L1202.7,3670.0 L1204.7,3670.3 L1206.7,3669.2 L1208.7,3669.4 L1210.7,3669.7 L1212.7,3669.6 L1214.7,3668.9 L1216.7,3670.0 L1218.7,3669.6 L1220.7,3669.6 L1222.7,3669.4 L1224.7,3669.7 L1226.7,3669.4 L1228.7,3669.7 L1230.7,3670.4 L1232.7,3669.7 L1234.7,3670.0 L1236.7,3669.8 L1238.7,3669.0 L1240.7,3668.8 L1242.7,3670.0 L1244.7,3669.3 L1246.7,3669.6 L1248.7,3669.3 L1250.7,3669.0 L1252.7,3670.3 L1254.7,3671.0 L1256.7,3670.3 L1258.7,3668.9 L1260.7,3669.3 L1262.7,3669.6 L1264.7,3668.8 L1266.7,3669.3 L1268.7,3669.5 L1270.7,3670.2 L1272.7,3668.4 L1274.7,3669.3 L1276.7,3668.6 L1278.7,3668.0 L1280.7,3669.4 L1282.7,3668.0 L1284.7,3668.8 L1286.7,3669.3 L1288.7,3669.0 L1290.7,3668.7 L1292.7,3669.4 L1294.7,3668.5 L1296.7,3668.4 L1298.7,3669.4 L1300.7,3668.7 L1302.7,3668.2 L1304.7,3668.0 L1306.7,3668.3 L1308.7,3669.1 L1310.7,3668.2 L1312.7,3668.5 L1314.7,3669.2 L1316.7,3669.1 L1318.7,3667.7 L1320.7,3669.0 L1322.7,3667.0 L1324.7,3668.6 L1326.7,3667.6 L1328.7,3667.9 L1330.7,3667.9 L1332.7,3667.8 L1334.7,3668.2 L1336.7,3667.9 L1338.7,3669.1 L1340.7,3668.0 L1342.7,3667.5 L1344.7,3668.1 L1346.7,3667.7 L1348.7,3668.0 L1350.7,3667.7 L1352.7,3668.0 L1354.7,3668.1 L1356.7,3668.4 L1358.7,3668.6 L1360.7,3668.2 L1362.7,3667.8 L1364.7,3667.5 L1366.7,3667.2 L1368.7,3668.5 L1370.7,3667.5 L1372.7,3667.6 L1374.7,3667.8 L1376.7,3668.1 L1378.7,3668.5 L1380.7,3667.9 L1382.7,3667.0 L1384.7,3667.9 L1386.7,3667.4 L1388.7,3667.2 L1390.7,3668.0 L1392.7,3667.4 L1394.7,3667.4 L1396.7,3667.8 L1398.7,3667.6 L1400.7,3667.6 L1402.7,3667.4 L1404.7,3667.0 L1406.7,3667.0 L1408.7,3667.1 L1410.7,3667.2 L1412.7,3667.6 L1414.7,3666.4 L1416.7,3667.1 L1418.7,3665.7 L1420.7,3667.5 L1422.7,3667.2 L1424.7,3666.5 L1426.7,3666.5 L1428.7,3666.6 L1430.7,3666.1 L1432.7,3666.6 L1434.7,3666.9 L1436.7,3665.8 L1438.7,3666.3 L1440.7,3665.8 L1442.7,3666.9 L1444.7,3665.3 L1446.7,3665.8 L1448.7,3666.1 L1450.7,3665.9 L1452.7,3665.5 L1454.7,3666.0 L1456.7,3665.4 L1458.7,3665.9 L1460.7,3664.8 L1462.7,3665.1 L1464.7,3665.9 L1466.7,3666.0 L1468.7,3666.0 L1470.7,3664.6 L1472.7,3666.5 L1474.7,3665.0 L1476.7,3666.1 L1478.7,3665.1 L1480.7,3664.1 L1482.7,3664.9 L1484.7,3664.5 L1486.7,3664.7 L1488.7,3664.2 L1490.7,3664.5 L1492.7,3664.4 L1494.7,3663.8 L1496.7,3664.4 L1498.7,3663.7 L1500.7,3663.7 L1502.7,3663.3 L1504.7,3664.1 L1506.7,3663.7 L1508.7,3662.9 L1510.7,3663.2 L1512.7,3663.8 L1514.7,3663.6 L1516.7,3663.6 L1518.7,3663.1 L1520.7,3663.4 L1522.7,3663.3 L1524.7,3663.7 L1526.7,3663.1 L1528.7,3663.9 L1530.7,3662.9 L1532.7,3663.3 L1534.7,3663.7 L1536.7,3662.2 L1538.7,3662.6 L1540.7,3663.4 L1542.7,3662.5 L1544.7,3662.4 L1546.7,3663.4 L1548.7,3663.2 L1550.7,3662.6 L1552.7,3662.1 L1554.7,3662.7 L1556.7,3662.0 L1558.7,3663.1 L1560.7,3661.7 L1562.7,3661.6 L1564.7,3661.3 L1566.7,3662.0 L1568.7,3662.7 L1570.7,3662.0 L1572.7,3662.6 L1574.7,3662.3 L1576.7,3662.3 L1578.7,3662.3 L1580.7,3662.1 L1582.7,3661.8 L1584.7,3662.5 L1586.7,3662.5 L1588.7,3662.7 L1590.7,3662.3 L1592.7,3662.6 L1594.7,3662.0 L1596.7,3662.6 L1598.7,3661.7 L1600.7,3661.6 L1602.7,3662.8 L1604.7,3662.3 L1606.7,3662.6 L1608.7,3662.5 L1610.7,3662.6 L1612.7,3661.5 L1614.7,3662.4 L1616.7,3662.7 L1618.7,3662.4 L1620.7,3662.8 L1622.7,3662.5 L1624.7,3662.9 L1626.7,3663.2 L1628.7,3662.8 L1630.7,3662.2 L1632.7,3663.5 L1634.7,3663.5 L1636.7,3663.3 L1638.7,3663.4 L1640.7,3663.0 L1642.7,3663.9 L1644.7,3663.9 L1646.7,3664.2 L1648.7,3663.9 L1650.7,3663.2 L1652.7,3663.5 L1654.7,3664.2 L1656.7,3665.4 L1658.7,3664.4" fill="none" stroke="#ff0000" stroke-width="9.6" stroke-linejoin="round" stroke-linecap="round"/>
<path transform="scale(1,1.16)" d="M333.6,3875.1 L335.6,3874.0 L337.6,3874.2 L339.6,3873.9 L341.6,3873.8 L343.6,3873.6 L345.6,3874.7 L347.6,3874.5 L349.6,3873.5 L351.6,3874.5 L353.6,3874.7 L355.6,3875.4 L357.6,3874.9 L359.6,3874.4 L361.6,3874.1 L363.6,3874.8 L365.6,3875.1 L367.6,3874.9 L369.6,3874.4 L371.6,3874.6 L373.6,3873.6 L375.6,3874.6 L377.6,3875.1 L379.6,3874.3 L381.6,3874.4 L383.6,3874.9 L385.6,3874.3 L387.6,3875.1 L389.6,3874.5 L391.6,3874.8 L393.6,3874.1 L395.6,3874.5 L397.6,3875.1 L399.6,3873.6 L401.6,3875.0 L403.6,3873.1 L405.6,3874.2 L407.6,3874.5 L409.6,3873.9 L411.6,3874.3 L413.6,3874.8 L415.6,3874.3 L417.6,3873.1 L419.6,3874.6 L421.6,3874.7 L423.6,3874.2 L425.6,3874.1 L427.6,3874.1 L429.6,3873.2 L431.6,3873.9 L433.6,3874.9 L435.6,3874.6 L437.6,3874.4 L439.6,3873.8 L441.6,3873.8 L443.6,3874.3 L445.6,3874.0 L447.6,3874.0 L449.6,3873.7 L451.6,3874.2 L453.6,3873.6 L455.6,3873.8 L457.6,3874.3 L459.6,3872.9 L461.6,3874.1 L463.6,3873.3 L465.6,3872.5 L467.6,3873.2 L469.6,3873.2 L471.6,3874.2 L473.6,3874.2 L475.6,3874.8 L477.6,3873.4 L479.6,3873.4 L481.6,3873.5 L483.6,3874.3 L485.6,3873.8 L487.6,3873.4 L489.6,3872.9 L491.6,3874.3 L493.6,3872.4 L495.6,3873.1 L497.6,3873.0 L499.6,3873.4 L501.6,3872.3 L503.6,3873.6 L505.6,3872.8 L507.6,3872.2 L509.6,3872.3 L511.6,3872.6 L513.6,3872.2 L515.6,3872.9 L517.6,3871.8 L519.6,3872.5 L521.6,3873.2 L523.6,3872.2 L525.6,3872.5 L527.6,3872.3 L529.6,3870.8 L531.6,3872.3 L533.6,3871.5 L535.6,3871.9 L537.6,3871.9 L539.6,3871.5 L541.6,3871.2 L543.6,3870.3 L545.6,3871.2 L547.6,3870.6 L549.6,3870.6 L551.6,3870.7 L553.6,3869.4 L555.6,3870.3 L557.6,3870.2 L559.6,3869.0 L561.6,3868.1 L563.6,3869.8 L565.6,3868.7 L567.6,3868.3 L569.6,3867.8 L571.6,3867.1 L573.6,3866.7 L575.6,3866.7 L577.6,3866.3 L579.6,3865.5 L581.6,3864.7 L583.6,3864.6 L585.6,3863.2 L587.6,3862.2 L589.6,3861.5 L591.6,3860.5 L593.6,3860.7 L595.6,3858.9 L597.6,3858.7 L599.6,3857.3 L601.6,3856.8 L603.6,3854.8 L605.6,3853.1 L607.6,3850.4 L609.6,3847.6 L611.6,3846.5 L613.6,3844.2 L615.6,3840.7 L617.6,3837.8 L619.6,3834.9 L621.6,3831.7 L623.6,3829.1 L625.6,3824.4 L627.6,3820.6 L629.6,3815.8 L631.6,3810.3 L633.6,3806.8 L635.6,3800.5 L637.6,3794.3 L639.6,3789.2 L641.6,3782.4 L643.6,3775.4 L645.6,3768.9 L647.6,3762.9 L649.6,3757.5 L651.6,3752.7 L653.6,3746.6 L655.6,3742.3 L657.6,3736.6 L659.6,3732.7 L661.6,3727.7 L663.6,3724.2 L665.6,3720.4 L667.6,3716.7 L669.6,3713.6 L671.6,3710.8 L673.6,3708.8 L675.6,3707.9 L677.6,3705.4 L679.6,3704.9 L681.6,3704.9 L683.6,3705.1 L685.6,3706.5 L687.6,3707.6 L689.6,3709.0 L691.6,3710.4 L693.6,3712.2 L695.6,3714.4 L697.6,3718.4 L699.6,3720.1 L701.6,3723.2 L703.6,3727.1 L705.6,3729.0 L707.6,3734.7 L709.6,3738.7 L711.6,3742.5 L713.6,3745.7 L715.6,3749.3 L717.6,3753.6 L719.6,3757.3 L721.6,3760.3 L723.6,3763.3 L725.6,3766.2 L727.6,3768.7 L729.6,3770.6 L731.6,3773.2 L733.6,3774.5 L735.6,3775.7 L737.6,3778.1 L739.6,3779.4 L741.6,3780.9 L743.6,3782.2 L745.6,3782.9 L747.6,3784.4 L749.6,3785.5 L751.6,3786.1 L753.6,3788.2 L755.6,3789.5 L757.6,3790.0 L759.6,3790.9 L761.6,3791.9 L763.6,3793.0 L765.6,3793.2 L767.6,3794.6 L769.6,3795.3 L771.6,3795.8 L773.6,3797.0 L775.6,3797.4 L777.6,3798.4 L779.6,3799.7 L781.6,3800.9 L783.6,3800.4 L785.6,3800.6 L787.6,3802.5 L789.6,3801.9 L791.6,3803.2 L793.6,3803.6 L795.6,3804.1 L797.6,3804.4 L799.6,3804.3 L801.6,3805.8 L803.6,3805.8 L805.6,3805.8 L807.6,3806.8 L809.6,3806.8 L811.6,3808.8 L813.6,3808.3 L815.6,3808.0 L817.6,3808.8 L819.6,3809.0 L821.6,3809.4 L823.6,3809.8 L825.6,3810.6 L827.6,3811.3 L829.6,3811.6 L831.6,3811.8 L833.6,3812.6 L835.6,3813.4 L837.6,3813.1 L839.6,3814.5 L841.6,3815.0 L843.6,3814.2 L845.6,3815.2 L847.6,3815.6 L849.6,3816.5 L851.6,3817.5 L853.6,3817.7 L855.6,3817.4 L857.6,3818.7 L859.6,3819.1 L861.6,3820.7 L863.6,3820.4 L865.6,3820.9 L867.6,3821.8 L869.6,3822.4 L871.6,3822.6 L873.6,3823.6 L875.6,3824.2 L877.6,3824.8 L879.6,3825.6 L881.6,3827.0 L883.6,3827.8 L885.6,3829.2 L887.6,3828.8 L889.6,3829.8 L891.6,3830.7 L893.6,3832.8 L895.6,3832.7 L897.6,3834.5 L899.6,3833.3 L901.6,3835.3 L903.6,3837.9 L905.6,3837.4 L907.6,3839.2 L909.6,3839.2 L911.6,3839.9 L913.6,3841.7 L915.6,3842.4 L917.6,3843.2 L919.6,3845.0 L921.6,3844.1 L923.6,3845.1 L925.6,3846.5 L927.6,3847.2 L929.6,3846.8 L931.6,3848.1 L933.6,3848.4 L935.6,3848.3 L937.6,3849.9 L939.6,3849.9 L941.6,3850.4 L943.6,3850.9 L945.6,3851.9 L947.6,3851.1 L949.6,3852.6 L951.6,3852.7 L953.6,3852.7 L955.6,3853.6 L957.6,3854.2 L959.6,3854.7 L961.6,3854.6 L963.6,3855.7 L965.6,3855.9 L967.6,3855.7 L969.6,3856.7 L971.6,3857.3 L973.6,3857.0 L975.6,3858.6 L977.6,3859.1 L979.6,3857.3 L981.6,3858.8 L983.6,3858.4 L985.6,3858.6 L987.6,3860.0 L989.6,3859.6 L991.6,3859.8 L993.6,3860.4 L995.6,3860.2 L997.6,3859.8 L999.6,3860.6 L1001.6,3861.7 L1003.6,3861.2 L1005.6,3861.7 L1007.6,3861.5 L1009.6,3860.9 L1011.6,3861.2 L1013.6,3862.4 L1015.6,3862.5 L1017.6,3863.3 L1019.6,3863.0 L1021.6,3862.5 L1023.6,3863.3 L1025.6,3861.6 L1027.6,3862.4 L1029.6,3862.6 L1031.6,3861.7 L1033.6,3863.0 L1035.6,3862.3 L1037.6,3862.9 L1039.6,3863.4 L1041.6,3862.4 L1043.6,3862.7 L1045.6,3863.3 L1047.6,3862.3 L1049.6,3863.6 L1051.6,3862.9 L1053.6,3862.1 L1055.6,3862.8 L1057.6,3863.5 L1059.6,3862.4 L1061.6,3863.4 L1063.6,3862.6 L1065.6,3862.4 L1067.6,3863.0 L1069.6,3863.5 L1071.6,3862.4 L1073.6,3862.0 L1075.6,3863.2 L1077.6,3863.3 L1079.6,3863.1 L1081.6,3863.3 L1083.6,3862.9 L1085.6,3862.6 L1087.6,3862.7 L1089.6,3863.7 L1091.6,3862.8 L1093.6,3863.0 L1095.6,3863.2 L1097.6,3863.5 L1099.6,3862.5 L1101.6,3862.7 L1103.6,3862.5 L1105.6,3863.7 L1107.6,3862.8 L1109.6,3862.6 L1111.6,3863.4 L1113.6,3862.7 L1115.6,3863.0 L1117.6,3863.6 L1119.6,3863.4 L1121.6,3863.6 L1123.6,3862.3 L1125.6,3862.4 L1127.6,3862.7 L1129.6,3862.8 L1131.6,3861.8 L1133.6,3862.4 L1135.6,3863.3 L1137.6,3862.5 L1139.6,3862.0 L1141.6,3862.1 L1143.6,3861.6 L1145.6,3862.9 L1147.6,3862.7 L1149.6,3861.3 L1151.6,3862.6 L1153.6,3862.6 L1155.6,3862.8 L1157.6,3861.2 L1159.6,3862.8 L1161.6,3862.7 L1163.6,3862.1 L1165.6,3861.9 L1167.6,3861.6 L1169.6,3861.1 L1171.6,3862.5 L1173.6,3860.6 L1175.6,3862.0 L1177.6,3862.4 L1179.6,3862.1 L1181.6,3862.5 L1183.6,3862.0 L1185.6,3861.6 L1187.6,3861.7 L1189.6,3861.5 L1191.6,3861.9 L1193.6,3861.6 L1195.6,3862.6 L1197.6,3861.4 L1199.6,3862.0 L1201.6,3862.3 L1203.6,3862.2 L1205.6,3862.6 L1207.6,3861.3 L1209.6,3861.5 L1211.6,3861.5 L1213.6,3862.5 L1215.6,3862.0 L1217.6,3861.9 L1219.6,3862.5 L1221.6,3862.2 L1223.6,3861.2 L1225.6,3862.0 L1227.6,3862.2 L1229.6,3862.9 L1231.6,3862.4 L1233.6,3862.2 L1235.6,3862.2 L1237.6,3861.5 L1239.6,3861.2 L1241.6,3861.5 L1243.6,3862.8 L1245.6,3862.0 L1247.6,3861.9 L1249.6,3860.6 L1251.6,3861.8 L1253.6,3861.7 L1255.6,3861.3 L1257.6,3861.5 L1259.6,3862.3 L1261.6,3861.7 L1263.6,3861.1 L1265.6,3861.6 L1267.6,3861.7 L1269.6,3861.5 L1271.6,3861.8 L1273.6,3862.3 L1275.6,3862.0 L1277.6,3860.6 L1279.6,3861.0 L1281.6,3861.4 L1283.6,3861.8 L1285.6,3862.1 L1287.6,3861.7 L1289.6,3861.3 L1291.6,3862.0 L1293.6,3862.4 L1295.6,3860.8 L1297.6,3861.1 L1299.6,3861.4 L1301.6,3861.4 L1303.6,3861.5 L1305.6,3861.8 L1307.6,3861.2 L1309.6,3860.7 L1311.6,3861.7 L1313.6,3861.3 L1315.6,3861.5 L1317.6,3860.1 L1319.6,3860.7 L1321.6,3862.3 L1323.6,3860.3 L1325.6,3860.0 L1327.6,3860.9 L1329.6,3861.4 L1331.6,3860.2 L1333.6,3860.7 L1335.6,3860.9 L1337.6,3860.8 L1339.6,3861.1 L1341.6,3861.7 L1343.6,3860.9 L1345.6,3860.6 L1347.6,3861.5 L1349.6,3861.3 L1351.6,3860.3 L1353.6,3860.6 L1355.6,3860.7 L1357.6,3861.2 L1359.6,3860.9 L1361.6,3860.3 L1363.6,3860.6 L1365.6,3859.8 L1367.6,3860.1 L1369.6,3860.7 L1371.6,3860.1 L1373.6,3860.4 L1375.6,3860.7 L1377.6,3859.8 L1379.6,3860.9 L1381.6,3859.0 L1383.6,3859.5 L1385.6,3860.5 L1387.6,3860.4 L1389.6,3859.5 L1391.6,3858.9 L1393.6,3860.1 L1395.6,3859.9 L1397.6,3859.2 L1399.6,3859.8 L1401.6,3860.0 L1403.6,3858.9 L1405.6,3858.8 L1407.6,3859.7 L1409.6,3859.8 L1411.6,3860.7 L1413.6,3859.1 L1415.6,3860.1 L1417.6,3859.5 L1419.6,3859.5 L1421.6,3859.5 L1423.6,3859.6 L1425.6,3858.9 L1427.6,3859.2 L1429.6,3859.1 L1431.6,3858.1 L1433.6,3859.8 L1435.6,3859.1 L1437.6,3858.3 L1439.6,3859.1 L1441.6,3858.0 L1443.6,3858.4 L1445.6,3858.7 L1447.6,3859.2 L1449.6,3859.1 L1451.6,3858.7 L1453.6,3858.7 L1455.6,3858.4 L1457.6,3859.1 L1459.6,3858.6 L1461.6,3858.5 L1463.6,3858.3 L1465.6,3858.2 L1467.6,3858.7 L1469.6,3858.4 L1471.6,3858.1 L1473.6,3857.4 L1475.6,3858.3 L1477.6,3858.5 L1479.6,3857.4 L1481.6,3856.8 L1483.6,3858.1 L1485.6,3857.8 L1487.6,3857.9 L1489.6,3858.0 L1491.6,3858.4 L1493.6,3857.2 L1495.6,3857.3 L1497.6,3856.8 L1499.6,3857.7 L1501.6,3857.4 L1503.6,3857.1 L1505.6,3857.4 L1507.6,3856.3 L1509.6,3857.5 L1511.6,3857.5 L1513.6,3857.7 L1515.6,3858.0 L1517.6,3857.4 L1519.6,3856.6 L1521.6,3856.7 L1523.6,3857.6 L1525.6,3855.8 L1527.6,3857.0 L1529.6,3856.7 L1531.6,3856.5 L1533.6,3855.7 L1535.6,3855.4 L1537.6,3857.2 L1539.6,3857.5 L1541.6,3856.5 L1543.6,3856.6 L1545.6,3855.6 L1547.6,3855.8 L1549.6,3856.0 L1551.6,3856.0 L1553.6,3855.6 L1555.6,3855.3 L1557.6,3855.2 L1559.6,3856.3 L1561.6,3856.1 L1563.6,3856.2 L1565.6,3856.2 L1567.6,3856.3 L1569.6,3855.3 L1571.6,3856.2 L1573.6,3855.2 L1575.6,3855.6 L1577.6,3856.2 L1579.6,3855.9 L1581.6,3855.5 L1583.6,3856.2 L1585.6,3856.0 L1587.6,3855.0 L1589.6,3855.5 L1591.6,3854.6 L1593.6,3854.9 L1595.6,3855.4 L1597.6,3855.2 L1599.6,3856.2 L1601.6,3856.2 L1603.6,3855.4 L1605.6,3855.6 L1607.6,3856.4 L1609.6,3856.4 L1611.6,3855.7 L1613.6,3856.1 L1615.6,3855.9 L1617.6,3856.8 L1619.6,3856.5 L1621.6,3855.8 L1623.6,3856.0 L1625.6,3855.8 L1627.6,3855.9 L1629.6,3855.5 L1631.6,3855.3 L1633.6,3855.7 L1635.6,3856.2 L1637.6,3855.2 L1639.6,3855.5 L1641.6,3855.8 L1643.6,3855.3 L1645.6,3856.7 L1647.6,3856.5 L1649.6,3856.5 L1651.6,3855.8 L1653.6,3855.7 L1655.6,3855.9 L1657.6,3856.5 L1659.6,3856.0 L1661.6,3856.8 L1663.6,3856.6 L1665.6,3857.0 L1667.6,3856.5 L1669.6,3857.1 L1671.6,3857.2 L1673.6,3857.4 L1675.6,3856.3" fill="none" stroke="#000" stroke-width="9.8" stroke-linejoin="round" stroke-linecap="round"/>
<text transform="translate(325.4,4776.5) scale(1.0000,1)" font-size="59" font-family='"Liberation Sans", Arial, sans-serif' font-weight="bold" fill="#000" style="font-kerning:none;letter-spacing:-3.99px;white-space:pre">525</text>
<text transform="translate(653.2,4776.5) scale(1.0000,1)" font-size="59" font-family='"Liberation Sans", Arial, sans-serif' font-weight="bold" fill="#000" style="font-kerning:none;letter-spacing:-3.60px;white-space:pre">530</text>
<text transform="translate(980.9,4776.5) scale(1.0000,1)" font-size="59" font-family='"Liberation Sans", Arial, sans-serif' font-weight="bold" fill="#000" style="font-kerning:none;letter-spacing:-3.99px;white-space:pre">535</text>
<text transform="translate(1308.7,4776.5) scale(1.0000,1)" font-size="59" font-family='"Liberation Sans", Arial, sans-serif' font-weight="bold" fill="#000" style="font-kerning:none;letter-spacing:-3.60px;white-space:pre">540</text>
<text transform="translate(1636.4,4776.5) scale(1.0000,1)" font-size="59" font-family='"Liberation Sans", Arial, sans-serif' font-weight="bold" fill="#000" style="font-kerning:none;letter-spacing:-3.99px;white-space:pre">545</text>
<text transform="translate(1637.2,4776.5) scale(1.0000,1)" font-size="59" font-family='"Liberation Sans", Arial, sans-serif' font-weight="bold" fill="#000" style="font-kerning:none;letter-spacing:-3.99px;white-space:pre">545</text>
<text transform="translate(590.4,4893.6) scale(0.9300,1)" font-size="105" font-family='"Liberation Serif", "Times New Roman", serif' font-weight="bold" fill="#000" style="font-kerning:none;letter-spacing:-3.33px;white-space:pre">Binding</text>
<text transform="translate(924.3,4893.6) scale(0.9300,1)" font-size="105" font-family='"Liberation Serif", "Times New Roman", serif' font-weight="bold" fill="#000" style="font-kerning:none;letter-spacing:-2.73px;white-space:pre">energy</text>
<text transform="translate(1215.4,4893.6) scale(1.0000,1)" font-size="105" font-family='"Liberation Serif", "Times New Roman", serif' font-weight="bold" fill="#000" style="font-kerning:none;letter-spacing:0.00px;white-space:pre">/</text>
<text transform="translate(1269.0,4893.6) scale(0.9300,1)" font-size="105" font-family='"Liberation Serif", "Times New Roman", serif' font-weight="bold" fill="#000" style="font-kerning:none;letter-spacing:-1.00px;white-space:pre">eV</text>
<text transform="translate(109.4,4320.9) rotate(-90) scale(0.9200,1)" font-size="112" font-family='"Liberation Serif", "Times New Roman", serif' font-weight="bold" fill="#000" style="font-kerning:none;letter-spacing:2.84px;white-space:pre">Intensity / a.u.</text>
<text transform="translate(267.0,3530.0) scale(1.0000,1)" font-size="72" font-family='"Liberation Sans", Arial, sans-serif' font-weight="bold" fill="#000" style="font-kerning:none;letter-spacing:0.00px;white-space:pre">C</text>
<text transform="translate(547.0,3464.5) scale(1.0000,1)" font-size="85" font-family='"Liberation Sans", Arial, sans-serif' font-weight="bold" fill="#000" style="font-kerning:none;letter-spacing:-11.09px;white-space:pre">O1s</text>
<text transform="translate(618.8,3543.6) scale(1.0000,1)" font-size="58" font-family='"Liberation Sans", Arial, sans-serif' font-weight="bold" fill="#000" style="font-kerning:none;letter-spacing:-5.10px;white-space:pre">527.85</text>
<text transform="translate(580.2,3768.0) scale(1.0000,1)" font-size="58" font-family='"Liberation Sans", Arial, sans-serif' font-weight="bold" fill="#000" style="font-kerning:none;letter-spacing:-6.85px;white-space:pre">528.7</text>
<text transform="translate(604.2,4043.4) scale(1.0000,1)" font-size="58" font-family='"Liberation Sans", Arial, sans-serif' font-weight="bold" fill="#000" style="font-kerning:none;letter-spacing:-5.29px;white-space:pre">529.50</text>
<text transform="translate(620.2,4262.5) scale(1.0000,1)" font-size="58" font-family='"Liberation Sans", Arial, sans-serif' font-weight="bold" fill="#000" style="font-kerning:none;letter-spacing:-5.44px;white-space:pre">529.55</text>
<text transform="translate(1393.4,3695.5) scale(1.0000,1)" font-size="81" font-family='"Liberation Sans", Arial, sans-serif' font-weight="bold" fill="#000" style="font-kerning:none;letter-spacing:0.00px;white-space:pre">d</text>
<text transform="translate(1395.8,3973.8) scale(1.0000,1)" font-size="82" font-family='"Liberation Sans", Arial, sans-serif' font-weight="bold" fill="#000" style="font-kerning:none;letter-spacing:0.00px;white-space:pre">c</text>
<text transform="translate(1399.4,4202.0) scale(1.0000,1)" font-size="81" font-family='"Liberation Sans", Arial, sans-serif' font-weight="bold" fill="#000" style="font-kerning:none;letter-spacing:0.00px;white-space:pre">b</text>
<text transform="translate(1400.3,4435.8) scale(1.0000,1)" font-size="83" font-family='"Liberation Sans", Arial, sans-serif' font-weight="bold" fill="#000" style="font-kerning:none;letter-spacing:0.00px;white-space:pre">a</text>
</svg>
</body></html>
